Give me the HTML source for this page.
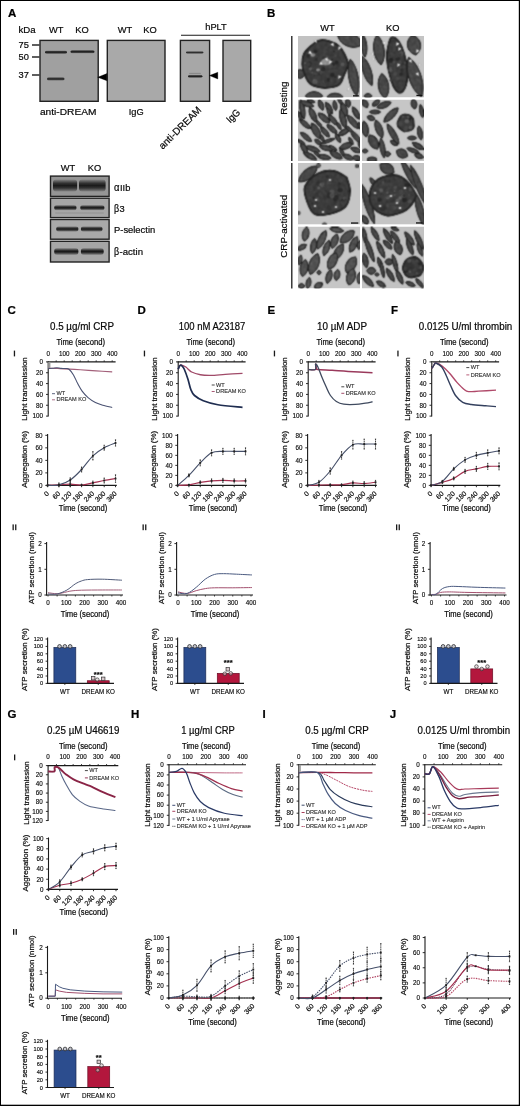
<!DOCTYPE html>
<html><head><meta charset="utf-8"><title>Figure</title>
<style>
html,body{margin:0;padding:0;background:#fff;}
svg{display:block;will-change:transform;}
text{font-family:"Liberation Sans", sans-serif;}
</style></head>
<body>
<svg width="520" height="1106" viewBox="0 0 520 1106" font-family="Liberation Sans, sans-serif">
<defs><filter id="emtex" x="0" y="0" width="100%" height="100%" color-interpolation-filters="sRGB"><feTurbulence type="fractalNoise" baseFrequency="0.3" numOctaves="2" seed="5" result="n"/><feColorMatrix in="n" type="matrix" values="0.33 0.33 0.33 0 0  0.33 0.33 0.33 0 0  0.33 0.33 0.33 0 0  0 0 0 0 1" result="g"/><feComposite in="SourceGraphic" in2="g" operator="arithmetic" k1="0.8" k2="0.6" k3="0" k4="0" result="c"/><feConvolveMatrix in="c" order="3" kernelMatrix="1 2 1 2 6 2 1 2 1" edgeMode="duplicate"/></filter><filter id="gb" x="0" y="0" width="100%" height="100%" color-interpolation-filters="sRGB"><feGaussianBlur stdDeviation="0.35"/></filter><linearGradient id="bandg" x1="0" y1="0" x2="0" y2="1"><stop offset="0" stop-color="#222" stop-opacity="0.15"/><stop offset="0.3" stop-color="#222" stop-opacity="0.85"/><stop offset="0.5" stop-color="#1a1a1a" stop-opacity="1"/><stop offset="0.7" stop-color="#222" stop-opacity="0.85"/><stop offset="1" stop-color="#222" stop-opacity="0.15"/></linearGradient><filter id="bl" x="-20%" y="-100%" width="140%" height="300%"><feGaussianBlur stdDeviation="0.5"/></filter></defs>
<rect x="0" y="0" width="520" height="1106" fill="#fff"/>
<text x="8.00" y="17.00" font-size="11.5" stroke="#000" stroke-width="0.22" font-weight="bold" fill="#000">A</text>
<text x="18.50" y="33.20" font-size="9.95" stroke="#1a1a1a" stroke-width="0.22" textLength="17.20" lengthAdjust="spacingAndGlyphs">kDa</text>
<text x="56.20" y="33.20" font-size="9.95" stroke="#1a1a1a" stroke-width="0.22" text-anchor="middle" textLength="14.46" lengthAdjust="spacingAndGlyphs">WT</text>
<text x="82.00" y="33.20" font-size="9.95" stroke="#1a1a1a" stroke-width="0.22" text-anchor="middle" textLength="13.44" lengthAdjust="spacingAndGlyphs">KO</text>
<text x="125.00" y="33.20" font-size="9.95" stroke="#1a1a1a" stroke-width="0.22" text-anchor="middle" textLength="14.46" lengthAdjust="spacingAndGlyphs">WT</text>
<text x="150.00" y="33.20" font-size="9.95" stroke="#1a1a1a" stroke-width="0.22" text-anchor="middle" textLength="13.44" lengthAdjust="spacingAndGlyphs">KO</text>
<text x="216.00" y="30.30" font-size="9.95" stroke="#1a1a1a" stroke-width="0.22" text-anchor="middle" textLength="21.54" lengthAdjust="spacingAndGlyphs">hPLT</text>
<line x1="181.00" y1="35.20" x2="250.00" y2="35.20" stroke="#1a1a1a" stroke-width="1.1"/>
<text x="28.90" y="48.30" font-size="9.95" stroke="#1a1a1a" stroke-width="0.22" text-anchor="end" textLength="10.34" lengthAdjust="spacingAndGlyphs">75</text>
<line x1="32.00" y1="45.00" x2="39.50" y2="45.00" stroke="#1a1a1a" stroke-width="1.4"/>
<text x="28.90" y="60.30" font-size="9.95" stroke="#1a1a1a" stroke-width="0.22" text-anchor="end" textLength="10.34" lengthAdjust="spacingAndGlyphs">50</text>
<line x1="32.00" y1="57.00" x2="39.50" y2="57.00" stroke="#1a1a1a" stroke-width="1.4"/>
<text x="28.90" y="78.30" font-size="9.95" stroke="#1a1a1a" stroke-width="0.22" text-anchor="end" textLength="10.34" lengthAdjust="spacingAndGlyphs">37</text>
<line x1="32.00" y1="75.00" x2="39.50" y2="75.00" stroke="#1a1a1a" stroke-width="1.4"/>
<rect x="40.00" y="40.40" width="58.20" height="60.90" fill="#a0a0a0" stroke="#222" stroke-width="1.4"/>
<rect x="107.30" y="40.40" width="57.70" height="60.90" fill="#a9a9a9" stroke="#222" stroke-width="1.4"/>
<rect x="180.40" y="40.40" width="29.20" height="60.90" fill="#a7a7a7" stroke="#222" stroke-width="1.4"/>
<rect x="223.00" y="40.40" width="27.70" height="60.90" fill="#a9a9a9" stroke="#222" stroke-width="1.4"/>
<rect x="45.00" y="50.40" width="22.00" height="3.60" rx="1.80" fill="url(#bandg)" opacity="1.0"/>
<rect x="70.50" y="49.90" width="24.00" height="3.60" rx="1.80" fill="url(#bandg)" opacity="1.0"/>
<rect x="47.00" y="77.10" width="17.50" height="3.60" rx="1.80" fill="url(#bandg)" opacity="0.95"/>
<rect x="186.00" y="51.10" width="17.40" height="2.80" rx="1.40" fill="url(#bandg)" opacity="0.85"/>
<rect x="188.00" y="74.70" width="14.40" height="3.20" rx="1.60" fill="url(#bandg)" opacity="1.0"/>
<rect x="189.00" y="72.40" width="12.00" height="1.60" rx="0.80" fill="url(#bandg)" opacity="0.25"/>
<path d="M97.6,77.2 L106.9,73.6 L106.9,80.8 Z" stroke="#000" stroke-width="0.3" fill="#000"/>
<path d="M209.4,75.6 L217.8,72.2 L217.8,79.0 Z" stroke="#000" stroke-width="0.3" fill="#000"/>
<text x="68.20" y="114.80" font-size="9.95" stroke="#1a1a1a" stroke-width="0.22" text-anchor="middle" textLength="56.50" lengthAdjust="spacingAndGlyphs">anti-DREAM</text>
<text x="136.20" y="114.80" font-size="9.95" stroke="#1a1a1a" stroke-width="0.22" text-anchor="middle" textLength="14.99" lengthAdjust="spacingAndGlyphs">IgG</text>
<text x="202.00" y="110.60" font-size="9.95" stroke="#1a1a1a" stroke-width="0.22" text-anchor="end" textLength="55.50" lengthAdjust="spacingAndGlyphs" transform="rotate(-45 202.00 110.60)">anti-DREAM</text>
<text x="240.80" y="113.00" font-size="9.95" stroke="#1a1a1a" stroke-width="0.22" text-anchor="end" textLength="14.99" lengthAdjust="spacingAndGlyphs" transform="rotate(-45 240.80 113.00)">IgG</text>
<text x="68.00" y="171.00" font-size="9.95" stroke="#1a1a1a" stroke-width="0.22" text-anchor="middle" textLength="14.46" lengthAdjust="spacingAndGlyphs">WT</text>
<text x="94.50" y="171.00" font-size="9.95" stroke="#1a1a1a" stroke-width="0.22" text-anchor="middle" textLength="13.44" lengthAdjust="spacingAndGlyphs">KO</text>
<rect x="50.50" y="176.10" width="58.60" height="20.30" fill="#959595" stroke="#222" stroke-width="1.4"/>
<rect x="53.00" y="179.60" width="24.10" height="12.00" rx="3.00" fill="url(#bandg)" opacity="1.0"/>
<rect x="79.00" y="179.60" width="26.60" height="12.00" rx="3.00" fill="url(#bandg)" opacity="1.0"/>
<rect x="50.50" y="198.20" width="58.60" height="19.40" fill="#a6a6a6" stroke="#222" stroke-width="1.4"/>
<rect x="54.20" y="205.10" width="22.30" height="5.20" rx="2.60" fill="url(#bandg)" opacity="1.0"/>
<rect x="80.30" y="205.10" width="24.10" height="5.20" rx="2.60" fill="url(#bandg)" opacity="1.0"/>
<rect x="50.50" y="219.50" width="58.60" height="19.70" fill="#a9a9a9" stroke="#222" stroke-width="1.4"/>
<rect x="56.20" y="226.30" width="22.20" height="5.40" rx="2.70" fill="url(#bandg)" opacity="1.0"/>
<rect x="80.90" y="226.30" width="21.60" height="5.40" rx="2.70" fill="url(#bandg)" opacity="1.0"/>
<rect x="50.50" y="241.30" width="58.60" height="20.70" fill="#a6a6a6" stroke="#222" stroke-width="1.4"/>
<rect x="54.20" y="248.10" width="24.20" height="6.80" rx="3.00" fill="url(#bandg)" opacity="1.0"/>
<rect x="80.90" y="248.10" width="22.80" height="6.80" rx="3.00" fill="url(#bandg)" opacity="1.0"/>
<rect x="55.00" y="212.25" width="49.00" height="1.50" rx="0.75" fill="url(#bandg)" opacity="0.2"/>
<text x="114.00" y="190.60" font-size="11.24" stroke="#1a1a1a" stroke-width="0.22" font-family="Liberation Serif" textLength="5.50" lengthAdjust="spacingAndGlyphs">α</text>
<text x="120.00" y="190.60" font-size="9.95" stroke="#1a1a1a" stroke-width="0.22" textLength="10.34" lengthAdjust="spacingAndGlyphs">IIb</text>
<text x="114.00" y="212.30" font-size="10.7" stroke="#1a1a1a" stroke-width="0.22" font-family="Liberation Serif" textLength="5.09" lengthAdjust="spacingAndGlyphs">β</text>
<text x="119.50" y="212.30" font-size="9.95" stroke="#1a1a1a" stroke-width="0.22" textLength="5.17" lengthAdjust="spacingAndGlyphs">3</text>
<text x="114.00" y="233.20" font-size="9.95" stroke="#1a1a1a" stroke-width="0.22" textLength="41.20" lengthAdjust="spacingAndGlyphs">P-selectin</text>
<text x="114.00" y="254.80" font-size="10.7" stroke="#1a1a1a" stroke-width="0.22" font-family="Liberation Serif" textLength="5.09" lengthAdjust="spacingAndGlyphs">β</text>
<text x="119.50" y="254.80" font-size="9.95" stroke="#1a1a1a" stroke-width="0.22" textLength="23.50" lengthAdjust="spacingAndGlyphs">-actin</text>
<text x="267.00" y="17.30" font-size="11.5" stroke="#000" stroke-width="0.22" font-weight="bold" fill="#000">B</text>
<text x="327.50" y="31.30" font-size="9.95" stroke="#1a1a1a" stroke-width="0.22" text-anchor="middle" textLength="14.46" lengthAdjust="spacingAndGlyphs">WT</text>
<text x="392.80" y="31.30" font-size="9.95" stroke="#1a1a1a" stroke-width="0.22" text-anchor="middle" textLength="13.44" lengthAdjust="spacingAndGlyphs">KO</text>
<line x1="291.80" y1="36.00" x2="291.80" y2="161.00" stroke="#1a1a1a" stroke-width="1.3"/>
<line x1="291.80" y1="163.00" x2="291.80" y2="288.60" stroke="#1a1a1a" stroke-width="1.3"/>
<text x="286.80" y="98.10" font-size="9.8" stroke="#1a1a1a" stroke-width="0.22" text-anchor="middle" textLength="33.20" lengthAdjust="spacingAndGlyphs" transform="rotate(-90 286.80 98.10)">Resting</text>
<text x="287.00" y="226.20" font-size="9.8" stroke="#1a1a1a" stroke-width="0.22" text-anchor="middle" textLength="63.00" lengthAdjust="spacingAndGlyphs" transform="rotate(-90 287.00 226.20)">CRP-activated</text>
<clipPath id="e1"><rect x="298.0" y="36.0" width="62" height="61.5"/></clipPath>
<g clip-path="url(#e1)">
<rect x="298.0" y="36.0" width="62" height="61.5" fill="#c2c2c2"/>
<g filter="url(#emtex)">
<path d="M-13.0,0 C-7.2,-8.7 7.2,-8.7 13.0,0 C7.2,8.7 -7.2,8.7 -13.0,0Z" fill="#484848" stroke="#242424" stroke-width="0.9" transform="translate(350.0 40.0) rotate(20)"/>
<path d="M-18.5,0 C-10.2,-6.2 10.2,-6.2 18.5,0 C10.2,6.2 -10.2,6.2 -18.5,0Z" fill="#484848" stroke="#242424" stroke-width="0.9" transform="translate(353.5 77.5) rotate(80)"/>
<path d="M-5.0,0 C-2.8,-5.6 2.8,-5.6 5.0,0 C2.8,5.6 -2.8,5.6 -5.0,0Z" fill="#484848" stroke="#242424" stroke-width="0.9" transform="translate(300.0 74.0) rotate(0)"/>
<path d="M-8.5,0 C-4.7,-5.6 4.7,-5.6 8.5,0 C4.7,5.6 -4.7,5.6 -8.5,0Z" fill="#484848" stroke="#242424" stroke-width="0.9" transform="translate(314.0 96.0) rotate(0)"/>
<path d="M-8.0,0 C-4.4,-5.0 4.4,-5.0 8.0,0 C4.4,5.0 -4.4,5.0 -8.0,0Z" fill="#484848" stroke="#242424" stroke-width="0.9" transform="translate(335.0 97.0) rotate(0)"/>
<path d="M348.45,64.30 C347.76,65.95 345.76,70.92 344.29,74.21 C342.82,77.50 342.09,81.85 339.63,84.06 C337.17,86.27 332.89,86.97 329.51,87.48 C326.13,88.00 322.64,87.88 319.36,87.17 C316.07,86.46 312.28,85.38 309.82,83.21 C307.37,81.04 305.88,77.30 304.64,74.15 C303.40,71.00 302.51,67.64 302.39,64.30 C302.26,60.96 302.54,57.07 303.91,54.09 C305.27,51.10 308.06,48.65 310.60,46.40 C313.14,44.14 316.02,41.38 319.16,40.54 C322.30,39.71 326.23,40.46 329.46,41.37 C332.68,42.28 336.00,43.84 338.51,46.00 C341.01,48.15 342.82,51.24 344.48,54.29 C346.14,57.35 347.79,62.63 348.45,64.30Z" fill="#3c3c3c" stroke="#262626" stroke-width="1.8"/>
<circle cx="310.4" cy="68.8" r="1.7" fill="rgb(96,96,96)" opacity="0.85"/>
<circle cx="309.4" cy="63.5" r="2.3" fill="rgb(42,42,42)" opacity="0.85"/>
<circle cx="309.3" cy="66.7" r="1.1" fill="rgb(42,42,42)" opacity="0.85"/>
<circle cx="322.5" cy="70.1" r="2.4" fill="rgb(96,96,96)" opacity="0.85"/>
<circle cx="314.4" cy="52.6" r="2.5" fill="rgb(62,62,62)" opacity="0.85"/>
<circle cx="315.7" cy="51.2" r="2.0" fill="rgb(42,42,42)" opacity="0.85"/>
<circle cx="326.8" cy="59.9" r="1.2" fill="rgb(36,36,36)" opacity="0.85"/>
<circle cx="324.6" cy="67.8" r="1.5" fill="rgb(62,62,62)" opacity="0.85"/>
<circle cx="317.1" cy="59.5" r="2.0" fill="rgb(42,42,42)" opacity="0.85"/>
<circle cx="308.5" cy="64.3" r="2.0" fill="rgb(62,62,62)" opacity="0.85"/>
<circle cx="312.3" cy="72.6" r="1.0" fill="rgb(96,96,96)" opacity="0.85"/>
<circle cx="324.0" cy="81.9" r="1.4" fill="rgb(72,72,72)" opacity="0.85"/>
<circle cx="339.9" cy="71.9" r="1.1" fill="rgb(62,62,62)" opacity="0.85"/>
<circle cx="323.1" cy="69.4" r="2.3" fill="rgb(36,36,36)" opacity="0.85"/>
<circle cx="333.4" cy="64.3" r="1.7" fill="rgb(36,36,36)" opacity="0.85"/>
<circle cx="336.6" cy="62.7" r="1.9" fill="rgb(36,36,36)" opacity="0.85"/>
<circle cx="329.5" cy="80.1" r="1.0" fill="rgb(50,50,50)" opacity="0.85"/>
<circle cx="314.9" cy="81.5" r="2.5" fill="rgb(96,96,96)" opacity="0.85"/>
<circle cx="335.3" cy="77.0" r="1.0" fill="rgb(36,36,36)" opacity="0.85"/>
<circle cx="326.8" cy="56.1" r="1.2" fill="rgb(72,72,72)" opacity="0.85"/>
<circle cx="305.0" cy="63.2" r="1.1" fill="rgb(96,96,96)" opacity="0.85"/>
<circle cx="320.3" cy="58.9" r="2.6" fill="rgb(62,62,62)" opacity="0.85"/>
<circle cx="342.6" cy="64.4" r="1.9" fill="rgb(96,96,96)" opacity="0.85"/>
<circle cx="327.1" cy="64.3" r="1.6" fill="rgb(42,42,42)" opacity="0.85"/>
<circle cx="334.0" cy="51.5" r="1.0" fill="rgb(36,36,36)" opacity="0.85"/>
<circle cx="332.3" cy="75.0" r="2.2" fill="rgb(36,36,36)" opacity="0.85"/>
<circle cx="319.3" cy="74.0" r="1.0" fill="rgb(36,36,36)" opacity="0.85"/>
<circle cx="328.4" cy="79.9" r="1.9" fill="rgb(36,36,36)" opacity="0.85"/>
<circle cx="315.3" cy="74.1" r="1.7" fill="rgb(72,72,72)" opacity="0.85"/>
<circle cx="308.2" cy="55.8" r="2.0" fill="rgb(42,42,42)" opacity="0.85"/>
<circle cx="320.9" cy="73.3" r="1.3" fill="rgb(72,72,72)" opacity="0.85"/>
<circle cx="330.6" cy="80.5" r="1.2" fill="rgb(72,72,72)" opacity="0.85"/>
<circle cx="341.9" cy="58.4" r="1.0" fill="rgb(72,72,72)" opacity="0.85"/>
<circle cx="330.6" cy="66.3" r="2.5" fill="rgb(72,72,72)" opacity="0.85"/>
<circle cx="325.6" cy="81.2" r="1.6" fill="rgb(50,50,50)" opacity="0.85"/>
<circle cx="335.7" cy="56.3" r="1.2" fill="rgb(72,72,72)" opacity="0.85"/>
<circle cx="323.5" cy="59.1" r="1.7" fill="rgb(42,42,42)" opacity="0.85"/>
<circle cx="315.7" cy="51.3" r="1.4" fill="rgb(36,36,36)" opacity="0.85"/>
<circle cx="332.1" cy="59.8" r="1.0" fill="rgb(36,36,36)" opacity="0.85"/>
<circle cx="316.1" cy="69.6" r="1.2" fill="rgb(36,36,36)" opacity="0.85"/>
<circle cx="314.4" cy="75.5" r="1.1" fill="rgb(42,42,42)" opacity="0.85"/>
<ellipse cx="326.0" cy="62.0" rx="5.0" ry="3.5" fill="#9a9a9a" opacity="0.9"/>
<ellipse cx="313.0" cy="55.0" rx="2.5" ry="1.8" fill="#9a9a9a" opacity="0.9"/>
<ellipse cx="318.0" cy="70.0" rx="2.0" ry="1.4" fill="#9a9a9a" opacity="0.9"/>
<path d="M0,-1.7 L3.4,0 L0,1.7 Z" fill="#f4f4f4" transform="translate(315.0 40.0) rotate(60)"/>
<path d="M0,-1.7 L3.4,0 L0,1.7 Z" fill="#f4f4f4" transform="translate(332.0 43.5) rotate(60)"/>
<path d="M0,-1.7 L3.4,0 L0,1.7 Z" fill="#f4f4f4" transform="translate(340.0 47.0) rotate(120)"/>
<path d="M0,-1.7 L3.4,0 L0,1.7 Z" fill="#f4f4f4" transform="translate(326.0 58.0) rotate(60)"/>
<path d="M0,-1.7 L3.4,0 L0,1.7 Z" fill="#f4f4f4" transform="translate(331.0 61.0) rotate(120)"/>
<path d="M0,-1.7 L3.4,0 L0,1.7 Z" fill="#f4f4f4" transform="translate(320.0 63.0) rotate(30)"/>
<path d="M0,-1.7 L3.4,0 L0,1.7 Z" fill="#f4f4f4" transform="translate(340.0 76.0) rotate(120)"/>
<path d="M0,-1.7 L3.4,0 L0,1.7 Z" fill="#f4f4f4" transform="translate(349.0 88.0) rotate(120)"/>
<path d="M0,-1.7 L3.4,0 L0,1.7 Z" fill="#f4f4f4" transform="translate(309.0 52.0) rotate(30)"/>
</g>
<rect x="353" y="95.2" width="5.8" height="1.3" fill="#111"/>
</g>
<clipPath id="e2"><rect x="362.0" y="36.0" width="62" height="61.5"/></clipPath>
<g clip-path="url(#e2)">
<rect x="362.0" y="36.0" width="62" height="61.5" fill="#c4c4c4"/>
<g filter="url(#emtex)">
<path d="M-11.0,0 C-6.1,-3.7 6.1,-3.7 11.0,0 C6.1,3.7 -6.1,3.7 -11.0,0Z" fill="#484848" stroke="#242424" stroke-width="0.9" transform="translate(364.0 46.0) rotate(85)"/>
<path d="M-15.5,0 C-8.5,-5.3 8.5,-5.3 15.5,0 C8.5,5.3 -8.5,5.3 -15.5,0Z" fill="#484848" stroke="#242424" stroke-width="0.9" transform="translate(367.0 71.0) rotate(72)"/>
<path d="M-15.0,0 C-8.2,-6.8 8.2,-6.8 15.0,0 C8.2,6.8 -8.2,6.8 -15.0,0Z" fill="#484848" stroke="#242424" stroke-width="0.9" transform="translate(379.0 50.0) rotate(82)"/>
<path d="M-12.5,0 C-6.9,-6.8 6.9,-6.8 12.5,0 C6.9,6.8 -6.9,6.8 -12.5,0Z" fill="#484848" stroke="#242424" stroke-width="0.9" transform="translate(383.5 86.0) rotate(82)"/>
<path d="M-20.5,0 C-11.3,-8.1 11.3,-8.1 20.5,0 C11.3,8.1 -11.3,8.1 -20.5,0Z" fill="#484848" stroke="#242424" stroke-width="0.9" transform="translate(415.0 77.0) rotate(72)"/>
<path d="M-10.0,0 C-5.5,-8.7 5.5,-8.7 10.0,0 C5.5,8.7 -5.5,8.7 -10.0,0Z" fill="#484848" stroke="#242424" stroke-width="0.9" transform="translate(414.0 45.0) rotate(80)"/>
<path d="M-4.0,0 C-2.2,-3.1 2.2,-3.1 4.0,0 C2.2,3.1 -2.2,3.1 -4.0,0Z" fill="#484848" stroke="#242424" stroke-width="0.9" transform="translate(368.0 96.0) rotate(0)"/>
<path d="M406.38,63.68 C406.54,65.64 407.39,71.87 407.31,75.43 C407.23,78.99 406.64,82.43 405.90,85.02 C405.15,87.62 404.07,89.78 402.85,91.00 C401.63,92.21 400.08,92.99 398.59,92.34 C397.10,91.69 395.27,89.65 393.91,87.09 C392.56,84.53 391.44,80.45 390.45,76.98 C389.46,73.51 388.54,69.96 387.96,66.27 C387.38,62.58 386.92,58.31 386.99,54.87 C387.06,51.43 387.73,48.41 388.39,45.61 C389.04,42.81 389.76,39.29 390.94,38.07 C392.12,36.85 393.95,37.35 395.45,38.29 C396.95,39.24 398.59,41.35 399.97,43.75 C401.35,46.15 402.66,49.36 403.73,52.68 C404.80,56.01 405.94,61.85 406.38,63.68Z" fill="#3c3c3c" stroke="#262626" stroke-width="1.8"/>
<circle cx="390.5" cy="67.9" r="1.5" fill="rgb(84,84,84)" opacity="0.85"/>
<circle cx="391.1" cy="80.2" r="1.4" fill="rgb(62,62,62)" opacity="0.85"/>
<circle cx="399.5" cy="47.6" r="1.3" fill="rgb(72,72,72)" opacity="0.85"/>
<circle cx="403.4" cy="65.2" r="1.5" fill="rgb(62,62,62)" opacity="0.85"/>
<circle cx="395.0" cy="73.7" r="2.3" fill="rgb(72,72,72)" opacity="0.85"/>
<circle cx="403.0" cy="73.4" r="2.1" fill="rgb(50,50,50)" opacity="0.85"/>
<circle cx="397.7" cy="58.6" r="2.3" fill="rgb(36,36,36)" opacity="0.85"/>
<circle cx="395.0" cy="55.9" r="2.5" fill="rgb(62,62,62)" opacity="0.85"/>
<circle cx="401.0" cy="74.5" r="1.8" fill="rgb(42,42,42)" opacity="0.85"/>
<circle cx="401.5" cy="53.6" r="2.4" fill="rgb(84,84,84)" opacity="0.85"/>
<circle cx="391.6" cy="59.6" r="1.6" fill="rgb(36,36,36)" opacity="0.85"/>
<circle cx="391.6" cy="73.5" r="1.9" fill="rgb(62,62,62)" opacity="0.85"/>
<circle cx="390.8" cy="60.4" r="2.5" fill="rgb(36,36,36)" opacity="0.85"/>
<circle cx="403.5" cy="62.3" r="2.5" fill="rgb(50,50,50)" opacity="0.85"/>
<circle cx="400.3" cy="54.6" r="1.1" fill="rgb(50,50,50)" opacity="0.85"/>
<circle cx="397.5" cy="78.5" r="1.9" fill="rgb(72,72,72)" opacity="0.85"/>
<circle cx="397.3" cy="55.5" r="2.3" fill="rgb(62,62,62)" opacity="0.85"/>
<circle cx="391.7" cy="71.9" r="2.0" fill="rgb(42,42,42)" opacity="0.85"/>
<circle cx="400.5" cy="67.7" r="1.1" fill="rgb(72,72,72)" opacity="0.85"/>
<circle cx="393.8" cy="62.1" r="1.4" fill="rgb(84,84,84)" opacity="0.85"/>
<circle cx="391.8" cy="71.5" r="2.0" fill="rgb(72,72,72)" opacity="0.85"/>
<circle cx="402.2" cy="69.9" r="1.5" fill="rgb(42,42,42)" opacity="0.85"/>
<circle cx="390.5" cy="70.2" r="1.7" fill="rgb(96,96,96)" opacity="0.85"/>
<circle cx="400.2" cy="62.5" r="1.5" fill="rgb(72,72,72)" opacity="0.85"/>
<circle cx="399.6" cy="83.1" r="0.9" fill="rgb(72,72,72)" opacity="0.85"/>
<circle cx="396.2" cy="84.6" r="1.2" fill="rgb(50,50,50)" opacity="0.85"/>
<circle cx="398.6" cy="49.7" r="2.0" fill="rgb(42,42,42)" opacity="0.85"/>
<circle cx="405.0" cy="62.7" r="1.2" fill="rgb(72,72,72)" opacity="0.85"/>
<path d="M0,-1.7 L3.4,0 L0,1.7 Z" fill="#f4f4f4" transform="translate(383.5 42.0) rotate(60)"/>
<path d="M0,-1.7 L3.4,0 L0,1.7 Z" fill="#f4f4f4" transform="translate(398.0 43.0) rotate(120)"/>
<path d="M0,-1.7 L3.4,0 L0,1.7 Z" fill="#f4f4f4" transform="translate(400.0 48.0) rotate(120)"/>
<path d="M0,-1.7 L3.4,0 L0,1.7 Z" fill="#f4f4f4" transform="translate(372.0 53.0) rotate(60)"/>
<path d="M0,-1.7 L3.4,0 L0,1.7 Z" fill="#f4f4f4" transform="translate(373.0 58.0) rotate(60)"/>
<path d="M0,-1.7 L3.4,0 L0,1.7 Z" fill="#f4f4f4" transform="translate(399.0 64.0) rotate(120)"/>
<path d="M0,-1.7 L3.4,0 L0,1.7 Z" fill="#f4f4f4" transform="translate(410.0 60.0) rotate(60)"/>
<path d="M0,-1.7 L3.4,0 L0,1.7 Z" fill="#f4f4f4" transform="translate(418.0 50.0) rotate(120)"/>
<path d="M0,-1.7 L3.4,0 L0,1.7 Z" fill="#f4f4f4" transform="translate(420.0 64.0) rotate(120)"/>
<path d="M0,-1.7 L3.4,0 L0,1.7 Z" fill="#f4f4f4" transform="translate(417.0 73.0) rotate(60)"/>
</g>
<rect x="416.4" y="94.8" width="6.0" height="1.3" fill="#111"/>
</g>
<clipPath id="e3"><rect x="298.0" y="99.5" width="62" height="61.5"/></clipPath>
<g clip-path="url(#e3)">
<rect x="298.0" y="99.5" width="62" height="61.5" fill="#c4c4c4"/>
<g filter="url(#emtex)">
<path d="M-10.0,0 C-5.5,-3.1 5.5,-3.1 10.0,0 C5.5,3.1 -5.5,3.1 -10.0,0Z" fill="#484848" stroke="#242424" stroke-width="0.9" transform="translate(302.3 109.0) rotate(80)"/>
<path d="M-7.0,0 C-3.9,-3.1 3.9,-3.1 7.0,0 C3.9,3.1 -3.9,3.1 -7.0,0Z" fill="#484848" stroke="#242424" stroke-width="0.9" transform="translate(307.0 104.0) rotate(20)"/>
<path d="M-8.0,0 C-4.4,-3.7 4.4,-3.7 8.0,0 C4.4,3.7 -4.4,3.7 -8.0,0Z" fill="#484848" stroke="#242424" stroke-width="0.9" transform="translate(313.0 115.0) rotate(65)"/>
<path d="M-5.5,0 C-3.0,-3.1 3.0,-3.1 5.5,0 C3.0,3.1 -3.0,3.1 -5.5,0Z" fill="#484848" stroke="#242424" stroke-width="0.9" transform="translate(321.0 105.0) rotate(70)"/>
<path d="M-6.5,0 C-3.6,-3.1 3.6,-3.1 6.5,0 C3.6,3.1 -3.6,3.1 -6.5,0Z" fill="#484848" stroke="#242424" stroke-width="0.9" transform="translate(329.0 108.0) rotate(60)"/>
<path d="M-5.0,0 C-2.8,-2.5 2.8,-2.5 5.0,0 C2.8,2.5 -2.8,2.5 -5.0,0Z" fill="#484848" stroke="#242424" stroke-width="0.9" transform="translate(335.0 105.5) rotate(80)"/>
<path d="M-7.5,0 C-4.1,-3.7 4.1,-3.7 7.5,0 C4.1,3.7 -4.1,3.7 -7.5,0Z" fill="#484848" stroke="#242424" stroke-width="0.9" transform="translate(344.0 109.0) rotate(70)"/>
<path d="M-4.5,0 C-2.5,-3.1 2.5,-3.1 4.5,0 C2.5,3.1 -2.5,3.1 -4.5,0Z" fill="#484848" stroke="#242424" stroke-width="0.9" transform="translate(348.0 103.0) rotate(80)"/>
<path d="M-7.0,0 C-3.9,-3.1 3.9,-3.1 7.0,0 C3.9,3.1 -3.9,3.1 -7.0,0Z" fill="#484848" stroke="#242424" stroke-width="0.9" transform="translate(356.0 113.0) rotate(60)"/>
<path d="M-7.5,0 C-4.1,-3.7 4.1,-3.7 7.5,0 C4.1,3.7 -4.1,3.7 -7.5,0Z" fill="#484848" stroke="#242424" stroke-width="0.9" transform="translate(324.0 118.0) rotate(40)"/>
<path d="M-6.5,0 C-3.6,-3.1 3.6,-3.1 6.5,0 C3.6,3.1 -3.6,3.1 -6.5,0Z" fill="#484848" stroke="#242424" stroke-width="0.9" transform="translate(333.0 120.0) rotate(50)"/>
<path d="M-10.0,0 C-5.5,-3.7 5.5,-3.7 10.0,0 C5.5,3.7 -5.5,3.7 -10.0,0Z" fill="#484848" stroke="#242424" stroke-width="0.9" transform="translate(343.0 119.0) rotate(75)"/>
<path d="M-8.5,0 C-4.7,-3.7 4.7,-3.7 8.5,0 C4.7,3.7 -4.7,3.7 -8.5,0Z" fill="#484848" stroke="#242424" stroke-width="0.9" transform="translate(353.0 122.0) rotate(50)"/>
<path d="M-7.0,0 C-3.9,-3.1 3.9,-3.1 7.0,0 C3.9,3.1 -3.9,3.1 -7.0,0Z" fill="#484848" stroke="#242424" stroke-width="0.9" transform="translate(305.0 124.0) rotate(40)"/>
<path d="M-9.0,0 C-5.0,-4.3 5.0,-4.3 9.0,0 C5.0,4.3 -5.0,4.3 -9.0,0Z" fill="#484848" stroke="#242424" stroke-width="0.9" transform="translate(316.0 131.0) rotate(60)"/>
<path d="M-6.5,0 C-3.6,-3.1 3.6,-3.1 6.5,0 C3.6,3.1 -3.6,3.1 -6.5,0Z" fill="#484848" stroke="#242424" stroke-width="0.9" transform="translate(325.0 132.0) rotate(50)"/>
<path d="M-6.5,0 C-3.6,-3.1 3.6,-3.1 6.5,0 C3.6,3.1 -3.6,3.1 -6.5,0Z" fill="#484848" stroke="#242424" stroke-width="0.9" transform="translate(332.0 129.0) rotate(40)"/>
<path d="M-6.5,0 C-3.6,-3.1 3.6,-3.1 6.5,0 C3.6,3.1 -3.6,3.1 -6.5,0Z" fill="#484848" stroke="#242424" stroke-width="0.9" transform="translate(344.0 132.0) rotate(-30)"/>
<path d="M-8.0,0 C-4.4,-3.1 4.4,-3.1 8.0,0 C4.4,3.1 -4.4,3.1 -8.0,0Z" fill="#484848" stroke="#242424" stroke-width="0.9" transform="translate(356.0 137.0) rotate(50)"/>
<path d="M-7.0,0 C-3.9,-3.1 3.9,-3.1 7.0,0 C3.9,3.1 -3.9,3.1 -7.0,0Z" fill="#484848" stroke="#242424" stroke-width="0.9" transform="translate(306.0 137.0) rotate(40)"/>
<path d="M-7.5,0 C-4.1,-1.9 4.1,-1.9 7.5,0 C4.1,1.9 -4.1,1.9 -7.5,0Z" fill="#484848" stroke="#242424" stroke-width="0.9" transform="translate(328.0 141.0) rotate(-20)"/>
<path d="M-6.5,0 C-3.6,-3.1 3.6,-3.1 6.5,0 C3.6,3.1 -3.6,3.1 -6.5,0Z" fill="#484848" stroke="#242424" stroke-width="0.9" transform="translate(304.0 148.0) rotate(60)"/>
<path d="M-7.5,0 C-4.1,-3.1 4.1,-3.1 7.5,0 C4.1,3.1 -4.1,3.1 -7.5,0Z" fill="#484848" stroke="#242424" stroke-width="0.9" transform="translate(313.0 149.0) rotate(20)"/>
<path d="M-7.0,0 C-3.9,-3.1 3.9,-3.1 7.0,0 C3.9,3.1 -3.9,3.1 -7.0,0Z" fill="#484848" stroke="#242424" stroke-width="0.9" transform="translate(326.0 148.0) rotate(15)"/>
<path d="M-7.0,0 C-3.9,-3.7 3.9,-3.7 7.0,0 C3.9,3.7 -3.9,3.7 -7.0,0Z" fill="#484848" stroke="#242424" stroke-width="0.9" transform="translate(346.0 146.0) rotate(-20)"/>
<path d="M-5.5,0 C-3.0,-3.1 3.0,-3.1 5.5,0 C3.0,3.1 -3.0,3.1 -5.5,0Z" fill="#484848" stroke="#242424" stroke-width="0.9" transform="translate(356.0 150.0) rotate(20)"/>
<path d="M-7.5,0 C-4.1,-3.1 4.1,-3.1 7.5,0 C4.1,3.1 -4.1,3.1 -7.5,0Z" fill="#484848" stroke="#242424" stroke-width="0.9" transform="translate(310.0 156.0) rotate(30)"/>
<path d="M-7.0,0 C-3.9,-3.1 3.9,-3.1 7.0,0 C3.9,3.1 -3.9,3.1 -7.0,0Z" fill="#484848" stroke="#242424" stroke-width="0.9" transform="translate(324.0 157.0) rotate(10)"/>
<path d="M-7.0,0 C-3.9,-3.7 3.9,-3.7 7.0,0 C3.9,3.7 -3.9,3.7 -7.0,0Z" fill="#484848" stroke="#242424" stroke-width="0.9" transform="translate(336.0 155.0) rotate(30)"/>
<path d="M-6.0,0 C-3.3,-3.1 3.3,-3.1 6.0,0 C3.3,3.1 -3.3,3.1 -6.0,0Z" fill="#484848" stroke="#242424" stroke-width="0.9" transform="translate(348.0 157.0) rotate(20)"/>
<path d="M-4.5,0 C-2.5,-3.1 2.5,-3.1 4.5,0 C2.5,3.1 -2.5,3.1 -4.5,0Z" fill="#484848" stroke="#242424" stroke-width="0.9" transform="translate(357.0 158.0) rotate(10)"/>
<path d="M-5.0,0 C-2.8,-2.5 2.8,-2.5 5.0,0 C2.8,2.5 -2.8,2.5 -5.0,0Z" fill="#484848" stroke="#242424" stroke-width="0.9" transform="translate(338.0 138.0) rotate(60)"/>
<path d="M-4.0,0 C-2.2,-2.5 2.2,-2.5 4.0,0 C2.2,2.5 -2.2,2.5 -4.0,0Z" fill="#484848" stroke="#242424" stroke-width="0.9" transform="translate(318.0 142.0) rotate(40)"/>
<path d="M-5.0,0 C-2.8,-1.9 2.8,-1.9 5.0,0 C2.8,1.9 -2.8,1.9 -5.0,0Z" fill="#484848" stroke="#242424" stroke-width="0.9" transform="translate(300.0 116.0) rotate(70)"/>
<path d="M-4.5,0 C-2.5,-1.9 2.5,-1.9 4.5,0 C2.5,1.9 -2.5,1.9 -4.5,0Z" fill="#484848" stroke="#242424" stroke-width="0.9" transform="translate(319.0 124.0) rotate(50)"/>
<path d="M-4.0,0 C-2.2,-1.9 2.2,-1.9 4.0,0 C2.2,1.9 -2.2,1.9 -4.0,0Z" fill="#484848" stroke="#242424" stroke-width="0.9" transform="translate(339.0 126.0) rotate(60)"/>
<path d="M-4.5,0 C-2.5,-1.9 2.5,-1.9 4.5,0 C2.5,1.9 -2.5,1.9 -4.5,0Z" fill="#484848" stroke="#242424" stroke-width="0.9" transform="translate(349.0 129.0) rotate(40)"/>
<path d="M-4.0,0 C-2.2,-1.9 2.2,-1.9 4.0,0 C2.2,1.9 -2.2,1.9 -4.0,0Z" fill="#484848" stroke="#242424" stroke-width="0.9" transform="translate(360.0 126.0) rotate(70)"/>
<path d="M-4.5,0 C-2.5,-1.9 2.5,-1.9 4.5,0 C2.5,1.9 -2.5,1.9 -4.5,0Z" fill="#484848" stroke="#242424" stroke-width="0.9" transform="translate(301.0 142.0) rotate(30)"/>
<path d="M-4.0,0 C-2.2,-1.9 2.2,-1.9 4.0,0 C2.2,1.9 -2.2,1.9 -4.0,0Z" fill="#484848" stroke="#242424" stroke-width="0.9" transform="translate(322.0 138.0) rotate(60)"/>
<path d="M-4.0,0 C-2.2,-1.9 2.2,-1.9 4.0,0 C2.2,1.9 -2.2,1.9 -4.0,0Z" fill="#484848" stroke="#242424" stroke-width="0.9" transform="translate(351.0 141.0) rotate(60)"/>
<path d="M-4.5,0 C-2.5,-1.9 2.5,-1.9 4.5,0 C2.5,1.9 -2.5,1.9 -4.5,0Z" fill="#484848" stroke="#242424" stroke-width="0.9" transform="translate(333.0 148.0) rotate(30)"/>
<path d="M-4.0,0 C-2.2,-1.9 2.2,-1.9 4.0,0 C2.2,1.9 -2.2,1.9 -4.0,0Z" fill="#484848" stroke="#242424" stroke-width="0.9" transform="translate(342.0 152.0) rotate(60)"/>
<path d="M-4.0,0 C-2.2,-1.9 2.2,-1.9 4.0,0 C2.2,1.9 -2.2,1.9 -4.0,0Z" fill="#484848" stroke="#242424" stroke-width="0.9" transform="translate(317.0 154.0) rotate(40)"/>
<path d="M-4.0,0 C-2.2,-1.9 2.2,-1.9 4.0,0 C2.2,1.9 -2.2,1.9 -4.0,0Z" fill="#484848" stroke="#242424" stroke-width="0.9" transform="translate(329.0 112.0) rotate(70)"/>
<path d="M-4.0,0 C-2.2,-1.9 2.2,-1.9 4.0,0 C2.2,1.9 -2.2,1.9 -4.0,0Z" fill="#484848" stroke="#242424" stroke-width="0.9" transform="translate(340.0 101.0) rotate(60)"/>
<path d="M-4.0,0 C-2.2,-1.9 2.2,-1.9 4.0,0 C2.2,1.9 -2.2,1.9 -4.0,0Z" fill="#484848" stroke="#242424" stroke-width="0.9" transform="translate(311.0 101.0) rotate(20)"/>
<path d="M-4.0,0 C-2.2,-1.9 2.2,-1.9 4.0,0 C2.2,1.9 -2.2,1.9 -4.0,0Z" fill="#484848" stroke="#242424" stroke-width="0.9" transform="translate(360.0 145.0) rotate(70)"/>
</g>
</g>
<clipPath id="e4"><rect x="362.0" y="99.5" width="62" height="61.5"/></clipPath>
<g clip-path="url(#e4)">
<rect x="362.0" y="99.5" width="62" height="61.5" fill="#c6c6c6"/>
<g filter="url(#emtex)">
<path d="M-4.5,0 C-2.5,-3.7 2.5,-3.7 4.5,0 C2.5,3.7 -2.5,3.7 -4.5,0Z" fill="#484848" stroke="#242424" stroke-width="0.9" transform="translate(365.0 103.5) rotate(60)"/>
<path d="M-4.5,0 C-2.5,-3.1 2.5,-3.1 4.5,0 C2.5,3.1 -2.5,3.1 -4.5,0Z" fill="#484848" stroke="#242424" stroke-width="0.9" transform="translate(376.0 103.0) rotate(-40)"/>
<path d="M-7.5,0 C-4.1,-3.7 4.1,-3.7 7.5,0 C4.1,3.7 -4.1,3.7 -7.5,0Z" fill="#484848" stroke="#242424" stroke-width="0.9" transform="translate(384.0 105.0) rotate(-20)"/>
<path d="M-5.0,0 C-2.8,-3.7 2.8,-3.7 5.0,0 C2.8,3.7 -2.8,3.7 -5.0,0Z" fill="#484848" stroke="#242424" stroke-width="0.9" transform="translate(414.0 104.0) rotate(80)"/>
<path d="M-6.5,0 C-3.6,-2.5 3.6,-2.5 6.5,0 C3.6,2.5 -3.6,2.5 -6.5,0Z" fill="#484848" stroke="#242424" stroke-width="0.9" transform="translate(421.5 111.0) rotate(80)"/>
<path d="M-5.5,0 C-3.0,-2.5 3.0,-2.5 5.5,0 C3.0,2.5 -3.0,2.5 -5.5,0Z" fill="#484848" stroke="#242424" stroke-width="0.9" transform="translate(375.0 112.0) rotate(0)"/>
<path d="M-10.0,0 C-5.5,-4.3 5.5,-4.3 10.0,0 C5.5,4.3 -5.5,4.3 -10.0,0Z" fill="#484848" stroke="#242424" stroke-width="0.9" transform="translate(391.0 115.0) rotate(-45)"/>
<path d="M-4.0,0 C-2.2,-3.1 2.2,-3.1 4.0,0 C2.2,3.1 -2.2,3.1 -4.0,0Z" fill="#484848" stroke="#242424" stroke-width="0.9" transform="translate(371.0 118.0) rotate(20)"/>
<path d="M-8.0,0 C-4.4,-4.3 4.4,-4.3 8.0,0 C4.4,4.3 -4.4,4.3 -8.0,0Z" fill="#484848" stroke="#242424" stroke-width="0.9" transform="translate(365.0 129.0) rotate(80)"/>
<path d="M-9.5,0 C-5.2,-4.3 5.2,-4.3 9.5,0 C5.2,4.3 -5.2,4.3 -9.5,0Z" fill="#484848" stroke="#242424" stroke-width="0.9" transform="translate(379.0 129.0) rotate(70)"/>
<path d="M-11.5,0 C-6.3,-3.7 6.3,-3.7 11.5,0 C6.3,3.7 -6.3,3.7 -11.5,0Z" fill="#484848" stroke="#242424" stroke-width="0.9" transform="translate(393.0 134.0) rotate(60)"/>
<path d="M-7.0,0 C-3.9,-3.1 3.9,-3.1 7.0,0 C3.9,3.1 -3.9,3.1 -7.0,0Z" fill="#484848" stroke="#242424" stroke-width="0.9" transform="translate(420.0 133.0) rotate(80)"/>
<path d="M-8.0,0 C-4.4,-5.6 4.4,-5.6 8.0,0 C4.4,5.6 -4.4,5.6 -8.0,0Z" fill="#484848" stroke="#242424" stroke-width="0.9" transform="translate(373.5 142.0) rotate(60)"/>
<path d="M-10.0,0 C-5.5,-3.1 5.5,-3.1 10.0,0 C5.5,3.1 -5.5,3.1 -10.0,0Z" fill="#484848" stroke="#242424" stroke-width="0.9" transform="translate(382.5 148.0) rotate(80)"/>
<path d="M-4.0,0 C-2.2,-2.5 2.2,-2.5 4.0,0 C2.2,2.5 -2.2,2.5 -4.0,0Z" fill="#484848" stroke="#242424" stroke-width="0.9" transform="translate(394.0 143.0) rotate(30)"/>
<path d="M-4.5,0 C-2.5,-2.5 2.5,-2.5 4.5,0 C2.5,2.5 -2.5,2.5 -4.5,0Z" fill="#484848" stroke="#242424" stroke-width="0.9" transform="translate(412.0 138.0) rotate(0)"/>
<path d="M-6.5,0 C-3.6,-3.1 3.6,-3.1 6.5,0 C3.6,3.1 -3.6,3.1 -6.5,0Z" fill="#484848" stroke="#242424" stroke-width="0.9" transform="translate(418.0 146.0) rotate(30)"/>
<path d="M-6.5,0 C-3.6,-2.5 3.6,-2.5 6.5,0 C3.6,2.5 -3.6,2.5 -6.5,0Z" fill="#484848" stroke="#242424" stroke-width="0.9" transform="translate(413.0 150.5) rotate(20)"/>
<path d="M-6.0,0 C-3.3,-5.6 3.3,-5.6 6.0,0 C3.3,5.6 -3.3,5.6 -6.0,0Z" fill="#484848" stroke="#242424" stroke-width="0.9" transform="translate(402.0 153.5) rotate(30)"/>
<path d="M-3.0,0 C-1.7,-2.5 1.7,-2.5 3.0,0 C1.7,2.5 -1.7,2.5 -3.0,0Z" fill="#484848" stroke="#242424" stroke-width="0.9" transform="translate(365.0 151.0) rotate(0)"/>
<path d="M-3.0,0 C-1.7,-3.1 1.7,-3.1 3.0,0 C1.7,3.1 -1.7,3.1 -3.0,0Z" fill="#484848" stroke="#242424" stroke-width="0.9" transform="translate(387.5 154.0) rotate(0)"/>
<path d="M-5.0,0 C-2.8,-2.5 2.8,-2.5 5.0,0 C2.8,2.5 -2.8,2.5 -5.0,0Z" fill="#484848" stroke="#242424" stroke-width="0.9" transform="translate(372.0 159.0) rotate(0)"/>
<path d="M-4.5,0 C-2.5,-3.1 2.5,-3.1 4.5,0 C2.5,3.1 -2.5,3.1 -4.5,0Z" fill="#484848" stroke="#242424" stroke-width="0.9" transform="translate(419.0 156.0) rotate(20)"/>
<path d="M413.47,123.00 C413.49,123.65 413.97,125.74 413.58,126.88 C413.19,128.02 412.13,129.21 411.14,129.85 C410.16,130.49 408.82,130.48 407.66,130.73 C406.50,130.98 405.28,131.57 404.21,131.34 C403.13,131.12 402.16,130.15 401.19,129.40 C400.23,128.66 399.01,127.95 398.41,126.89 C397.81,125.82 397.51,124.25 397.60,123.00 C397.70,121.75 398.44,120.54 398.99,119.41 C399.55,118.29 400.07,117.05 400.94,116.26 C401.81,115.48 403.09,114.94 404.22,114.72 C405.35,114.50 406.61,114.68 407.73,114.97 C408.85,115.25 410.05,115.68 410.94,116.42 C411.84,117.15 412.68,118.27 413.10,119.37 C413.52,120.46 413.41,122.39 413.47,123.00Z" fill="#3c3c3c" stroke="#262626" stroke-width="1.8"/>
<circle cx="405.7" cy="129.0" r="2.3" fill="rgb(84,84,84)" opacity="0.85"/>
<circle cx="410.2" cy="119.3" r="1.2" fill="rgb(84,84,84)" opacity="0.85"/>
<circle cx="406.9" cy="129.1" r="1.0" fill="rgb(42,42,42)" opacity="0.85"/>
<circle cx="409.3" cy="117.9" r="1.6" fill="rgb(36,36,36)" opacity="0.85"/>
<circle cx="408.8" cy="118.2" r="2.6" fill="rgb(36,36,36)" opacity="0.85"/>
<circle cx="407.0" cy="121.2" r="2.3" fill="rgb(96,96,96)" opacity="0.85"/>
<circle cx="408.1" cy="116.8" r="1.6" fill="rgb(84,84,84)" opacity="0.85"/>
<circle cx="410.1" cy="128.2" r="2.3" fill="rgb(50,50,50)" opacity="0.85"/>
<circle cx="400.1" cy="123.5" r="2.6" fill="rgb(72,72,72)" opacity="0.85"/>
<circle cx="402.9" cy="117.0" r="1.4" fill="rgb(84,84,84)" opacity="0.85"/>
<circle cx="410.6" cy="127.4" r="2.0" fill="rgb(96,96,96)" opacity="0.85"/>
<circle cx="405.6" cy="127.8" r="2.2" fill="rgb(72,72,72)" opacity="0.85"/>
</g>
</g>
<clipPath id="e5"><rect x="298.0" y="163.0" width="62" height="61.6"/></clipPath>
<g clip-path="url(#e5)">
<rect x="298.0" y="163.0" width="62" height="61.6" fill="#c6c6c6"/>
<g filter="url(#emtex)">
<path d="M-12.0,0 C-6.6,-6.2 6.6,-6.2 12.0,0 C6.6,6.2 -6.6,6.2 -12.0,0Z" fill="#484848" stroke="#242424" stroke-width="0.9" transform="translate(308.0 174.0) rotate(-40)"/>
<circle cx="318.5" cy="165.5" r="2.2" fill="#555"/>
<circle cx="357" cy="166" r="2.0" fill="#555"/>
<circle cx="324.5" cy="225" r="2.5" fill="#555"/>
<circle cx="298.5" cy="213" r="2.0" fill="#555"/>
<path d="M346.56,177.56 C347.11,179.80 350.03,186.20 349.87,190.99 C349.70,195.78 348.81,202.51 345.57,206.29 C342.33,210.06 335.55,212.37 330.41,213.64 C325.26,214.91 318.53,215.90 314.69,213.91 C310.85,211.93 308.95,206.33 307.35,201.73 C305.75,197.14 303.30,191.04 305.09,186.34 C306.88,181.63 313.24,176.06 318.08,173.52 C322.93,170.97 329.40,170.41 334.15,171.08 C338.89,171.76 344.49,176.48 346.56,177.56Z" fill="#3c3c3c" stroke="#262626" stroke-width="1.8"/>
<circle cx="342.3" cy="202.1" r="1.8" fill="rgb(84,84,84)" opacity="0.85"/>
<circle cx="328.8" cy="208.1" r="2.1" fill="rgb(50,50,50)" opacity="0.85"/>
<circle cx="322.0" cy="184.6" r="2.4" fill="rgb(84,84,84)" opacity="0.85"/>
<circle cx="312.5" cy="203.3" r="1.3" fill="rgb(50,50,50)" opacity="0.85"/>
<circle cx="338.8" cy="186.6" r="1.5" fill="rgb(50,50,50)" opacity="0.85"/>
<circle cx="318.1" cy="183.3" r="1.8" fill="rgb(42,42,42)" opacity="0.85"/>
<circle cx="324.0" cy="186.6" r="1.0" fill="rgb(84,84,84)" opacity="0.85"/>
<circle cx="325.5" cy="191.1" r="1.2" fill="rgb(50,50,50)" opacity="0.85"/>
<circle cx="341.8" cy="191.2" r="2.4" fill="rgb(62,62,62)" opacity="0.85"/>
<circle cx="342.5" cy="200.8" r="1.9" fill="rgb(36,36,36)" opacity="0.85"/>
<circle cx="320.1" cy="184.6" r="1.1" fill="rgb(96,96,96)" opacity="0.85"/>
<circle cx="339.2" cy="183.7" r="1.4" fill="rgb(42,42,42)" opacity="0.85"/>
<circle cx="317.9" cy="184.1" r="1.8" fill="rgb(50,50,50)" opacity="0.85"/>
<circle cx="343.8" cy="202.5" r="1.4" fill="rgb(36,36,36)" opacity="0.85"/>
<circle cx="334.7" cy="197.7" r="1.1" fill="rgb(62,62,62)" opacity="0.85"/>
<circle cx="322.0" cy="191.9" r="2.6" fill="rgb(62,62,62)" opacity="0.85"/>
<circle cx="334.9" cy="202.5" r="1.7" fill="rgb(50,50,50)" opacity="0.85"/>
<circle cx="313.3" cy="198.1" r="1.3" fill="rgb(36,36,36)" opacity="0.85"/>
<circle cx="317.2" cy="200.2" r="2.5" fill="rgb(72,72,72)" opacity="0.85"/>
<circle cx="335.8" cy="195.5" r="1.4" fill="rgb(84,84,84)" opacity="0.85"/>
<circle cx="310.4" cy="198.6" r="2.5" fill="rgb(62,62,62)" opacity="0.85"/>
<circle cx="317.3" cy="197.7" r="1.5" fill="rgb(72,72,72)" opacity="0.85"/>
<circle cx="315.9" cy="194.7" r="1.2" fill="rgb(72,72,72)" opacity="0.85"/>
<circle cx="318.3" cy="184.0" r="1.1" fill="rgb(50,50,50)" opacity="0.85"/>
<circle cx="336.0" cy="197.3" r="2.6" fill="rgb(36,36,36)" opacity="0.85"/>
<circle cx="318.7" cy="187.9" r="1.5" fill="rgb(96,96,96)" opacity="0.85"/>
<circle cx="328.4" cy="196.1" r="2.2" fill="rgb(42,42,42)" opacity="0.85"/>
<circle cx="339.0" cy="192.9" r="1.3" fill="rgb(72,72,72)" opacity="0.85"/>
<circle cx="328.5" cy="206.7" r="1.4" fill="rgb(50,50,50)" opacity="0.85"/>
<circle cx="329.3" cy="182.0" r="2.5" fill="rgb(72,72,72)" opacity="0.85"/>
<circle cx="327.4" cy="177.0" r="1.8" fill="rgb(42,42,42)" opacity="0.85"/>
<circle cx="335.4" cy="183.7" r="1.3" fill="rgb(62,62,62)" opacity="0.85"/>
<circle cx="316.3" cy="201.4" r="1.7" fill="rgb(50,50,50)" opacity="0.85"/>
<circle cx="332.0" cy="191.9" r="2.5" fill="rgb(84,84,84)" opacity="0.85"/>
<circle cx="316.3" cy="194.8" r="2.3" fill="rgb(50,50,50)" opacity="0.85"/>
<circle cx="331.8" cy="195.8" r="1.3" fill="rgb(42,42,42)" opacity="0.85"/>
<circle cx="320.9" cy="193.3" r="1.0" fill="rgb(62,62,62)" opacity="0.85"/>
<circle cx="342.4" cy="202.1" r="1.6" fill="rgb(72,72,72)" opacity="0.85"/>
<circle cx="335.3" cy="198.9" r="2.3" fill="rgb(42,42,42)" opacity="0.85"/>
<circle cx="329.7" cy="194.9" r="2.6" fill="rgb(42,42,42)" opacity="0.85"/>
<circle cx="340.7" cy="180.4" r="2.0" fill="rgb(72,72,72)" opacity="0.85"/>
<circle cx="324.1" cy="191.4" r="1.7" fill="rgb(62,62,62)" opacity="0.85"/>
<circle cx="340.1" cy="190.2" r="2.4" fill="rgb(36,36,36)" opacity="0.85"/>
<circle cx="344.6" cy="198.4" r="1.8" fill="rgb(84,84,84)" opacity="0.85"/>
<circle cx="344.6" cy="202.3" r="2.3" fill="rgb(62,62,62)" opacity="0.85"/>
<circle cx="332.0" cy="195.5" r="2.5" fill="rgb(84,84,84)" opacity="0.85"/>
<circle cx="345.6" cy="199.4" r="1.0" fill="rgb(50,50,50)" opacity="0.85"/>
<circle cx="348.3" cy="191.1" r="0.9" fill="rgb(42,42,42)" opacity="0.85"/>
<ellipse cx="330.0" cy="180.0" rx="1.3" ry="1.0" fill="#d8d8d8"/>
<ellipse cx="316.0" cy="200.0" rx="1.3" ry="1.0" fill="#d8d8d8"/>
<ellipse cx="323.0" cy="212.0" rx="1.3" ry="1.0" fill="#d8d8d8"/>
<ellipse cx="315.0" cy="206.0" rx="1.3" ry="1.0" fill="#d8d8d8"/>
<ellipse cx="336.0" cy="207.0" rx="1.3" ry="1.0" fill="#d8d8d8"/>
</g>
<rect x="351" y="222.4" width="7.3" height="1.3" fill="#111"/>
</g>
<clipPath id="e6"><rect x="362.0" y="163.0" width="62" height="61.6"/></clipPath>
<g clip-path="url(#e6)">
<rect x="362.0" y="163.0" width="62" height="61.6" fill="#c4c4c4"/>
<g filter="url(#emtex)">
<path d="M-8.0,0 C-4.4,-6.8 4.4,-6.8 8.0,0 C4.4,6.8 -4.4,6.8 -8.0,0Z" fill="#484848" stroke="#242424" stroke-width="0.9" transform="translate(387.0 168.5) rotate(30)"/>
<path d="M-17.0,0 C-9.4,-3.7 9.4,-3.7 17.0,0 C9.4,3.7 -9.4,3.7 -17.0,0Z" fill="#484848" stroke="#242424" stroke-width="0.9" transform="translate(409.0 174.0) rotate(62)"/>
<path d="M-22.0,0 C-12.1,-4.0 12.1,-4.0 22.0,0 C12.1,4.0 -12.1,4.0 -22.0,0Z" fill="#484848" stroke="#242424" stroke-width="0.9" transform="translate(419.0 186.0) rotate(68)"/>
<path d="M-21.0,0 C-11.6,-4.3 11.6,-4.3 21.0,0 C11.6,4.3 -11.6,4.3 -21.0,0Z" fill="#484848" stroke="#242424" stroke-width="0.9" transform="translate(368.0 204.0) rotate(72)"/>
<path d="M-17.0,0 C-9.4,-4.3 9.4,-4.3 17.0,0 C9.4,4.3 -9.4,4.3 -17.0,0Z" fill="#484848" stroke="#242424" stroke-width="0.9" transform="translate(420.0 210.0) rotate(75)"/>
<path d="M-5.0,0 C-2.8,-3.7 2.8,-3.7 5.0,0 C2.8,3.7 -2.8,3.7 -5.0,0Z" fill="#484848" stroke="#242424" stroke-width="0.9" transform="translate(365.0 220.0) rotate(60)"/>
<path d="M-5.0,0 C-2.8,-2.5 2.8,-2.5 5.0,0 C2.8,2.5 -2.8,2.5 -5.0,0Z" fill="#484848" stroke="#242424" stroke-width="0.9" transform="translate(373.0 182.0) rotate(55)"/>
<path d="M416.45,195.30 C415.72,196.68 413.86,201.14 412.11,203.61 C410.37,206.07 408.42,208.40 405.97,210.09 C403.52,211.78 400.51,212.84 397.43,213.74 C394.36,214.64 390.76,215.83 387.52,215.49 C384.27,215.16 380.72,213.54 377.97,211.72 C375.22,209.90 372.42,207.31 371.03,204.57 C369.65,201.84 369.47,198.32 369.64,195.30 C369.80,192.28 370.59,189.13 372.03,186.45 C373.48,183.78 375.69,181.02 378.30,179.25 C380.92,177.49 384.47,176.45 387.71,175.85 C390.94,175.25 394.69,174.91 397.74,175.67 C400.79,176.44 403.71,178.53 406.03,180.44 C408.35,182.36 409.93,184.70 411.67,187.18 C413.41,189.66 415.65,193.95 416.45,195.30Z" fill="#3c3c3c" stroke="#262626" stroke-width="1.8"/>
<circle cx="394.7" cy="194.9" r="1.0" fill="rgb(84,84,84)" opacity="0.85"/>
<circle cx="400.7" cy="191.0" r="2.4" fill="rgb(36,36,36)" opacity="0.85"/>
<circle cx="385.3" cy="181.0" r="1.3" fill="rgb(50,50,50)" opacity="0.85"/>
<circle cx="384.2" cy="207.5" r="1.6" fill="rgb(50,50,50)" opacity="0.85"/>
<circle cx="382.4" cy="208.9" r="2.4" fill="rgb(42,42,42)" opacity="0.85"/>
<circle cx="395.4" cy="187.6" r="1.8" fill="rgb(84,84,84)" opacity="0.85"/>
<circle cx="394.2" cy="206.7" r="1.7" fill="rgb(62,62,62)" opacity="0.85"/>
<circle cx="376.1" cy="199.0" r="1.9" fill="rgb(62,62,62)" opacity="0.85"/>
<circle cx="406.6" cy="189.5" r="2.2" fill="rgb(62,62,62)" opacity="0.85"/>
<circle cx="394.5" cy="191.2" r="0.9" fill="rgb(96,96,96)" opacity="0.85"/>
<circle cx="397.7" cy="200.7" r="2.1" fill="rgb(96,96,96)" opacity="0.85"/>
<circle cx="390.7" cy="186.4" r="1.2" fill="rgb(62,62,62)" opacity="0.85"/>
<circle cx="403.8" cy="182.6" r="1.0" fill="rgb(62,62,62)" opacity="0.85"/>
<circle cx="375.5" cy="198.3" r="1.4" fill="rgb(72,72,72)" opacity="0.85"/>
<circle cx="400.9" cy="191.5" r="2.5" fill="rgb(72,72,72)" opacity="0.85"/>
<circle cx="387.1" cy="201.9" r="1.2" fill="rgb(50,50,50)" opacity="0.85"/>
<circle cx="384.3" cy="187.8" r="1.5" fill="rgb(62,62,62)" opacity="0.85"/>
<circle cx="387.8" cy="197.0" r="2.3" fill="rgb(96,96,96)" opacity="0.85"/>
<circle cx="386.3" cy="196.2" r="1.6" fill="rgb(62,62,62)" opacity="0.85"/>
<circle cx="402.4" cy="196.1" r="1.1" fill="rgb(84,84,84)" opacity="0.85"/>
<circle cx="404.5" cy="199.8" r="2.5" fill="rgb(36,36,36)" opacity="0.85"/>
<circle cx="400.1" cy="205.4" r="2.4" fill="rgb(62,62,62)" opacity="0.85"/>
<circle cx="379.2" cy="195.4" r="2.3" fill="rgb(62,62,62)" opacity="0.85"/>
<circle cx="380.9" cy="190.4" r="2.2" fill="rgb(96,96,96)" opacity="0.85"/>
<circle cx="377.3" cy="199.8" r="1.0" fill="rgb(84,84,84)" opacity="0.85"/>
<circle cx="403.7" cy="195.8" r="2.3" fill="rgb(84,84,84)" opacity="0.85"/>
<circle cx="388.6" cy="196.9" r="1.4" fill="rgb(84,84,84)" opacity="0.85"/>
<circle cx="379.4" cy="199.5" r="2.3" fill="rgb(36,36,36)" opacity="0.85"/>
<circle cx="406.9" cy="185.3" r="2.4" fill="rgb(36,36,36)" opacity="0.85"/>
<circle cx="405.6" cy="188.5" r="0.9" fill="rgb(72,72,72)" opacity="0.85"/>
<circle cx="392.6" cy="207.3" r="1.5" fill="rgb(72,72,72)" opacity="0.85"/>
<circle cx="406.2" cy="188.0" r="1.7" fill="rgb(50,50,50)" opacity="0.85"/>
<circle cx="404.1" cy="195.5" r="1.5" fill="rgb(42,42,42)" opacity="0.85"/>
<circle cx="400.1" cy="197.9" r="1.8" fill="rgb(96,96,96)" opacity="0.85"/>
<circle cx="410.6" cy="189.7" r="1.9" fill="rgb(84,84,84)" opacity="0.85"/>
<circle cx="383.5" cy="209.1" r="1.5" fill="rgb(42,42,42)" opacity="0.85"/>
<circle cx="387.5" cy="205.9" r="1.8" fill="rgb(72,72,72)" opacity="0.85"/>
<circle cx="374.6" cy="196.9" r="2.5" fill="rgb(62,62,62)" opacity="0.85"/>
<circle cx="387.4" cy="192.7" r="1.2" fill="rgb(96,96,96)" opacity="0.85"/>
<circle cx="382.9" cy="182.4" r="1.2" fill="rgb(84,84,84)" opacity="0.85"/>
<circle cx="378.3" cy="191.6" r="1.5" fill="rgb(50,50,50)" opacity="0.85"/>
<circle cx="394.2" cy="207.9" r="2.0" fill="rgb(72,72,72)" opacity="0.85"/>
<circle cx="409.0" cy="194.9" r="1.2" fill="rgb(72,72,72)" opacity="0.85"/>
<circle cx="388.3" cy="180.8" r="1.7" fill="rgb(50,50,50)" opacity="0.85"/>
<circle cx="381.3" cy="187.5" r="0.9" fill="rgb(62,62,62)" opacity="0.85"/>
<circle cx="384.0" cy="208.0" r="2.6" fill="rgb(50,50,50)" opacity="0.85"/>
<circle cx="409.7" cy="201.3" r="1.9" fill="rgb(84,84,84)" opacity="0.85"/>
<circle cx="393.9" cy="199.6" r="1.2" fill="rgb(50,50,50)" opacity="0.85"/>
<ellipse cx="405.0" cy="188.0" rx="1.4" ry="1.1" fill="#dcdcdc"/>
<ellipse cx="375.0" cy="193.0" rx="1.4" ry="1.1" fill="#dcdcdc"/>
<ellipse cx="391.0" cy="196.0" rx="1.4" ry="1.1" fill="#dcdcdc"/>
<ellipse cx="397.0" cy="203.0" rx="1.4" ry="1.1" fill="#dcdcdc"/>
<ellipse cx="400.0" cy="208.0" rx="1.4" ry="1.1" fill="#dcdcdc"/>
<ellipse cx="380.0" cy="206.0" rx="1.4" ry="1.1" fill="#dcdcdc"/>
</g>
<rect x="416" y="222.3" width="6.5" height="1.3" fill="#111"/>
</g>
<clipPath id="e7"><rect x="298.0" y="226.5" width="62" height="62.0"/></clipPath>
<g clip-path="url(#e7)">
<rect x="298.0" y="226.5" width="62" height="62.0" fill="#c6c6c6"/>
<g filter="url(#emtex)">
<path d="M-7.0,0 C-3.9,-4.3 3.9,-4.3 7.0,0 C3.9,4.3 -3.9,4.3 -7.0,0Z" fill="#525252" stroke="#242424" stroke-width="0.9" transform="translate(305.6 234.2) rotate(-80)"/>
<path d="M-10.0,0 C-5.5,-4.3 5.5,-4.3 10.0,0 C5.5,4.3 -5.5,4.3 -10.0,0Z" fill="#525252" stroke="#242424" stroke-width="0.9" transform="translate(321.6 239.8) rotate(-65)"/>
<path d="M-7.0,0 C-3.9,-3.1 3.9,-3.1 7.0,0 C3.9,3.1 -3.9,3.1 -7.0,0Z" fill="#525252" stroke="#242424" stroke-width="0.9" transform="translate(336.7 229.9) rotate(10)"/>
<path d="M-9.0,0 C-5.0,-5.6 5.0,-5.6 9.0,0 C5.0,5.6 -5.0,5.6 -9.0,0Z" fill="#525252" stroke="#242424" stroke-width="0.9" transform="translate(347.2 236.8) rotate(-40)"/>
<path d="M-7.5,0 C-4.1,-4.3 4.1,-4.3 7.5,0 C4.1,4.3 -4.1,4.3 -7.5,0Z" fill="#525252" stroke="#242424" stroke-width="0.9" transform="translate(334.5 241.2) rotate(-70)"/>
<path d="M-8.5,0 C-4.7,-4.3 4.7,-4.3 8.5,0 C4.7,4.3 -4.7,4.3 -8.5,0Z" fill="#525252" stroke="#242424" stroke-width="0.9" transform="translate(353.6 244.4) rotate(-65)"/>
<path d="M-4.5,0 C-2.5,-2.5 2.5,-2.5 4.5,0 C2.5,2.5 -2.5,2.5 -4.5,0Z" fill="#525252" stroke="#242424" stroke-width="0.9" transform="translate(359.5 245.0) rotate(-80)"/>
<path d="M-5.0,0 C-2.8,-3.1 2.8,-3.1 5.0,0 C2.8,3.1 -2.8,3.1 -5.0,0Z" fill="#525252" stroke="#242424" stroke-width="0.9" transform="translate(302.0 247.2) rotate(-30)"/>
<path d="M-7.5,0 C-4.1,-3.7 4.1,-3.7 7.5,0 C4.1,3.7 -4.1,3.7 -7.5,0Z" fill="#525252" stroke="#242424" stroke-width="0.9" transform="translate(313.5 246.0) rotate(-80)"/>
<path d="M-8.0,0 C-4.4,-3.7 4.4,-3.7 8.0,0 C4.4,3.7 -4.4,3.7 -8.0,0Z" fill="#525252" stroke="#242424" stroke-width="0.9" transform="translate(326.5 248.0) rotate(-70)"/>
<path d="M-9.0,0 C-5.0,-5.0 5.0,-5.0 9.0,0 C5.0,5.0 -5.0,5.0 -9.0,0Z" fill="#525252" stroke="#242424" stroke-width="0.9" transform="translate(338.5 252.0) rotate(-60)"/>
<path d="M-5.0,0 C-2.8,-2.5 2.8,-2.5 5.0,0 C2.8,2.5 -2.8,2.5 -5.0,0Z" fill="#525252" stroke="#242424" stroke-width="0.9" transform="translate(300.0 260.0) rotate(-80)"/>
<path d="M-11.0,0 C-6.1,-6.2 6.1,-6.2 11.0,0 C6.1,6.2 -6.1,6.2 -11.0,0Z" fill="#525252" stroke="#242424" stroke-width="0.9" transform="translate(314.0 264.0) rotate(-70)"/>
<path d="M-9.0,0 C-5.0,-5.6 5.0,-5.6 9.0,0 C5.0,5.6 -5.0,5.6 -9.0,0Z" fill="#525252" stroke="#242424" stroke-width="0.9" transform="translate(332.5 261.0) rotate(-65)"/>
<path d="M-9.0,0 C-5.0,-6.2 5.0,-6.2 9.0,0 C5.0,6.2 -5.0,6.2 -9.0,0Z" fill="#525252" stroke="#242424" stroke-width="0.9" transform="translate(351.0 264.7) rotate(-60)"/>
<path d="M-8.5,0 C-4.7,-5.0 4.7,-5.0 8.5,0 C4.7,5.0 -4.7,5.0 -8.5,0Z" fill="#525252" stroke="#242424" stroke-width="0.9" transform="translate(304.0 268.0) rotate(-80)"/>
<path d="M-7.0,0 C-3.9,-3.7 3.9,-3.7 7.0,0 C3.9,3.7 -3.9,3.7 -7.0,0Z" fill="#525252" stroke="#242424" stroke-width="0.9" transform="translate(329.0 276.6) rotate(-75)"/>
<path d="M-5.5,0 C-3.0,-3.7 3.0,-3.7 5.5,0 C3.0,3.7 -3.0,3.7 -5.5,0Z" fill="#525252" stroke="#242424" stroke-width="0.9" transform="translate(337.0 275.0) rotate(-80)"/>
<path d="M-8.5,0 C-4.7,-5.6 4.7,-5.6 8.5,0 C4.7,5.6 -4.7,5.6 -8.5,0Z" fill="#525252" stroke="#242424" stroke-width="0.9" transform="translate(351.0 276.7) rotate(-75)"/>
<path d="M-6.0,0 C-3.3,-3.1 3.3,-3.1 6.0,0 C3.3,3.1 -3.3,3.1 -6.0,0Z" fill="#525252" stroke="#242424" stroke-width="0.9" transform="translate(359.5 278.0) rotate(-85)"/>
<path d="M-5.5,0 C-3.0,-3.1 3.0,-3.1 5.5,0 C3.0,3.1 -3.0,3.1 -5.5,0Z" fill="#525252" stroke="#242424" stroke-width="0.9" transform="translate(308.5 283.0) rotate(-80)"/>
<path d="M-4.5,0 C-2.5,-3.7 2.5,-3.7 4.5,0 C2.5,3.7 -2.5,3.7 -4.5,0Z" fill="#525252" stroke="#242424" stroke-width="0.9" transform="translate(318.5 285.5) rotate(-30)"/>
<path d="M-3.0,0 C-1.7,-3.1 1.7,-3.1 3.0,0 C1.7,3.1 -1.7,3.1 -3.0,0Z" fill="#525252" stroke="#242424" stroke-width="0.9" transform="translate(301.5 286.0) rotate(0)"/>
<path d="M-2.0,0 C-1.1,-2.5 1.1,-2.5 2.0,0 C1.1,2.5 -1.1,2.5 -2.0,0Z" fill="#525252" stroke="#242424" stroke-width="0.9" transform="translate(319.0 272.5) rotate(0)"/>
</g>
</g>
<clipPath id="e8"><rect x="362.0" y="226.5" width="62" height="62.0"/></clipPath>
<g clip-path="url(#e8)">
<rect x="362.0" y="226.5" width="62" height="62.0" fill="#c2c2c2"/>
<g filter="url(#emtex)">
<path d="M-8.5,0 C-4.7,-2.5 4.7,-2.5 8.5,0 C4.7,2.5 -4.7,2.5 -8.5,0Z" fill="#484848" stroke="#242424" stroke-width="0.9" transform="translate(364.7 236.1) rotate(80)"/>
<path d="M-7.5,0 C-4.1,-3.0 4.1,-3.0 7.5,0 C4.1,3.0 -4.1,3.0 -7.5,0Z" fill="#484848" stroke="#242424" stroke-width="0.9" transform="translate(375.1 234.0) rotate(60)"/>
<path d="M-8.5,0 C-4.7,-3.0 4.7,-3.0 8.5,0 C4.7,3.0 -4.7,3.0 -8.5,0Z" fill="#484848" stroke="#242424" stroke-width="0.9" transform="translate(387.9 236.0) rotate(60)"/>
<path d="M-7.5,0 C-4.1,-3.0 4.1,-3.0 7.5,0 C4.1,3.0 -4.1,3.0 -7.5,0Z" fill="#484848" stroke="#242424" stroke-width="0.9" transform="translate(395.2 237.2) rotate(55)"/>
<path d="M-8.0,0 C-4.4,-3.0 4.4,-3.0 8.0,0 C4.4,3.0 -4.4,3.0 -8.0,0Z" fill="#484848" stroke="#242424" stroke-width="0.9" transform="translate(409.5 238.5) rotate(55)"/>
<path d="M-10.0,0 C-5.5,-3.0 5.5,-3.0 10.0,0 C5.5,3.0 -5.5,3.0 -10.0,0Z" fill="#484848" stroke="#242424" stroke-width="0.9" transform="translate(418.9 240.0) rotate(65)"/>
<path d="M-13.0,0 C-7.2,-3.0 7.2,-3.0 13.0,0 C7.2,3.0 -7.2,3.0 -13.0,0Z" fill="#484848" stroke="#242424" stroke-width="0.9" transform="translate(369.6 249.6) rotate(70)"/>
<path d="M-9.0,0 C-5.0,-3.0 5.0,-3.0 9.0,0 C5.0,3.0 -5.0,3.0 -9.0,0Z" fill="#484848" stroke="#242424" stroke-width="0.9" transform="translate(380.8 249.6) rotate(65)"/>
<path d="M-6.0,0 C-3.3,-3.0 3.3,-3.0 6.0,0 C3.3,3.0 -3.3,3.0 -6.0,0Z" fill="#484848" stroke="#242424" stroke-width="0.9" transform="translate(387.6 244.8) rotate(45)"/>
<path d="M-7.0,0 C-3.9,-5.0 3.9,-5.0 7.0,0 C3.9,5.0 -3.9,5.0 -7.0,0Z" fill="#484848" stroke="#242424" stroke-width="0.9" transform="translate(398.2 248.0) rotate(70)"/>
<path d="M-8.5,0 C-4.7,-3.0 4.7,-3.0 8.5,0 C4.7,3.0 -4.7,3.0 -8.5,0Z" fill="#484848" stroke="#242424" stroke-width="0.9" transform="translate(409.9 247.0) rotate(70)"/>
<path d="M-7.0,0 C-3.9,-2.5 3.9,-2.5 7.0,0 C3.9,2.5 -3.9,2.5 -7.0,0Z" fill="#484848" stroke="#242424" stroke-width="0.9" transform="translate(419.9 249.6) rotate(70)"/>
<path d="M-7.5,0 C-4.1,-3.5 4.1,-3.5 7.5,0 C4.1,3.5 -4.1,3.5 -7.5,0Z" fill="#484848" stroke="#242424" stroke-width="0.9" transform="translate(365.3 260.5) rotate(80)"/>
<path d="M-6.5,0 C-3.6,-2.5 3.6,-2.5 6.5,0 C3.6,2.5 -3.6,2.5 -6.5,0Z" fill="#484848" stroke="#242424" stroke-width="0.9" transform="translate(380.1 263.5) rotate(70)"/>
<path d="M-4.0,0 C-2.2,-4.0 2.2,-4.0 4.0,0 C2.2,4.0 -2.2,4.0 -4.0,0Z" fill="#484848" stroke="#242424" stroke-width="0.9" transform="translate(389.0 261.9) rotate(0)"/>
<path d="M-9.5,0 C-5.2,-2.5 5.2,-2.5 9.5,0 C5.2,2.5 -5.2,2.5 -9.5,0Z" fill="#484848" stroke="#242424" stroke-width="0.9" transform="translate(395.0 263.5) rotate(75)"/>
<path d="M-4.5,0 C-2.5,-4.5 2.5,-4.5 4.5,0 C2.5,4.5 -2.5,4.5 -4.5,0Z" fill="#484848" stroke="#242424" stroke-width="0.9" transform="translate(371.3 270.8) rotate(0)"/>
<path d="M-8.0,0 C-4.4,-2.0 4.4,-2.0 8.0,0 C4.4,2.0 -4.4,2.0 -8.0,0Z" fill="#484848" stroke="#242424" stroke-width="0.9" transform="translate(382.4 270.0) rotate(80)"/>
<path d="M-7.5,0 C-4.1,-3.0 4.1,-3.0 7.5,0 C4.1,3.0 -4.1,3.0 -7.5,0Z" fill="#484848" stroke="#242424" stroke-width="0.9" transform="translate(390.3 274.8) rotate(60)"/>
<path d="M-7.5,0 C-4.1,-3.0 4.1,-3.0 7.5,0 C4.1,3.0 -4.1,3.0 -7.5,0Z" fill="#484848" stroke="#242424" stroke-width="0.9" transform="translate(399.6 277.2) rotate(65)"/>
<path d="M-7.5,0 C-4.1,-3.5 4.1,-3.5 7.5,0 C4.1,3.5 -4.1,3.5 -7.5,0Z" fill="#484848" stroke="#242424" stroke-width="0.9" transform="translate(368.0 281.0) rotate(45)"/>
<path d="M-5.0,0 C-2.8,-3.0 2.8,-3.0 5.0,0 C2.8,3.0 -2.8,3.0 -5.0,0Z" fill="#484848" stroke="#242424" stroke-width="0.9" transform="translate(381.0 284.0) rotate(30)"/>
<path d="M-5.0,0 C-2.8,-2.5 2.8,-2.5 5.0,0 C2.8,2.5 -2.8,2.5 -5.0,0Z" fill="#484848" stroke="#242424" stroke-width="0.9" transform="translate(410.5 284.0) rotate(20)"/>
<path d="M-5.5,0 C-3.0,-2.5 3.0,-2.5 5.5,0 C3.0,2.5 -3.0,2.5 -5.5,0Z" fill="#484848" stroke="#242424" stroke-width="0.9" transform="translate(419.5 283.0) rotate(50)"/>
<path d="M-2.0,0 C-1.1,-2.0 1.1,-2.0 2.0,0 C1.1,2.0 -1.1,2.0 -2.0,0Z" fill="#484848" stroke="#242424" stroke-width="0.9" transform="translate(377.0 274.5) rotate(0)"/>
<path d="M-4.0,0 C-2.2,-2.0 2.2,-2.0 4.0,0 C2.2,2.0 -2.2,2.0 -4.0,0Z" fill="#484848" stroke="#242424" stroke-width="0.9" transform="translate(395.0 229.0) rotate(20)"/>
<path d="M423.45,267.50 C423.23,268.23 422.81,270.56 422.14,271.90 C421.47,273.24 420.61,274.78 419.43,275.56 C418.25,276.34 416.52,276.26 415.07,276.58 C413.62,276.89 412.15,277.62 410.73,277.45 C409.31,277.28 407.68,276.52 406.56,275.58 C405.44,274.64 404.60,273.17 404.01,271.83 C403.43,270.48 402.97,268.92 403.02,267.50 C403.07,266.08 403.67,264.60 404.31,263.32 C404.95,262.03 405.77,260.73 406.85,259.78 C407.92,258.84 409.33,258.06 410.75,257.64 C412.16,257.21 413.91,256.92 415.34,257.25 C416.76,257.58 418.20,258.61 419.30,259.60 C420.40,260.59 421.26,261.87 421.95,263.19 C422.64,264.51 423.20,266.78 423.45,267.50Z" fill="#3c3c3c" stroke="#262626" stroke-width="1.8"/>
<circle cx="409.2" cy="272.0" r="1.3" fill="rgb(62,62,62)" opacity="0.85"/>
<circle cx="420.9" cy="267.8" r="1.3" fill="rgb(84,84,84)" opacity="0.85"/>
<circle cx="412.4" cy="266.9" r="2.3" fill="rgb(50,50,50)" opacity="0.85"/>
<circle cx="408.9" cy="260.3" r="1.4" fill="rgb(72,72,72)" opacity="0.85"/>
<circle cx="415.0" cy="259.4" r="0.9" fill="rgb(50,50,50)" opacity="0.85"/>
<circle cx="416.8" cy="272.9" r="0.9" fill="rgb(84,84,84)" opacity="0.85"/>
<circle cx="406.5" cy="269.3" r="2.6" fill="rgb(50,50,50)" opacity="0.85"/>
<circle cx="414.0" cy="262.5" r="2.2" fill="rgb(62,62,62)" opacity="0.85"/>
<circle cx="409.8" cy="272.0" r="1.2" fill="rgb(84,84,84)" opacity="0.85"/>
<circle cx="407.0" cy="265.0" r="2.6" fill="rgb(50,50,50)" opacity="0.85"/>
<circle cx="416.7" cy="260.9" r="1.5" fill="rgb(72,72,72)" opacity="0.85"/>
<circle cx="408.3" cy="267.8" r="1.7" fill="rgb(50,50,50)" opacity="0.85"/>
<circle cx="419.5" cy="270.4" r="2.3" fill="rgb(84,84,84)" opacity="0.85"/>
<circle cx="405.6" cy="270.2" r="2.5" fill="rgb(36,36,36)" opacity="0.85"/>
<circle cx="405.5" cy="268.7" r="2.3" fill="rgb(62,62,62)" opacity="0.85"/>
<circle cx="419.1" cy="270.7" r="2.1" fill="rgb(42,42,42)" opacity="0.85"/>
<circle cx="420.0" cy="263.6" r="1.8" fill="rgb(36,36,36)" opacity="0.85"/>
<circle cx="410.1" cy="263.0" r="1.7" fill="rgb(50,50,50)" opacity="0.85"/>
<circle cx="409.2" cy="260.8" r="2.0" fill="rgb(84,84,84)" opacity="0.85"/>
</g>
</g>
<text x="7.50" y="314.20" font-size="11.5" stroke="#000" stroke-width="0.22" font-weight="bold" fill="#000">C</text>
<text x="82.00" y="330.00" font-size="10.49" stroke="#1a1a1a" stroke-width="0.22" text-anchor="middle" textLength="64.00" lengthAdjust="spacingAndGlyphs">0.5 µg/ml CRP</text>
<rect x="13.80" y="350.60" width="1.30" height="5.80" fill="#1a1a1a"/>
<text x="80.70" y="344.60" font-size="8.24" stroke="#1a1a1a" stroke-width="0.22" text-anchor="middle" textLength="48.50" lengthAdjust="spacingAndGlyphs">Time (second)</text>
<text x="48.20" y="355.60" font-size="6.3" stroke="#1a1a1a" stroke-width="0.14" text-anchor="middle">0</text>
<text x="64.20" y="355.60" font-size="6.3" stroke="#1a1a1a" stroke-width="0.14" text-anchor="middle">100</text>
<text x="80.20" y="355.60" font-size="6.3" stroke="#1a1a1a" stroke-width="0.14" text-anchor="middle">200</text>
<text x="96.20" y="355.60" font-size="6.3" stroke="#1a1a1a" stroke-width="0.14" text-anchor="middle">300</text>
<text x="112.20" y="355.60" font-size="6.3" stroke="#1a1a1a" stroke-width="0.14" text-anchor="middle">400</text>
<line x1="47.70" y1="361.90" x2="115.60" y2="361.90" stroke="#1a1a1a" stroke-width="1.1"/>
<line x1="56.20" y1="360.30" x2="56.20" y2="361.90" stroke="#1a1a1a" stroke-width="0.8"/>
<line x1="64.20" y1="360.30" x2="64.20" y2="361.90" stroke="#1a1a1a" stroke-width="0.8"/>
<line x1="72.20" y1="360.30" x2="72.20" y2="361.90" stroke="#1a1a1a" stroke-width="0.8"/>
<line x1="80.20" y1="360.30" x2="80.20" y2="361.90" stroke="#1a1a1a" stroke-width="0.8"/>
<line x1="88.20" y1="360.30" x2="88.20" y2="361.90" stroke="#1a1a1a" stroke-width="0.8"/>
<line x1="96.20" y1="360.30" x2="96.20" y2="361.90" stroke="#1a1a1a" stroke-width="0.8"/>
<line x1="104.20" y1="360.30" x2="104.20" y2="361.90" stroke="#1a1a1a" stroke-width="0.8"/>
<line x1="112.20" y1="360.30" x2="112.20" y2="361.90" stroke="#1a1a1a" stroke-width="0.8"/>
<line x1="48.20" y1="361.40" x2="48.20" y2="416.60" stroke="#1a1a1a" stroke-width="1.1"/>
<line x1="46.00" y1="361.90" x2="48.20" y2="361.90" stroke="#1a1a1a" stroke-width="0.9"/>
<text x="42.90" y="364.15" font-size="6.3" stroke="#1a1a1a" stroke-width="0.14" text-anchor="end">0</text>
<line x1="46.00" y1="372.74" x2="48.20" y2="372.74" stroke="#1a1a1a" stroke-width="0.9"/>
<text x="42.90" y="374.99" font-size="6.3" stroke="#1a1a1a" stroke-width="0.14" text-anchor="end">20</text>
<line x1="46.00" y1="383.58" x2="48.20" y2="383.58" stroke="#1a1a1a" stroke-width="0.9"/>
<text x="42.90" y="385.83" font-size="6.3" stroke="#1a1a1a" stroke-width="0.14" text-anchor="end">40</text>
<line x1="46.00" y1="394.42" x2="48.20" y2="394.42" stroke="#1a1a1a" stroke-width="0.9"/>
<text x="42.90" y="396.67" font-size="6.3" stroke="#1a1a1a" stroke-width="0.14" text-anchor="end">60</text>
<line x1="46.00" y1="405.26" x2="48.20" y2="405.26" stroke="#1a1a1a" stroke-width="0.9"/>
<text x="42.90" y="407.51" font-size="6.3" stroke="#1a1a1a" stroke-width="0.14" text-anchor="end">80</text>
<line x1="46.00" y1="416.10" x2="48.20" y2="416.10" stroke="#1a1a1a" stroke-width="0.9"/>
<text x="42.90" y="418.35" font-size="6.3" stroke="#1a1a1a" stroke-width="0.14" text-anchor="end">100</text>
<text x="27.30" y="389.00" font-size="7.8" stroke="#1a1a1a" stroke-width="0.22" text-anchor="middle" textLength="63.50" lengthAdjust="spacingAndGlyphs" transform="rotate(-90 27.30 389.00)">Light transmission</text>
<rect x="48.20" y="361.90" width="2.20" height="6.00" fill="#9a9a9a"/>
<path d="M48.20,368.51 C48.47,368.49 49.00,368.46 49.80,368.40 C50.60,368.35 51.67,368.16 53.00,368.19 C54.33,368.21 55.93,368.46 57.80,368.57 C59.67,368.68 60.47,368.64 64.20,368.84 C67.93,369.04 74.87,369.42 80.20,369.76 C85.53,370.10 90.87,370.54 96.20,370.90 C101.53,371.25 109.53,371.71 112.20,371.87" stroke="#a3607a" stroke-width="1.1" fill="none"/>
<path d="M48.20,368.51 C49.00,368.48 51.53,368.42 53.00,368.30 C54.47,368.17 55.67,367.74 57.00,367.75 C58.33,367.77 59.53,368.28 61.00,368.40 C62.47,368.53 64.47,368.38 65.80,368.51 C67.13,368.65 67.72,368.15 69.00,369.22 C70.28,370.28 72.01,372.47 73.48,374.91 C74.95,377.35 76.36,381.14 77.80,383.85 C79.24,386.56 80.41,388.86 82.12,391.17 C83.83,393.47 85.83,395.77 88.04,397.67 C90.25,399.57 92.95,401.29 95.40,402.55 C97.85,403.81 99.96,404.45 102.76,405.26 C105.56,406.07 110.63,407.07 112.20,407.43" stroke="#4a5272" stroke-width="1.1" fill="none"/>
<line x1="52.00" y1="393.70" x2="55.00" y2="393.70" stroke="#4a5272" stroke-width="0.9"/>
<text x="56.40" y="395.30" font-size="5.6" stroke="#333" stroke-width="0.14" fill="#333">WT</text>
<line x1="52.00" y1="399.80" x2="55.00" y2="399.80" stroke="#a3607a" stroke-width="0.9"/>
<text x="56.40" y="401.40" font-size="5.6" stroke="#333" stroke-width="0.14" fill="#333">DREAM KO</text>
<line x1="47.60" y1="434.12" x2="47.60" y2="485.90" stroke="#1a1a1a" stroke-width="1.1"/>
<line x1="45.30" y1="485.40" x2="47.60" y2="485.40" stroke="#1a1a1a" stroke-width="0.9"/>
<text x="42.60" y="487.65" font-size="6.3" stroke="#1a1a1a" stroke-width="0.14" text-anchor="end">0</text>
<line x1="45.30" y1="472.88" x2="47.60" y2="472.88" stroke="#1a1a1a" stroke-width="0.9"/>
<text x="42.60" y="475.13" font-size="6.3" stroke="#1a1a1a" stroke-width="0.14" text-anchor="end">20</text>
<line x1="45.30" y1="460.36" x2="47.60" y2="460.36" stroke="#1a1a1a" stroke-width="0.9"/>
<text x="42.60" y="462.61" font-size="6.3" stroke="#1a1a1a" stroke-width="0.14" text-anchor="end">40</text>
<line x1="45.30" y1="447.84" x2="47.60" y2="447.84" stroke="#1a1a1a" stroke-width="0.9"/>
<text x="42.60" y="450.09" font-size="6.3" stroke="#1a1a1a" stroke-width="0.14" text-anchor="end">60</text>
<line x1="45.30" y1="435.32" x2="47.60" y2="435.32" stroke="#1a1a1a" stroke-width="0.9"/>
<text x="42.60" y="437.57" font-size="6.3" stroke="#1a1a1a" stroke-width="0.14" text-anchor="end">80</text>
<line x1="47.10" y1="485.40" x2="116.80" y2="485.40" stroke="#1a1a1a" stroke-width="1.1"/>
<line x1="47.60" y1="485.40" x2="47.60" y2="487.20" stroke="#1a1a1a" stroke-width="0.9"/>
<text x="49.40" y="494.00" font-size="6.9" stroke="#1a1a1a" stroke-width="0.2" text-anchor="end" transform="rotate(-45 49.40 494.00)">0</text>
<line x1="58.92" y1="485.40" x2="58.92" y2="487.20" stroke="#1a1a1a" stroke-width="0.9"/>
<text x="60.72" y="494.00" font-size="6.9" stroke="#1a1a1a" stroke-width="0.2" text-anchor="end" transform="rotate(-45 60.72 494.00)">60</text>
<line x1="70.24" y1="485.40" x2="70.24" y2="487.20" stroke="#1a1a1a" stroke-width="0.9"/>
<text x="72.04" y="494.00" font-size="6.9" stroke="#1a1a1a" stroke-width="0.2" text-anchor="end" transform="rotate(-45 72.04 494.00)">120</text>
<line x1="81.57" y1="485.40" x2="81.57" y2="487.20" stroke="#1a1a1a" stroke-width="0.9"/>
<text x="83.37" y="494.00" font-size="6.9" stroke="#1a1a1a" stroke-width="0.2" text-anchor="end" transform="rotate(-45 83.37 494.00)">180</text>
<line x1="92.89" y1="485.40" x2="92.89" y2="487.20" stroke="#1a1a1a" stroke-width="0.9"/>
<text x="94.69" y="494.00" font-size="6.9" stroke="#1a1a1a" stroke-width="0.2" text-anchor="end" transform="rotate(-45 94.69 494.00)">240</text>
<line x1="104.21" y1="485.40" x2="104.21" y2="487.20" stroke="#1a1a1a" stroke-width="0.9"/>
<text x="106.01" y="494.00" font-size="6.9" stroke="#1a1a1a" stroke-width="0.2" text-anchor="end" transform="rotate(-45 106.01 494.00)">300</text>
<line x1="115.53" y1="485.40" x2="115.53" y2="487.20" stroke="#1a1a1a" stroke-width="0.9"/>
<text x="117.33" y="494.00" font-size="6.9" stroke="#1a1a1a" stroke-width="0.2" text-anchor="end" transform="rotate(-45 117.33 494.00)">360</text>
<text x="83.07" y="511.40" font-size="8.24" stroke="#1a1a1a" stroke-width="0.22" text-anchor="middle" textLength="48.50" lengthAdjust="spacingAndGlyphs">Time (second)</text>
<text x="27.30" y="459.36" font-size="7.7" stroke="#1a1a1a" stroke-width="0.22" text-anchor="middle" textLength="57.00" lengthAdjust="spacingAndGlyphs" transform="rotate(-90 27.30 459.36)">Aggregation (%)</text>
<path d="M47.60,485.40 C49.49,485.30 55.15,484.98 58.92,484.77 C62.70,484.57 66.47,484.11 70.24,484.15 C74.02,484.19 77.79,485.23 81.57,485.02 C85.34,484.82 89.11,483.65 92.89,482.90 C96.66,482.14 100.44,481.24 104.21,480.52 C107.98,479.80 113.65,478.90 115.53,478.58" stroke="#a3304f" stroke-width="1.1" fill="none"/>
<rect x="46.70" y="484.50" width="1.80" height="1.80" fill="#222"/>
<line x1="58.92" y1="482.90" x2="58.92" y2="486.65" stroke="#2a2a2a" stroke-width="0.9" stroke-dasharray="1.3,0.5"/>
<line x1="58.32" y1="482.90" x2="59.52" y2="482.90" stroke="#2a2a2a" stroke-width="0.8"/>
<line x1="58.32" y1="486.65" x2="59.52" y2="486.65" stroke="#2a2a2a" stroke-width="0.8"/>
<rect x="58.02" y="483.87" width="1.80" height="1.80" fill="#222"/>
<line x1="70.24" y1="481.64" x2="70.24" y2="486.65" stroke="#2a2a2a" stroke-width="0.9" stroke-dasharray="1.3,0.5"/>
<line x1="69.64" y1="481.64" x2="70.84" y2="481.64" stroke="#2a2a2a" stroke-width="0.8"/>
<line x1="69.64" y1="486.65" x2="70.84" y2="486.65" stroke="#2a2a2a" stroke-width="0.8"/>
<rect x="69.34" y="483.25" width="1.80" height="1.80" fill="#222"/>
<line x1="81.57" y1="484.09" x2="81.57" y2="485.96" stroke="#2a2a2a" stroke-width="0.9" stroke-dasharray="1.3,0.5"/>
<line x1="80.97" y1="484.09" x2="82.17" y2="484.09" stroke="#2a2a2a" stroke-width="0.8"/>
<line x1="80.97" y1="485.96" x2="82.17" y2="485.96" stroke="#2a2a2a" stroke-width="0.8"/>
<rect x="80.67" y="484.12" width="1.80" height="1.80" fill="#222"/>
<line x1="92.89" y1="481.02" x2="92.89" y2="484.77" stroke="#2a2a2a" stroke-width="0.9" stroke-dasharray="1.3,0.5"/>
<line x1="92.29" y1="481.02" x2="93.49" y2="481.02" stroke="#2a2a2a" stroke-width="0.8"/>
<line x1="92.29" y1="484.77" x2="93.49" y2="484.77" stroke="#2a2a2a" stroke-width="0.8"/>
<rect x="91.99" y="482.00" width="1.80" height="1.80" fill="#222"/>
<line x1="104.21" y1="478.01" x2="104.21" y2="483.02" stroke="#2a2a2a" stroke-width="0.9" stroke-dasharray="1.3,0.5"/>
<line x1="103.61" y1="478.01" x2="104.81" y2="478.01" stroke="#2a2a2a" stroke-width="0.8"/>
<line x1="103.61" y1="483.02" x2="104.81" y2="483.02" stroke="#2a2a2a" stroke-width="0.8"/>
<rect x="103.31" y="479.62" width="1.80" height="1.80" fill="#222"/>
<line x1="115.53" y1="474.82" x2="115.53" y2="482.33" stroke="#2a2a2a" stroke-width="0.9" stroke-dasharray="1.3,0.5"/>
<line x1="114.93" y1="474.82" x2="116.13" y2="474.82" stroke="#2a2a2a" stroke-width="0.8"/>
<line x1="114.93" y1="482.33" x2="116.13" y2="482.33" stroke="#2a2a2a" stroke-width="0.8"/>
<rect x="114.63" y="477.68" width="1.80" height="1.80" fill="#222"/>
<path d="M47.60,485.40 C49.49,485.32 55.15,485.80 58.92,484.90 C62.70,484.00 66.47,482.58 70.24,480.02 C74.02,477.45 77.79,473.54 81.57,469.50 C85.34,465.46 89.11,459.42 92.89,455.79 C96.66,452.16 100.44,449.85 104.21,447.71 C107.98,445.58 113.65,443.75 115.53,442.96" stroke="#46506a" stroke-width="1.1" fill="none"/>
<rect x="46.70" y="484.50" width="1.80" height="1.80" fill="#222"/>
<line x1="58.92" y1="484.27" x2="58.92" y2="485.53" stroke="#2a2a2a" stroke-width="0.9" stroke-dasharray="1.3,0.5"/>
<line x1="58.32" y1="484.27" x2="59.52" y2="484.27" stroke="#2a2a2a" stroke-width="0.8"/>
<line x1="58.32" y1="485.53" x2="59.52" y2="485.53" stroke="#2a2a2a" stroke-width="0.8"/>
<rect x="58.02" y="484.00" width="1.80" height="1.80" fill="#222"/>
<line x1="70.24" y1="477.83" x2="70.24" y2="482.21" stroke="#2a2a2a" stroke-width="0.9" stroke-dasharray="1.3,0.5"/>
<line x1="69.64" y1="477.83" x2="70.84" y2="477.83" stroke="#2a2a2a" stroke-width="0.8"/>
<line x1="69.64" y1="482.21" x2="70.84" y2="482.21" stroke="#2a2a2a" stroke-width="0.8"/>
<rect x="69.34" y="479.12" width="1.80" height="1.80" fill="#222"/>
<line x1="81.57" y1="467.00" x2="81.57" y2="472.00" stroke="#2a2a2a" stroke-width="0.9" stroke-dasharray="1.3,0.5"/>
<line x1="80.97" y1="467.00" x2="82.17" y2="467.00" stroke="#2a2a2a" stroke-width="0.8"/>
<line x1="80.97" y1="472.00" x2="82.17" y2="472.00" stroke="#2a2a2a" stroke-width="0.8"/>
<rect x="80.67" y="468.60" width="1.80" height="1.80" fill="#222"/>
<line x1="92.89" y1="451.60" x2="92.89" y2="459.98" stroke="#2a2a2a" stroke-width="0.9" stroke-dasharray="1.3,0.5"/>
<line x1="92.29" y1="451.60" x2="93.49" y2="451.60" stroke="#2a2a2a" stroke-width="0.8"/>
<line x1="92.29" y1="459.98" x2="93.49" y2="459.98" stroke="#2a2a2a" stroke-width="0.8"/>
<rect x="91.99" y="454.89" width="1.80" height="1.80" fill="#222"/>
<line x1="104.21" y1="445.21" x2="104.21" y2="450.22" stroke="#2a2a2a" stroke-width="0.9" stroke-dasharray="1.3,0.5"/>
<line x1="103.61" y1="445.21" x2="104.81" y2="445.21" stroke="#2a2a2a" stroke-width="0.8"/>
<line x1="103.61" y1="450.22" x2="104.81" y2="450.22" stroke="#2a2a2a" stroke-width="0.8"/>
<rect x="103.31" y="446.81" width="1.80" height="1.80" fill="#222"/>
<line x1="115.53" y1="439.83" x2="115.53" y2="446.09" stroke="#2a2a2a" stroke-width="0.9" stroke-dasharray="1.3,0.5"/>
<line x1="114.93" y1="439.83" x2="116.13" y2="439.83" stroke="#2a2a2a" stroke-width="0.8"/>
<line x1="114.93" y1="446.09" x2="116.13" y2="446.09" stroke="#2a2a2a" stroke-width="0.8"/>
<rect x="114.63" y="442.06" width="1.80" height="1.80" fill="#222"/>
<rect x="12.50" y="524.40" width="1.30" height="5.80" fill="#1a1a1a"/>
<rect x="15.10" y="524.40" width="1.30" height="5.80" fill="#1a1a1a"/>
<line x1="46.60" y1="542.10" x2="46.60" y2="595.50" stroke="#1a1a1a" stroke-width="1.1"/>
<line x1="44.40" y1="595.00" x2="46.60" y2="595.00" stroke="#1a1a1a" stroke-width="0.9"/>
<text x="41.80" y="597.25" font-size="6.3" stroke="#1a1a1a" stroke-width="0.14" text-anchor="end">0</text>
<line x1="44.40" y1="569.30" x2="46.60" y2="569.30" stroke="#1a1a1a" stroke-width="0.9"/>
<text x="41.80" y="571.55" font-size="6.3" stroke="#1a1a1a" stroke-width="0.14" text-anchor="end">1</text>
<line x1="44.40" y1="543.60" x2="46.60" y2="543.60" stroke="#1a1a1a" stroke-width="0.9"/>
<text x="41.80" y="545.85" font-size="6.3" stroke="#1a1a1a" stroke-width="0.14" text-anchor="end">2</text>
<line x1="46.10" y1="595.00" x2="123.00" y2="595.00" stroke="#1a1a1a" stroke-width="1.1"/>
<line x1="48.00" y1="595.00" x2="48.00" y2="596.50" stroke="#1a1a1a" stroke-width="0.8"/>
<line x1="57.12" y1="595.00" x2="57.12" y2="596.50" stroke="#1a1a1a" stroke-width="0.8"/>
<line x1="66.25" y1="595.00" x2="66.25" y2="596.50" stroke="#1a1a1a" stroke-width="0.8"/>
<line x1="75.38" y1="595.00" x2="75.38" y2="596.50" stroke="#1a1a1a" stroke-width="0.8"/>
<line x1="84.50" y1="595.00" x2="84.50" y2="596.50" stroke="#1a1a1a" stroke-width="0.8"/>
<line x1="93.62" y1="595.00" x2="93.62" y2="596.50" stroke="#1a1a1a" stroke-width="0.8"/>
<line x1="102.75" y1="595.00" x2="102.75" y2="596.50" stroke="#1a1a1a" stroke-width="0.8"/>
<line x1="111.88" y1="595.00" x2="111.88" y2="596.50" stroke="#1a1a1a" stroke-width="0.8"/>
<line x1="121.00" y1="595.00" x2="121.00" y2="596.50" stroke="#1a1a1a" stroke-width="0.8"/>
<text x="48.00" y="605.20" font-size="6.3" stroke="#1a1a1a" stroke-width="0.14" text-anchor="middle">0</text>
<text x="66.25" y="605.20" font-size="6.3" stroke="#1a1a1a" stroke-width="0.14" text-anchor="middle">100</text>
<text x="84.50" y="605.20" font-size="6.3" stroke="#1a1a1a" stroke-width="0.14" text-anchor="middle">200</text>
<text x="102.75" y="605.20" font-size="6.3" stroke="#1a1a1a" stroke-width="0.14" text-anchor="middle">300</text>
<text x="121.00" y="605.20" font-size="6.3" stroke="#1a1a1a" stroke-width="0.14" text-anchor="middle">400</text>
<text x="85.00" y="616.60" font-size="8.24" stroke="#1a1a1a" stroke-width="0.22" text-anchor="middle" textLength="48.50" lengthAdjust="spacingAndGlyphs">Time (second)</text>
<text x="34.40" y="568.01" font-size="7.7" stroke="#1a1a1a" stroke-width="0.22" text-anchor="middle" textLength="72.00" lengthAdjust="spacingAndGlyphs" transform="rotate(-90 34.40 568.01)">ATP secretion (nmol)</text>
<path d="M48.00,592.69 C49.52,592.86 54.39,593.76 57.12,593.72 C59.86,593.67 62.11,592.88 64.42,592.43 C66.74,591.98 68.17,591.36 71.00,590.99 C73.82,590.62 76.11,590.36 81.40,590.19 C86.69,590.03 96.00,590.02 102.75,589.99 C109.50,589.95 118.72,589.99 121.91,589.99" stroke="#a3607a" stroke-width="1.0" fill="none"/>
<path d="M48.00,593.97 C49.52,593.97 53.99,594.61 57.12,593.97 C60.26,593.33 63.79,591.79 66.80,590.12 C69.81,588.45 72.76,585.47 75.19,583.95 C77.63,582.43 79.33,581.72 81.40,580.99 C83.47,580.27 84.13,579.88 87.60,579.58 C91.07,579.28 96.48,579.09 102.20,579.19 C107.92,579.30 118.63,580.03 121.91,580.20" stroke="#4f5a78" stroke-width="1.0" fill="none"/>
<line x1="47.60" y1="637.50" x2="47.60" y2="683.90" stroke="#1a1a1a" stroke-width="1.1"/>
<line x1="45.60" y1="683.40" x2="47.60" y2="683.40" stroke="#1a1a1a" stroke-width="0.9"/>
<text x="43.00" y="685.40" font-size="5.6" stroke="#1a1a1a" stroke-width="0.14" text-anchor="end">0</text>
<line x1="45.60" y1="676.00" x2="47.60" y2="676.00" stroke="#1a1a1a" stroke-width="0.9"/>
<text x="43.00" y="678.00" font-size="5.6" stroke="#1a1a1a" stroke-width="0.14" text-anchor="end">20</text>
<line x1="45.60" y1="668.60" x2="47.60" y2="668.60" stroke="#1a1a1a" stroke-width="0.9"/>
<text x="43.00" y="670.60" font-size="5.6" stroke="#1a1a1a" stroke-width="0.14" text-anchor="end">40</text>
<line x1="45.60" y1="661.20" x2="47.60" y2="661.20" stroke="#1a1a1a" stroke-width="0.9"/>
<text x="43.00" y="663.20" font-size="5.6" stroke="#1a1a1a" stroke-width="0.14" text-anchor="end">60</text>
<line x1="45.60" y1="653.80" x2="47.60" y2="653.80" stroke="#1a1a1a" stroke-width="0.9"/>
<text x="43.00" y="655.80" font-size="5.6" stroke="#1a1a1a" stroke-width="0.14" text-anchor="end">80</text>
<line x1="45.60" y1="646.40" x2="47.60" y2="646.40" stroke="#1a1a1a" stroke-width="0.9"/>
<text x="43.00" y="648.40" font-size="5.6" stroke="#1a1a1a" stroke-width="0.14" text-anchor="end">100</text>
<line x1="45.60" y1="639.00" x2="47.60" y2="639.00" stroke="#1a1a1a" stroke-width="0.9"/>
<text x="43.00" y="641.00" font-size="5.6" stroke="#1a1a1a" stroke-width="0.14" text-anchor="end">120</text>
<rect x="53.90" y="647.44" width="21.90" height="35.96" fill="#2c4d8e" stroke="#1c2a52" stroke-width="0.7"/>
<rect x="87.30" y="680.74" width="21.90" height="2.66" fill="#b3173d" stroke="#6a0c24" stroke-width="0.7"/>
<line x1="47.10" y1="683.40" x2="114.00" y2="683.40" stroke="#1a1a1a" stroke-width="1.2"/>
<line x1="64.85" y1="683.40" x2="64.85" y2="685.00" stroke="#1a1a1a" stroke-width="0.8"/>
<line x1="98.25" y1="683.40" x2="98.25" y2="685.00" stroke="#1a1a1a" stroke-width="0.8"/>
<circle cx="59.55" cy="646.40" r="1.85" fill="#c4c6d0" stroke="#222" stroke-width="0.75"/>
<circle cx="64.85" cy="646.40" r="1.85" fill="#c4c6d0" stroke="#222" stroke-width="0.75"/>
<circle cx="70.15" cy="646.40" r="1.85" fill="#c4c6d0" stroke="#222" stroke-width="0.75"/>
<rect x="91.55" y="676.52" width="3.4" height="3.4" fill="#d8c8cc" stroke="#333" stroke-width="0.7"/>
<circle cx="97.25" cy="679.70" r="1.8" fill="#d8c8cc" stroke="#333" stroke-width="0.7" fill-opacity="0.6"/>
<rect x="101.55" y="677.07" width="3.4" height="3.4" fill="#d8c8cc" stroke="#333" stroke-width="0.7"/>
<text x="98.25" y="677.00" font-size="7.5" stroke="#1a1a1a" stroke-width="0.22" text-anchor="middle" font-weight="bold">***</text>
<text x="64.85" y="693.60" font-size="6.3" stroke="#1a1a1a" stroke-width="0.14" text-anchor="middle">WT</text>
<text x="98.25" y="693.60" font-size="6.3" stroke="#1a1a1a" stroke-width="0.14" text-anchor="middle" textLength="33.40" lengthAdjust="spacingAndGlyphs">DREAM KO</text>
<text x="26.80" y="659.60" font-size="7.7" stroke="#1a1a1a" stroke-width="0.22" text-anchor="middle" textLength="63.00" lengthAdjust="spacingAndGlyphs" transform="rotate(-90 26.80 659.60)">ATP secretion (%)</text>
<text x="137.50" y="314.20" font-size="11.5" stroke="#000" stroke-width="0.22" font-weight="bold" fill="#000">D</text>
<text x="212.00" y="330.00" font-size="10.49" stroke="#1a1a1a" stroke-width="0.22" text-anchor="middle" textLength="66.50" lengthAdjust="spacingAndGlyphs">100 nM A23187</text>
<rect x="143.80" y="350.60" width="1.30" height="5.80" fill="#1a1a1a"/>
<text x="210.70" y="344.60" font-size="8.24" stroke="#1a1a1a" stroke-width="0.22" text-anchor="middle" textLength="48.50" lengthAdjust="spacingAndGlyphs">Time (second)</text>
<text x="178.20" y="355.60" font-size="6.3" stroke="#1a1a1a" stroke-width="0.14" text-anchor="middle">0</text>
<text x="194.20" y="355.60" font-size="6.3" stroke="#1a1a1a" stroke-width="0.14" text-anchor="middle">100</text>
<text x="210.20" y="355.60" font-size="6.3" stroke="#1a1a1a" stroke-width="0.14" text-anchor="middle">200</text>
<text x="226.20" y="355.60" font-size="6.3" stroke="#1a1a1a" stroke-width="0.14" text-anchor="middle">300</text>
<text x="242.20" y="355.60" font-size="6.3" stroke="#1a1a1a" stroke-width="0.14" text-anchor="middle">400</text>
<line x1="177.70" y1="361.90" x2="245.60" y2="361.90" stroke="#1a1a1a" stroke-width="1.1"/>
<line x1="186.20" y1="360.30" x2="186.20" y2="361.90" stroke="#1a1a1a" stroke-width="0.8"/>
<line x1="194.20" y1="360.30" x2="194.20" y2="361.90" stroke="#1a1a1a" stroke-width="0.8"/>
<line x1="202.20" y1="360.30" x2="202.20" y2="361.90" stroke="#1a1a1a" stroke-width="0.8"/>
<line x1="210.20" y1="360.30" x2="210.20" y2="361.90" stroke="#1a1a1a" stroke-width="0.8"/>
<line x1="218.20" y1="360.30" x2="218.20" y2="361.90" stroke="#1a1a1a" stroke-width="0.8"/>
<line x1="226.20" y1="360.30" x2="226.20" y2="361.90" stroke="#1a1a1a" stroke-width="0.8"/>
<line x1="234.20" y1="360.30" x2="234.20" y2="361.90" stroke="#1a1a1a" stroke-width="0.8"/>
<line x1="242.20" y1="360.30" x2="242.20" y2="361.90" stroke="#1a1a1a" stroke-width="0.8"/>
<line x1="178.20" y1="361.40" x2="178.20" y2="416.60" stroke="#1a1a1a" stroke-width="1.1"/>
<line x1="176.00" y1="361.90" x2="178.20" y2="361.90" stroke="#1a1a1a" stroke-width="0.9"/>
<text x="172.90" y="364.15" font-size="6.3" stroke="#1a1a1a" stroke-width="0.14" text-anchor="end">0</text>
<line x1="176.00" y1="372.74" x2="178.20" y2="372.74" stroke="#1a1a1a" stroke-width="0.9"/>
<text x="172.90" y="374.99" font-size="6.3" stroke="#1a1a1a" stroke-width="0.14" text-anchor="end">20</text>
<line x1="176.00" y1="383.58" x2="178.20" y2="383.58" stroke="#1a1a1a" stroke-width="0.9"/>
<text x="172.90" y="385.83" font-size="6.3" stroke="#1a1a1a" stroke-width="0.14" text-anchor="end">40</text>
<line x1="176.00" y1="394.42" x2="178.20" y2="394.42" stroke="#1a1a1a" stroke-width="0.9"/>
<text x="172.90" y="396.67" font-size="6.3" stroke="#1a1a1a" stroke-width="0.14" text-anchor="end">60</text>
<line x1="176.00" y1="405.26" x2="178.20" y2="405.26" stroke="#1a1a1a" stroke-width="0.9"/>
<text x="172.90" y="407.51" font-size="6.3" stroke="#1a1a1a" stroke-width="0.14" text-anchor="end">80</text>
<line x1="176.00" y1="416.10" x2="178.20" y2="416.10" stroke="#1a1a1a" stroke-width="0.9"/>
<text x="172.90" y="418.35" font-size="6.3" stroke="#1a1a1a" stroke-width="0.14" text-anchor="end">100</text>
<text x="157.30" y="389.00" font-size="7.8" stroke="#1a1a1a" stroke-width="0.22" text-anchor="middle" textLength="63.50" lengthAdjust="spacingAndGlyphs" transform="rotate(-90 157.30 389.00)">Light transmission</text>
<path d="M178.20,369.22 C178.41,368.72 179.05,366.94 179.48,366.24 C179.91,365.53 180.17,365.08 180.76,364.99 C181.35,364.90 182.09,365.31 183.00,365.69 C183.91,366.08 184.76,366.26 186.20,367.32 C187.64,368.38 189.27,370.80 191.64,372.04 C194.01,373.27 197.27,374.19 200.44,374.75 C203.61,375.30 206.55,375.40 210.68,375.34 C214.81,375.28 219.93,374.71 225.24,374.37 C230.55,374.02 239.64,373.46 242.52,373.28" stroke="#a04a68" stroke-width="1.3" fill="none"/>
<path d="M178.20,369.22 C178.41,368.72 179.05,366.94 179.48,366.24 C179.91,365.53 180.31,364.99 180.76,364.99 C181.21,364.99 181.61,365.53 182.20,366.24 C182.79,366.94 183.32,367.05 184.28,369.22 C185.24,371.38 186.87,375.86 187.96,379.24 C189.05,382.63 189.75,386.83 190.84,389.54 C191.93,392.25 192.44,393.64 194.52,395.50 C196.60,397.36 199.43,399.17 203.32,400.71 C207.21,402.24 211.35,403.60 217.88,404.72 C224.41,405.84 238.41,406.98 242.52,407.43" stroke="#1f2d50" stroke-width="1.7" fill="none"/>
<line x1="211.70" y1="385.00" x2="214.70" y2="385.00" stroke="#333" stroke-width="0.9"/>
<text x="216.10" y="386.60" font-size="5.6" stroke="#333" stroke-width="0.14" fill="#333">WT</text>
<line x1="211.70" y1="391.50" x2="214.70" y2="391.50" stroke="#a04a68" stroke-width="0.9"/>
<text x="216.10" y="393.10" font-size="5.6" stroke="#333" stroke-width="0.14" fill="#333">DREAM KO</text>
<line x1="177.60" y1="434.12" x2="177.60" y2="485.90" stroke="#1a1a1a" stroke-width="1.1"/>
<line x1="175.30" y1="485.40" x2="177.60" y2="485.40" stroke="#1a1a1a" stroke-width="0.9"/>
<text x="172.60" y="487.65" font-size="6.3" stroke="#1a1a1a" stroke-width="0.14" text-anchor="end">0</text>
<line x1="175.30" y1="475.38" x2="177.60" y2="475.38" stroke="#1a1a1a" stroke-width="0.9"/>
<text x="172.60" y="477.63" font-size="6.3" stroke="#1a1a1a" stroke-width="0.14" text-anchor="end">20</text>
<line x1="175.30" y1="465.37" x2="177.60" y2="465.37" stroke="#1a1a1a" stroke-width="0.9"/>
<text x="172.60" y="467.62" font-size="6.3" stroke="#1a1a1a" stroke-width="0.14" text-anchor="end">40</text>
<line x1="175.30" y1="455.35" x2="177.60" y2="455.35" stroke="#1a1a1a" stroke-width="0.9"/>
<text x="172.60" y="457.60" font-size="6.3" stroke="#1a1a1a" stroke-width="0.14" text-anchor="end">60</text>
<line x1="175.30" y1="445.34" x2="177.60" y2="445.34" stroke="#1a1a1a" stroke-width="0.9"/>
<text x="172.60" y="447.59" font-size="6.3" stroke="#1a1a1a" stroke-width="0.14" text-anchor="end">80</text>
<line x1="175.30" y1="435.32" x2="177.60" y2="435.32" stroke="#1a1a1a" stroke-width="0.9"/>
<text x="172.60" y="437.57" font-size="6.3" stroke="#1a1a1a" stroke-width="0.14" text-anchor="end">100</text>
<line x1="177.10" y1="485.40" x2="246.80" y2="485.40" stroke="#1a1a1a" stroke-width="1.1"/>
<line x1="177.60" y1="485.40" x2="177.60" y2="487.20" stroke="#1a1a1a" stroke-width="0.9"/>
<text x="179.40" y="494.00" font-size="6.9" stroke="#1a1a1a" stroke-width="0.2" text-anchor="end" transform="rotate(-45 179.40 494.00)">0</text>
<line x1="188.92" y1="485.40" x2="188.92" y2="487.20" stroke="#1a1a1a" stroke-width="0.9"/>
<text x="190.72" y="494.00" font-size="6.9" stroke="#1a1a1a" stroke-width="0.2" text-anchor="end" transform="rotate(-45 190.72 494.00)">60</text>
<line x1="200.24" y1="485.40" x2="200.24" y2="487.20" stroke="#1a1a1a" stroke-width="0.9"/>
<text x="202.04" y="494.00" font-size="6.9" stroke="#1a1a1a" stroke-width="0.2" text-anchor="end" transform="rotate(-45 202.04 494.00)">120</text>
<line x1="211.57" y1="485.40" x2="211.57" y2="487.20" stroke="#1a1a1a" stroke-width="0.9"/>
<text x="213.37" y="494.00" font-size="6.9" stroke="#1a1a1a" stroke-width="0.2" text-anchor="end" transform="rotate(-45 213.37 494.00)">180</text>
<line x1="222.89" y1="485.40" x2="222.89" y2="487.20" stroke="#1a1a1a" stroke-width="0.9"/>
<text x="224.69" y="494.00" font-size="6.9" stroke="#1a1a1a" stroke-width="0.2" text-anchor="end" transform="rotate(-45 224.69 494.00)">240</text>
<line x1="234.21" y1="485.40" x2="234.21" y2="487.20" stroke="#1a1a1a" stroke-width="0.9"/>
<text x="236.01" y="494.00" font-size="6.9" stroke="#1a1a1a" stroke-width="0.2" text-anchor="end" transform="rotate(-45 236.01 494.00)">300</text>
<line x1="245.53" y1="485.40" x2="245.53" y2="487.20" stroke="#1a1a1a" stroke-width="0.9"/>
<text x="247.33" y="494.00" font-size="6.9" stroke="#1a1a1a" stroke-width="0.2" text-anchor="end" transform="rotate(-45 247.33 494.00)">360</text>
<text x="213.07" y="511.40" font-size="8.24" stroke="#1a1a1a" stroke-width="0.22" text-anchor="middle" textLength="48.50" lengthAdjust="spacingAndGlyphs">Time (second)</text>
<text x="155.90" y="459.36" font-size="7.7" stroke="#1a1a1a" stroke-width="0.22" text-anchor="middle" textLength="57.00" lengthAdjust="spacingAndGlyphs" transform="rotate(-90 155.90 459.36)">Aggregation (%)</text>
<path d="M177.60,485.40 C179.49,485.32 185.15,485.40 188.92,484.90 C192.70,484.40 196.47,483.06 200.24,482.40 C204.02,481.73 207.79,481.23 211.57,480.89 C215.34,480.56 219.11,480.39 222.89,480.39 C226.66,480.39 230.44,480.81 234.21,480.89 C237.98,480.98 243.64,480.89 245.53,480.89" stroke="#a3304f" stroke-width="1.1" fill="none"/>
<rect x="176.70" y="484.50" width="1.80" height="1.80" fill="#222"/>
<line x1="188.92" y1="484.15" x2="188.92" y2="485.65" stroke="#2a2a2a" stroke-width="0.9" stroke-dasharray="1.3,0.5"/>
<line x1="188.32" y1="484.15" x2="189.52" y2="484.15" stroke="#2a2a2a" stroke-width="0.8"/>
<line x1="188.32" y1="485.65" x2="189.52" y2="485.65" stroke="#2a2a2a" stroke-width="0.8"/>
<rect x="188.02" y="484.00" width="1.80" height="1.80" fill="#222"/>
<line x1="200.24" y1="480.89" x2="200.24" y2="483.90" stroke="#2a2a2a" stroke-width="0.9" stroke-dasharray="1.3,0.5"/>
<line x1="199.64" y1="480.89" x2="200.84" y2="480.89" stroke="#2a2a2a" stroke-width="0.8"/>
<line x1="199.64" y1="483.90" x2="200.84" y2="483.90" stroke="#2a2a2a" stroke-width="0.8"/>
<rect x="199.34" y="481.50" width="1.80" height="1.80" fill="#222"/>
<line x1="211.57" y1="478.89" x2="211.57" y2="482.90" stroke="#2a2a2a" stroke-width="0.9" stroke-dasharray="1.3,0.5"/>
<line x1="210.97" y1="478.89" x2="212.17" y2="478.89" stroke="#2a2a2a" stroke-width="0.8"/>
<line x1="210.97" y1="482.90" x2="212.17" y2="482.90" stroke="#2a2a2a" stroke-width="0.8"/>
<rect x="210.67" y="479.99" width="1.80" height="1.80" fill="#222"/>
<line x1="222.89" y1="478.39" x2="222.89" y2="482.40" stroke="#2a2a2a" stroke-width="0.9" stroke-dasharray="1.3,0.5"/>
<line x1="222.29" y1="478.39" x2="223.49" y2="478.39" stroke="#2a2a2a" stroke-width="0.8"/>
<line x1="222.29" y1="482.40" x2="223.49" y2="482.40" stroke="#2a2a2a" stroke-width="0.8"/>
<rect x="221.99" y="479.49" width="1.80" height="1.80" fill="#222"/>
<line x1="234.21" y1="478.89" x2="234.21" y2="482.90" stroke="#2a2a2a" stroke-width="0.9" stroke-dasharray="1.3,0.5"/>
<line x1="233.61" y1="478.89" x2="234.81" y2="478.89" stroke="#2a2a2a" stroke-width="0.8"/>
<line x1="233.61" y1="482.90" x2="234.81" y2="482.90" stroke="#2a2a2a" stroke-width="0.8"/>
<rect x="233.31" y="479.99" width="1.80" height="1.80" fill="#222"/>
<line x1="245.53" y1="478.89" x2="245.53" y2="482.90" stroke="#2a2a2a" stroke-width="0.9" stroke-dasharray="1.3,0.5"/>
<line x1="244.93" y1="478.89" x2="246.13" y2="478.89" stroke="#2a2a2a" stroke-width="0.8"/>
<line x1="244.93" y1="482.90" x2="246.13" y2="482.90" stroke="#2a2a2a" stroke-width="0.8"/>
<rect x="244.63" y="479.99" width="1.80" height="1.80" fill="#222"/>
<path d="M177.60,485.40 C179.49,483.73 185.15,479.14 188.92,475.38 C192.70,471.63 196.47,466.62 200.24,462.86 C204.02,459.11 207.79,454.77 211.57,452.85 C215.34,450.93 219.11,451.60 222.89,451.35 C226.66,451.10 230.44,451.35 234.21,451.35 C237.98,451.35 243.64,451.35 245.53,451.35" stroke="#46506a" stroke-width="1.1" fill="none"/>
<rect x="176.70" y="484.50" width="1.80" height="1.80" fill="#222"/>
<line x1="188.92" y1="473.88" x2="188.92" y2="476.89" stroke="#2a2a2a" stroke-width="0.9" stroke-dasharray="1.3,0.5"/>
<line x1="188.32" y1="473.88" x2="189.52" y2="473.88" stroke="#2a2a2a" stroke-width="0.8"/>
<line x1="188.32" y1="476.89" x2="189.52" y2="476.89" stroke="#2a2a2a" stroke-width="0.8"/>
<rect x="188.02" y="474.48" width="1.80" height="1.80" fill="#222"/>
<line x1="200.24" y1="459.86" x2="200.24" y2="465.87" stroke="#2a2a2a" stroke-width="0.9" stroke-dasharray="1.3,0.5"/>
<line x1="199.64" y1="459.86" x2="200.84" y2="459.86" stroke="#2a2a2a" stroke-width="0.8"/>
<line x1="199.64" y1="465.87" x2="200.84" y2="465.87" stroke="#2a2a2a" stroke-width="0.8"/>
<rect x="199.34" y="461.96" width="1.80" height="1.80" fill="#222"/>
<line x1="211.57" y1="449.84" x2="211.57" y2="455.85" stroke="#2a2a2a" stroke-width="0.9" stroke-dasharray="1.3,0.5"/>
<line x1="210.97" y1="449.84" x2="212.17" y2="449.84" stroke="#2a2a2a" stroke-width="0.8"/>
<line x1="210.97" y1="455.85" x2="212.17" y2="455.85" stroke="#2a2a2a" stroke-width="0.8"/>
<rect x="210.67" y="451.95" width="1.80" height="1.80" fill="#222"/>
<line x1="222.89" y1="448.34" x2="222.89" y2="454.35" stroke="#2a2a2a" stroke-width="0.9" stroke-dasharray="1.3,0.5"/>
<line x1="222.29" y1="448.34" x2="223.49" y2="448.34" stroke="#2a2a2a" stroke-width="0.8"/>
<line x1="222.29" y1="454.35" x2="223.49" y2="454.35" stroke="#2a2a2a" stroke-width="0.8"/>
<rect x="221.99" y="450.45" width="1.80" height="1.80" fill="#222"/>
<line x1="234.21" y1="448.34" x2="234.21" y2="454.35" stroke="#2a2a2a" stroke-width="0.9" stroke-dasharray="1.3,0.5"/>
<line x1="233.61" y1="448.34" x2="234.81" y2="448.34" stroke="#2a2a2a" stroke-width="0.8"/>
<line x1="233.61" y1="454.35" x2="234.81" y2="454.35" stroke="#2a2a2a" stroke-width="0.8"/>
<rect x="233.31" y="450.45" width="1.80" height="1.80" fill="#222"/>
<line x1="245.53" y1="447.84" x2="245.53" y2="454.85" stroke="#2a2a2a" stroke-width="0.9" stroke-dasharray="1.3,0.5"/>
<line x1="244.93" y1="447.84" x2="246.13" y2="447.84" stroke="#2a2a2a" stroke-width="0.8"/>
<line x1="244.93" y1="454.85" x2="246.13" y2="454.85" stroke="#2a2a2a" stroke-width="0.8"/>
<rect x="244.63" y="450.45" width="1.80" height="1.80" fill="#222"/>
<rect x="142.50" y="524.40" width="1.30" height="5.80" fill="#1a1a1a"/>
<rect x="145.10" y="524.40" width="1.30" height="5.80" fill="#1a1a1a"/>
<line x1="176.60" y1="542.10" x2="176.60" y2="595.50" stroke="#1a1a1a" stroke-width="1.1"/>
<line x1="174.40" y1="595.00" x2="176.60" y2="595.00" stroke="#1a1a1a" stroke-width="0.9"/>
<text x="171.80" y="597.25" font-size="6.3" stroke="#1a1a1a" stroke-width="0.14" text-anchor="end">0</text>
<line x1="174.40" y1="569.30" x2="176.60" y2="569.30" stroke="#1a1a1a" stroke-width="0.9"/>
<text x="171.80" y="571.55" font-size="6.3" stroke="#1a1a1a" stroke-width="0.14" text-anchor="end">1</text>
<line x1="174.40" y1="543.60" x2="176.60" y2="543.60" stroke="#1a1a1a" stroke-width="0.9"/>
<text x="171.80" y="545.85" font-size="6.3" stroke="#1a1a1a" stroke-width="0.14" text-anchor="end">2</text>
<line x1="176.10" y1="595.00" x2="253.00" y2="595.00" stroke="#1a1a1a" stroke-width="1.1"/>
<line x1="178.00" y1="595.00" x2="178.00" y2="596.50" stroke="#1a1a1a" stroke-width="0.8"/>
<line x1="187.12" y1="595.00" x2="187.12" y2="596.50" stroke="#1a1a1a" stroke-width="0.8"/>
<line x1="196.25" y1="595.00" x2="196.25" y2="596.50" stroke="#1a1a1a" stroke-width="0.8"/>
<line x1="205.38" y1="595.00" x2="205.38" y2="596.50" stroke="#1a1a1a" stroke-width="0.8"/>
<line x1="214.50" y1="595.00" x2="214.50" y2="596.50" stroke="#1a1a1a" stroke-width="0.8"/>
<line x1="223.62" y1="595.00" x2="223.62" y2="596.50" stroke="#1a1a1a" stroke-width="0.8"/>
<line x1="232.75" y1="595.00" x2="232.75" y2="596.50" stroke="#1a1a1a" stroke-width="0.8"/>
<line x1="241.88" y1="595.00" x2="241.88" y2="596.50" stroke="#1a1a1a" stroke-width="0.8"/>
<line x1="251.00" y1="595.00" x2="251.00" y2="596.50" stroke="#1a1a1a" stroke-width="0.8"/>
<text x="178.00" y="605.20" font-size="6.3" stroke="#1a1a1a" stroke-width="0.14" text-anchor="middle">0</text>
<text x="196.25" y="605.20" font-size="6.3" stroke="#1a1a1a" stroke-width="0.14" text-anchor="middle">100</text>
<text x="214.50" y="605.20" font-size="6.3" stroke="#1a1a1a" stroke-width="0.14" text-anchor="middle">200</text>
<text x="232.75" y="605.20" font-size="6.3" stroke="#1a1a1a" stroke-width="0.14" text-anchor="middle">300</text>
<text x="251.00" y="605.20" font-size="6.3" stroke="#1a1a1a" stroke-width="0.14" text-anchor="middle">400</text>
<text x="215.00" y="616.60" font-size="8.24" stroke="#1a1a1a" stroke-width="0.22" text-anchor="middle" textLength="48.50" lengthAdjust="spacingAndGlyphs">Time (second)</text>
<text x="164.40" y="568.01" font-size="7.7" stroke="#1a1a1a" stroke-width="0.22" text-anchor="middle" textLength="72.00" lengthAdjust="spacingAndGlyphs" transform="rotate(-90 164.40 568.01)">ATP secretion (nmol)</text>
<path d="M178.00,591.92 C179.52,592.17 184.08,593.67 187.12,593.46 C190.17,593.24 193.21,591.44 196.25,590.63 C199.29,589.82 202.33,589.05 205.38,588.58 C208.42,588.10 209.94,587.93 214.50,587.80 C219.06,587.68 226.51,587.85 232.75,587.80 C238.99,587.76 248.72,587.59 251.91,587.55" stroke="#a3506e" stroke-width="1.0" fill="none"/>
<path d="M178.00,592.94 C179.52,593.03 184.08,594.40 187.12,593.46 C190.17,592.52 193.21,589.69 196.25,587.29 C199.29,584.89 202.33,581.21 205.38,579.07 C208.42,576.92 211.46,575.34 214.50,574.44 C217.54,573.54 219.97,573.71 223.62,573.67 C227.28,573.63 231.69,573.97 236.40,574.18 C241.11,574.40 249.33,574.83 251.91,574.95" stroke="#4a5a80" stroke-width="1.0" fill="none"/>
<line x1="177.60" y1="637.50" x2="177.60" y2="683.90" stroke="#1a1a1a" stroke-width="1.1"/>
<line x1="175.60" y1="683.40" x2="177.60" y2="683.40" stroke="#1a1a1a" stroke-width="0.9"/>
<text x="173.00" y="685.40" font-size="5.6" stroke="#1a1a1a" stroke-width="0.14" text-anchor="end">0</text>
<line x1="175.60" y1="676.00" x2="177.60" y2="676.00" stroke="#1a1a1a" stroke-width="0.9"/>
<text x="173.00" y="678.00" font-size="5.6" stroke="#1a1a1a" stroke-width="0.14" text-anchor="end">20</text>
<line x1="175.60" y1="668.60" x2="177.60" y2="668.60" stroke="#1a1a1a" stroke-width="0.9"/>
<text x="173.00" y="670.60" font-size="5.6" stroke="#1a1a1a" stroke-width="0.14" text-anchor="end">40</text>
<line x1="175.60" y1="661.20" x2="177.60" y2="661.20" stroke="#1a1a1a" stroke-width="0.9"/>
<text x="173.00" y="663.20" font-size="5.6" stroke="#1a1a1a" stroke-width="0.14" text-anchor="end">60</text>
<line x1="175.60" y1="653.80" x2="177.60" y2="653.80" stroke="#1a1a1a" stroke-width="0.9"/>
<text x="173.00" y="655.80" font-size="5.6" stroke="#1a1a1a" stroke-width="0.14" text-anchor="end">80</text>
<line x1="175.60" y1="646.40" x2="177.60" y2="646.40" stroke="#1a1a1a" stroke-width="0.9"/>
<text x="173.00" y="648.40" font-size="5.6" stroke="#1a1a1a" stroke-width="0.14" text-anchor="end">100</text>
<line x1="175.60" y1="639.00" x2="177.60" y2="639.00" stroke="#1a1a1a" stroke-width="0.9"/>
<text x="173.00" y="641.00" font-size="5.6" stroke="#1a1a1a" stroke-width="0.14" text-anchor="end">120</text>
<rect x="183.90" y="647.44" width="21.90" height="35.96" fill="#2c4d8e" stroke="#1c2a52" stroke-width="0.7"/>
<rect x="217.30" y="673.34" width="21.90" height="10.06" fill="#b3173d" stroke="#6a0c24" stroke-width="0.7"/>
<line x1="177.10" y1="683.40" x2="244.00" y2="683.40" stroke="#1a1a1a" stroke-width="1.2"/>
<line x1="194.85" y1="683.40" x2="194.85" y2="685.00" stroke="#1a1a1a" stroke-width="0.8"/>
<line x1="228.25" y1="683.40" x2="228.25" y2="685.00" stroke="#1a1a1a" stroke-width="0.8"/>
<circle cx="189.55" cy="646.40" r="1.85" fill="#c4c6d0" stroke="#222" stroke-width="0.75"/>
<circle cx="194.85" cy="646.40" r="1.85" fill="#c4c6d0" stroke="#222" stroke-width="0.75"/>
<circle cx="200.15" cy="646.40" r="1.85" fill="#c4c6d0" stroke="#222" stroke-width="0.75"/>
<circle cx="224.75" cy="673.78" r="1.8" fill="#d8c8cc" stroke="#333" stroke-width="0.7" fill-opacity="0.6"/>
<rect x="226.05" y="667.64" width="3.4" height="3.4" fill="#d8c8cc" stroke="#333" stroke-width="0.7"/>
<circle cx="230.75" cy="673.41" r="1.8" fill="#d8c8cc" stroke="#333" stroke-width="0.7" fill-opacity="0.6"/>
<text x="228.25" y="665.40" font-size="7.5" stroke="#1a1a1a" stroke-width="0.22" text-anchor="middle" font-weight="bold">***</text>
<text x="194.85" y="693.60" font-size="6.3" stroke="#1a1a1a" stroke-width="0.14" text-anchor="middle">WT</text>
<text x="228.25" y="693.60" font-size="6.3" stroke="#1a1a1a" stroke-width="0.14" text-anchor="middle" textLength="33.40" lengthAdjust="spacingAndGlyphs">DREAM KO</text>
<text x="156.80" y="659.60" font-size="7.7" stroke="#1a1a1a" stroke-width="0.22" text-anchor="middle" textLength="63.00" lengthAdjust="spacingAndGlyphs" transform="rotate(-90 156.80 659.60)">ATP secretion (%)</text>
<text x="267.50" y="314.20" font-size="11.5" stroke="#000" stroke-width="0.22" font-weight="bold" fill="#000">E</text>
<text x="342.00" y="330.00" font-size="10.49" stroke="#1a1a1a" stroke-width="0.22" text-anchor="middle" textLength="50.00" lengthAdjust="spacingAndGlyphs">10 µM ADP</text>
<rect x="273.80" y="350.60" width="1.30" height="5.80" fill="#1a1a1a"/>
<text x="340.70" y="344.60" font-size="8.24" stroke="#1a1a1a" stroke-width="0.22" text-anchor="middle" textLength="48.50" lengthAdjust="spacingAndGlyphs">Time (second)</text>
<text x="308.20" y="355.60" font-size="6.3" stroke="#1a1a1a" stroke-width="0.14" text-anchor="middle">0</text>
<text x="324.20" y="355.60" font-size="6.3" stroke="#1a1a1a" stroke-width="0.14" text-anchor="middle">100</text>
<text x="340.20" y="355.60" font-size="6.3" stroke="#1a1a1a" stroke-width="0.14" text-anchor="middle">200</text>
<text x="356.20" y="355.60" font-size="6.3" stroke="#1a1a1a" stroke-width="0.14" text-anchor="middle">300</text>
<text x="372.20" y="355.60" font-size="6.3" stroke="#1a1a1a" stroke-width="0.14" text-anchor="middle">400</text>
<line x1="307.70" y1="361.90" x2="375.60" y2="361.90" stroke="#1a1a1a" stroke-width="1.1"/>
<line x1="316.20" y1="360.30" x2="316.20" y2="361.90" stroke="#1a1a1a" stroke-width="0.8"/>
<line x1="324.20" y1="360.30" x2="324.20" y2="361.90" stroke="#1a1a1a" stroke-width="0.8"/>
<line x1="332.20" y1="360.30" x2="332.20" y2="361.90" stroke="#1a1a1a" stroke-width="0.8"/>
<line x1="340.20" y1="360.30" x2="340.20" y2="361.90" stroke="#1a1a1a" stroke-width="0.8"/>
<line x1="348.20" y1="360.30" x2="348.20" y2="361.90" stroke="#1a1a1a" stroke-width="0.8"/>
<line x1="356.20" y1="360.30" x2="356.20" y2="361.90" stroke="#1a1a1a" stroke-width="0.8"/>
<line x1="364.20" y1="360.30" x2="364.20" y2="361.90" stroke="#1a1a1a" stroke-width="0.8"/>
<line x1="372.20" y1="360.30" x2="372.20" y2="361.90" stroke="#1a1a1a" stroke-width="0.8"/>
<line x1="308.20" y1="361.40" x2="308.20" y2="416.60" stroke="#1a1a1a" stroke-width="1.1"/>
<line x1="306.00" y1="361.90" x2="308.20" y2="361.90" stroke="#1a1a1a" stroke-width="0.9"/>
<text x="302.90" y="364.15" font-size="6.3" stroke="#1a1a1a" stroke-width="0.14" text-anchor="end">0</text>
<line x1="306.00" y1="372.74" x2="308.20" y2="372.74" stroke="#1a1a1a" stroke-width="0.9"/>
<text x="302.90" y="374.99" font-size="6.3" stroke="#1a1a1a" stroke-width="0.14" text-anchor="end">20</text>
<line x1="306.00" y1="383.58" x2="308.20" y2="383.58" stroke="#1a1a1a" stroke-width="0.9"/>
<text x="302.90" y="385.83" font-size="6.3" stroke="#1a1a1a" stroke-width="0.14" text-anchor="end">40</text>
<line x1="306.00" y1="394.42" x2="308.20" y2="394.42" stroke="#1a1a1a" stroke-width="0.9"/>
<text x="302.90" y="396.67" font-size="6.3" stroke="#1a1a1a" stroke-width="0.14" text-anchor="end">60</text>
<line x1="306.00" y1="405.26" x2="308.20" y2="405.26" stroke="#1a1a1a" stroke-width="0.9"/>
<text x="302.90" y="407.51" font-size="6.3" stroke="#1a1a1a" stroke-width="0.14" text-anchor="end">80</text>
<line x1="306.00" y1="416.10" x2="308.20" y2="416.10" stroke="#1a1a1a" stroke-width="0.9"/>
<text x="302.90" y="418.35" font-size="6.3" stroke="#1a1a1a" stroke-width="0.14" text-anchor="end">100</text>
<text x="287.30" y="389.00" font-size="7.8" stroke="#1a1a1a" stroke-width="0.22" text-anchor="middle" textLength="63.50" lengthAdjust="spacingAndGlyphs" transform="rotate(-90 287.30 389.00)">Light transmission</text>
<path d="M308.20,369.49 C309.40,369.49 314.17,370.39 315.40,369.49 C316.63,368.58 315.37,364.25 315.56,364.07 C315.75,363.89 316.15,367.50 316.52,368.40 C316.89,369.31 315.19,369.17 317.80,369.49 C320.41,369.80 327.13,369.98 332.20,370.30 C337.27,370.62 341.48,370.98 348.20,371.38 C354.92,371.79 368.47,372.51 372.52,372.74" stroke="#9a3a5c" stroke-width="1.5" fill="none"/>
<path d="M308.20,369.49 C309.40,369.49 314.17,370.39 315.40,369.49 C316.63,368.58 315.16,364.52 315.56,364.07 C315.96,363.62 316.79,364.70 317.80,366.78 C318.81,368.86 320.25,373.19 321.64,376.53 C323.03,379.88 324.65,383.67 326.12,386.83 C327.59,389.99 328.73,393.06 330.44,395.50 C332.15,397.94 334.15,400.02 336.36,401.47 C338.57,402.91 340.55,403.69 343.72,404.18 C346.89,404.66 351.77,404.57 355.40,404.39 C359.03,404.21 362.63,403.53 365.48,403.09 C368.33,402.65 371.35,401.96 372.52,401.74" stroke="#3f4a5e" stroke-width="1.3" fill="none"/>
<line x1="341.30" y1="386.80" x2="344.30" y2="386.80" stroke="#333" stroke-width="0.9"/>
<text x="345.70" y="388.40" font-size="5.6" stroke="#333" stroke-width="0.14" fill="#333">WT</text>
<line x1="341.30" y1="393.30" x2="344.30" y2="393.30" stroke="#9a3a5c" stroke-width="0.9"/>
<text x="345.70" y="394.90" font-size="5.6" stroke="#333" stroke-width="0.14" fill="#333">DREAM KO</text>
<line x1="307.60" y1="434.12" x2="307.60" y2="485.90" stroke="#1a1a1a" stroke-width="1.1"/>
<line x1="305.30" y1="485.40" x2="307.60" y2="485.40" stroke="#1a1a1a" stroke-width="0.9"/>
<text x="302.60" y="487.65" font-size="6.3" stroke="#1a1a1a" stroke-width="0.14" text-anchor="end">0</text>
<line x1="305.30" y1="472.88" x2="307.60" y2="472.88" stroke="#1a1a1a" stroke-width="0.9"/>
<text x="302.60" y="475.13" font-size="6.3" stroke="#1a1a1a" stroke-width="0.14" text-anchor="end">20</text>
<line x1="305.30" y1="460.36" x2="307.60" y2="460.36" stroke="#1a1a1a" stroke-width="0.9"/>
<text x="302.60" y="462.61" font-size="6.3" stroke="#1a1a1a" stroke-width="0.14" text-anchor="end">40</text>
<line x1="305.30" y1="447.84" x2="307.60" y2="447.84" stroke="#1a1a1a" stroke-width="0.9"/>
<text x="302.60" y="450.09" font-size="6.3" stroke="#1a1a1a" stroke-width="0.14" text-anchor="end">60</text>
<line x1="305.30" y1="435.32" x2="307.60" y2="435.32" stroke="#1a1a1a" stroke-width="0.9"/>
<text x="302.60" y="437.57" font-size="6.3" stroke="#1a1a1a" stroke-width="0.14" text-anchor="end">80</text>
<line x1="307.10" y1="485.40" x2="376.80" y2="485.40" stroke="#1a1a1a" stroke-width="1.1"/>
<line x1="307.60" y1="485.40" x2="307.60" y2="487.20" stroke="#1a1a1a" stroke-width="0.9"/>
<text x="309.40" y="494.00" font-size="6.9" stroke="#1a1a1a" stroke-width="0.2" text-anchor="end" transform="rotate(-45 309.40 494.00)">0</text>
<line x1="318.92" y1="485.40" x2="318.92" y2="487.20" stroke="#1a1a1a" stroke-width="0.9"/>
<text x="320.72" y="494.00" font-size="6.9" stroke="#1a1a1a" stroke-width="0.2" text-anchor="end" transform="rotate(-45 320.72 494.00)">60</text>
<line x1="330.24" y1="485.40" x2="330.24" y2="487.20" stroke="#1a1a1a" stroke-width="0.9"/>
<text x="332.04" y="494.00" font-size="6.9" stroke="#1a1a1a" stroke-width="0.2" text-anchor="end" transform="rotate(-45 332.04 494.00)">120</text>
<line x1="341.57" y1="485.40" x2="341.57" y2="487.20" stroke="#1a1a1a" stroke-width="0.9"/>
<text x="343.37" y="494.00" font-size="6.9" stroke="#1a1a1a" stroke-width="0.2" text-anchor="end" transform="rotate(-45 343.37 494.00)">180</text>
<line x1="352.89" y1="485.40" x2="352.89" y2="487.20" stroke="#1a1a1a" stroke-width="0.9"/>
<text x="354.69" y="494.00" font-size="6.9" stroke="#1a1a1a" stroke-width="0.2" text-anchor="end" transform="rotate(-45 354.69 494.00)">240</text>
<line x1="364.21" y1="485.40" x2="364.21" y2="487.20" stroke="#1a1a1a" stroke-width="0.9"/>
<text x="366.01" y="494.00" font-size="6.9" stroke="#1a1a1a" stroke-width="0.2" text-anchor="end" transform="rotate(-45 366.01 494.00)">300</text>
<line x1="375.53" y1="485.40" x2="375.53" y2="487.20" stroke="#1a1a1a" stroke-width="0.9"/>
<text x="377.33" y="494.00" font-size="6.9" stroke="#1a1a1a" stroke-width="0.2" text-anchor="end" transform="rotate(-45 377.33 494.00)">360</text>
<text x="343.07" y="511.40" font-size="8.24" stroke="#1a1a1a" stroke-width="0.22" text-anchor="middle" textLength="48.50" lengthAdjust="spacingAndGlyphs">Time (second)</text>
<text x="287.30" y="459.36" font-size="7.7" stroke="#1a1a1a" stroke-width="0.22" text-anchor="middle" textLength="57.00" lengthAdjust="spacingAndGlyphs" transform="rotate(-90 287.30 459.36)">Aggregation (%)</text>
<path d="M307.60,485.40 C309.49,485.35 315.15,485.19 318.92,485.09 C322.70,484.98 326.47,484.83 330.24,484.77 C334.02,484.72 337.79,485.09 341.57,484.77 C345.34,484.46 349.11,483.10 352.89,482.90 C356.66,482.69 360.44,483.63 364.21,483.52 C367.98,483.42 373.65,482.48 375.53,482.27" stroke="#a3304f" stroke-width="1.1" fill="none"/>
<rect x="306.70" y="484.50" width="1.80" height="1.80" fill="#222"/>
<line x1="318.92" y1="484.46" x2="318.92" y2="485.71" stroke="#2a2a2a" stroke-width="0.9" stroke-dasharray="1.3,0.5"/>
<line x1="318.32" y1="484.46" x2="319.52" y2="484.46" stroke="#2a2a2a" stroke-width="0.8"/>
<line x1="318.32" y1="485.71" x2="319.52" y2="485.71" stroke="#2a2a2a" stroke-width="0.8"/>
<rect x="318.02" y="484.19" width="1.80" height="1.80" fill="#222"/>
<line x1="330.24" y1="483.83" x2="330.24" y2="485.71" stroke="#2a2a2a" stroke-width="0.9" stroke-dasharray="1.3,0.5"/>
<line x1="329.64" y1="483.83" x2="330.84" y2="483.83" stroke="#2a2a2a" stroke-width="0.8"/>
<line x1="329.64" y1="485.71" x2="330.84" y2="485.71" stroke="#2a2a2a" stroke-width="0.8"/>
<rect x="329.34" y="483.87" width="1.80" height="1.80" fill="#222"/>
<line x1="341.57" y1="483.83" x2="341.57" y2="485.71" stroke="#2a2a2a" stroke-width="0.9" stroke-dasharray="1.3,0.5"/>
<line x1="340.97" y1="483.83" x2="342.17" y2="483.83" stroke="#2a2a2a" stroke-width="0.8"/>
<line x1="340.97" y1="485.71" x2="342.17" y2="485.71" stroke="#2a2a2a" stroke-width="0.8"/>
<rect x="340.67" y="483.87" width="1.80" height="1.80" fill="#222"/>
<line x1="352.89" y1="481.02" x2="352.89" y2="484.77" stroke="#2a2a2a" stroke-width="0.9" stroke-dasharray="1.3,0.5"/>
<line x1="352.29" y1="481.02" x2="353.49" y2="481.02" stroke="#2a2a2a" stroke-width="0.8"/>
<line x1="352.29" y1="484.77" x2="353.49" y2="484.77" stroke="#2a2a2a" stroke-width="0.8"/>
<rect x="351.99" y="482.00" width="1.80" height="1.80" fill="#222"/>
<line x1="364.21" y1="481.64" x2="364.21" y2="485.40" stroke="#2a2a2a" stroke-width="0.9" stroke-dasharray="1.3,0.5"/>
<line x1="363.61" y1="481.64" x2="364.81" y2="481.64" stroke="#2a2a2a" stroke-width="0.8"/>
<line x1="363.61" y1="485.40" x2="364.81" y2="485.40" stroke="#2a2a2a" stroke-width="0.8"/>
<rect x="363.31" y="482.62" width="1.80" height="1.80" fill="#222"/>
<line x1="375.53" y1="480.39" x2="375.53" y2="484.15" stroke="#2a2a2a" stroke-width="0.9" stroke-dasharray="1.3,0.5"/>
<line x1="374.93" y1="480.39" x2="376.13" y2="480.39" stroke="#2a2a2a" stroke-width="0.8"/>
<line x1="374.93" y1="484.15" x2="376.13" y2="484.15" stroke="#2a2a2a" stroke-width="0.8"/>
<rect x="374.63" y="481.37" width="1.80" height="1.80" fill="#222"/>
<path d="M307.60,485.40 C309.49,484.88 315.15,484.67 318.92,482.27 C322.70,479.87 326.47,475.49 330.24,471.00 C334.02,466.52 337.79,459.73 341.57,455.35 C345.34,450.97 349.11,446.59 352.89,444.71 C356.66,442.83 360.44,444.19 364.21,444.08 C367.98,443.98 373.65,444.08 375.53,444.08" stroke="#46506a" stroke-width="1.1" fill="none"/>
<rect x="306.70" y="484.50" width="1.80" height="1.80" fill="#222"/>
<line x1="318.92" y1="480.39" x2="318.92" y2="484.15" stroke="#2a2a2a" stroke-width="0.9" stroke-dasharray="1.3,0.5"/>
<line x1="318.32" y1="480.39" x2="319.52" y2="480.39" stroke="#2a2a2a" stroke-width="0.8"/>
<line x1="318.32" y1="484.15" x2="319.52" y2="484.15" stroke="#2a2a2a" stroke-width="0.8"/>
<rect x="318.02" y="481.37" width="1.80" height="1.80" fill="#222"/>
<line x1="330.24" y1="467.87" x2="330.24" y2="474.13" stroke="#2a2a2a" stroke-width="0.9" stroke-dasharray="1.3,0.5"/>
<line x1="329.64" y1="467.87" x2="330.84" y2="467.87" stroke="#2a2a2a" stroke-width="0.8"/>
<line x1="329.64" y1="474.13" x2="330.84" y2="474.13" stroke="#2a2a2a" stroke-width="0.8"/>
<rect x="329.34" y="470.10" width="1.80" height="1.80" fill="#222"/>
<line x1="341.57" y1="451.60" x2="341.57" y2="459.11" stroke="#2a2a2a" stroke-width="0.9" stroke-dasharray="1.3,0.5"/>
<line x1="340.97" y1="451.60" x2="342.17" y2="451.60" stroke="#2a2a2a" stroke-width="0.8"/>
<line x1="340.97" y1="459.11" x2="342.17" y2="459.11" stroke="#2a2a2a" stroke-width="0.8"/>
<rect x="340.67" y="454.45" width="1.80" height="1.80" fill="#222"/>
<line x1="352.89" y1="440.33" x2="352.89" y2="449.09" stroke="#2a2a2a" stroke-width="0.9" stroke-dasharray="1.3,0.5"/>
<line x1="352.29" y1="440.33" x2="353.49" y2="440.33" stroke="#2a2a2a" stroke-width="0.8"/>
<line x1="352.29" y1="449.09" x2="353.49" y2="449.09" stroke="#2a2a2a" stroke-width="0.8"/>
<rect x="351.99" y="443.81" width="1.80" height="1.80" fill="#222"/>
<line x1="364.21" y1="439.08" x2="364.21" y2="449.09" stroke="#2a2a2a" stroke-width="0.9" stroke-dasharray="1.3,0.5"/>
<line x1="363.61" y1="439.08" x2="364.81" y2="439.08" stroke="#2a2a2a" stroke-width="0.8"/>
<line x1="363.61" y1="449.09" x2="364.81" y2="449.09" stroke="#2a2a2a" stroke-width="0.8"/>
<rect x="363.31" y="443.18" width="1.80" height="1.80" fill="#222"/>
<line x1="375.53" y1="439.08" x2="375.53" y2="449.09" stroke="#2a2a2a" stroke-width="0.9" stroke-dasharray="1.3,0.5"/>
<line x1="374.93" y1="439.08" x2="376.13" y2="439.08" stroke="#2a2a2a" stroke-width="0.8"/>
<line x1="374.93" y1="449.09" x2="376.13" y2="449.09" stroke="#2a2a2a" stroke-width="0.8"/>
<rect x="374.63" y="443.18" width="1.80" height="1.80" fill="#222"/>
<text x="391.00" y="314.20" font-size="11.5" stroke="#000" stroke-width="0.22" font-weight="bold" fill="#000">F</text>
<text x="465.50" y="330.00" font-size="10.49" stroke="#1a1a1a" stroke-width="0.22" text-anchor="middle" textLength="93.50" lengthAdjust="spacingAndGlyphs">0.0125 U/ml thrombin</text>
<rect x="397.30" y="350.60" width="1.30" height="5.80" fill="#1a1a1a"/>
<text x="464.20" y="344.60" font-size="8.24" stroke="#1a1a1a" stroke-width="0.22" text-anchor="middle" textLength="48.50" lengthAdjust="spacingAndGlyphs">Time (second)</text>
<text x="431.70" y="355.60" font-size="6.3" stroke="#1a1a1a" stroke-width="0.14" text-anchor="middle">0</text>
<text x="447.70" y="355.60" font-size="6.3" stroke="#1a1a1a" stroke-width="0.14" text-anchor="middle">100</text>
<text x="463.70" y="355.60" font-size="6.3" stroke="#1a1a1a" stroke-width="0.14" text-anchor="middle">200</text>
<text x="479.70" y="355.60" font-size="6.3" stroke="#1a1a1a" stroke-width="0.14" text-anchor="middle">300</text>
<text x="495.70" y="355.60" font-size="6.3" stroke="#1a1a1a" stroke-width="0.14" text-anchor="middle">400</text>
<line x1="431.20" y1="361.90" x2="499.10" y2="361.90" stroke="#1a1a1a" stroke-width="1.1"/>
<line x1="439.70" y1="360.30" x2="439.70" y2="361.90" stroke="#1a1a1a" stroke-width="0.8"/>
<line x1="447.70" y1="360.30" x2="447.70" y2="361.90" stroke="#1a1a1a" stroke-width="0.8"/>
<line x1="455.70" y1="360.30" x2="455.70" y2="361.90" stroke="#1a1a1a" stroke-width="0.8"/>
<line x1="463.70" y1="360.30" x2="463.70" y2="361.90" stroke="#1a1a1a" stroke-width="0.8"/>
<line x1="471.70" y1="360.30" x2="471.70" y2="361.90" stroke="#1a1a1a" stroke-width="0.8"/>
<line x1="479.70" y1="360.30" x2="479.70" y2="361.90" stroke="#1a1a1a" stroke-width="0.8"/>
<line x1="487.70" y1="360.30" x2="487.70" y2="361.90" stroke="#1a1a1a" stroke-width="0.8"/>
<line x1="495.70" y1="360.30" x2="495.70" y2="361.90" stroke="#1a1a1a" stroke-width="0.8"/>
<line x1="431.70" y1="361.40" x2="431.70" y2="416.60" stroke="#1a1a1a" stroke-width="1.1"/>
<line x1="429.50" y1="361.90" x2="431.70" y2="361.90" stroke="#1a1a1a" stroke-width="0.9"/>
<text x="426.40" y="364.15" font-size="6.3" stroke="#1a1a1a" stroke-width="0.14" text-anchor="end">0</text>
<line x1="429.50" y1="372.74" x2="431.70" y2="372.74" stroke="#1a1a1a" stroke-width="0.9"/>
<text x="426.40" y="374.99" font-size="6.3" stroke="#1a1a1a" stroke-width="0.14" text-anchor="end">20</text>
<line x1="429.50" y1="383.58" x2="431.70" y2="383.58" stroke="#1a1a1a" stroke-width="0.9"/>
<text x="426.40" y="385.83" font-size="6.3" stroke="#1a1a1a" stroke-width="0.14" text-anchor="end">40</text>
<line x1="429.50" y1="394.42" x2="431.70" y2="394.42" stroke="#1a1a1a" stroke-width="0.9"/>
<text x="426.40" y="396.67" font-size="6.3" stroke="#1a1a1a" stroke-width="0.14" text-anchor="end">60</text>
<line x1="429.50" y1="405.26" x2="431.70" y2="405.26" stroke="#1a1a1a" stroke-width="0.9"/>
<text x="426.40" y="407.51" font-size="6.3" stroke="#1a1a1a" stroke-width="0.14" text-anchor="end">80</text>
<line x1="429.50" y1="416.10" x2="431.70" y2="416.10" stroke="#1a1a1a" stroke-width="0.9"/>
<text x="426.40" y="418.35" font-size="6.3" stroke="#1a1a1a" stroke-width="0.14" text-anchor="end">100</text>
<text x="410.00" y="389.00" font-size="7.8" stroke="#1a1a1a" stroke-width="0.22" text-anchor="middle" textLength="63.50" lengthAdjust="spacingAndGlyphs" transform="rotate(-90 410.00 389.00)">Light transmission</text>
<rect x="431.70" y="361.90" width="1.00" height="4.00" fill="#9a9a9a"/>
<path d="M431.70,368.40 C431.97,368.04 432.82,366.96 433.30,366.24 C433.78,365.51 434.13,364.61 434.58,364.07 C435.03,363.53 434.71,362.62 436.02,362.98 C437.33,363.35 440.13,364.47 442.42,366.24 C444.71,368.00 447.35,370.86 449.78,373.55 C452.21,376.24 454.58,379.72 456.98,382.39 C459.38,385.05 462.26,388.01 464.18,389.54 C466.10,391.08 466.10,391.33 468.50,391.60 C470.90,391.87 473.99,391.42 478.58,391.17 C483.17,390.92 493.11,390.26 496.02,390.08" stroke="#b04a6a" stroke-width="1.4" fill="none"/>
<path d="M431.70,368.40 C431.97,368.04 432.82,366.96 433.30,366.24 C433.78,365.51 434.13,364.61 434.58,364.07 C435.03,363.53 434.82,362.49 436.02,362.98 C437.22,363.48 440.10,365.02 441.78,367.05 C443.46,369.08 444.66,372.15 446.10,375.18 C447.54,378.21 448.85,381.82 450.42,385.21 C451.99,388.59 453.49,392.66 455.54,395.50 C457.59,398.35 460.10,400.78 462.74,402.28 C465.38,403.78 467.54,403.91 471.38,404.50 C475.22,405.09 481.67,405.45 485.78,405.80 C489.89,406.15 494.31,406.48 496.02,406.62" stroke="#34405e" stroke-width="1.4" fill="none"/>
<line x1="466.30" y1="367.60" x2="469.30" y2="367.60" stroke="#333" stroke-width="0.9"/>
<text x="470.70" y="369.20" font-size="5.6" stroke="#333" stroke-width="0.14" fill="#333">WT</text>
<line x1="466.30" y1="374.90" x2="469.30" y2="374.90" stroke="#b04a6a" stroke-width="0.9"/>
<text x="470.70" y="376.50" font-size="5.6" stroke="#333" stroke-width="0.14" fill="#333">DREAM KO</text>
<line x1="431.10" y1="434.12" x2="431.10" y2="485.90" stroke="#1a1a1a" stroke-width="1.1"/>
<line x1="428.80" y1="485.40" x2="431.10" y2="485.40" stroke="#1a1a1a" stroke-width="0.9"/>
<text x="426.10" y="487.65" font-size="6.3" stroke="#1a1a1a" stroke-width="0.14" text-anchor="end">0</text>
<line x1="428.80" y1="475.38" x2="431.10" y2="475.38" stroke="#1a1a1a" stroke-width="0.9"/>
<text x="426.10" y="477.63" font-size="6.3" stroke="#1a1a1a" stroke-width="0.14" text-anchor="end">20</text>
<line x1="428.80" y1="465.37" x2="431.10" y2="465.37" stroke="#1a1a1a" stroke-width="0.9"/>
<text x="426.10" y="467.62" font-size="6.3" stroke="#1a1a1a" stroke-width="0.14" text-anchor="end">40</text>
<line x1="428.80" y1="455.35" x2="431.10" y2="455.35" stroke="#1a1a1a" stroke-width="0.9"/>
<text x="426.10" y="457.60" font-size="6.3" stroke="#1a1a1a" stroke-width="0.14" text-anchor="end">60</text>
<line x1="428.80" y1="445.34" x2="431.10" y2="445.34" stroke="#1a1a1a" stroke-width="0.9"/>
<text x="426.10" y="447.59" font-size="6.3" stroke="#1a1a1a" stroke-width="0.14" text-anchor="end">80</text>
<line x1="428.80" y1="435.32" x2="431.10" y2="435.32" stroke="#1a1a1a" stroke-width="0.9"/>
<text x="426.10" y="437.57" font-size="6.3" stroke="#1a1a1a" stroke-width="0.14" text-anchor="end">100</text>
<line x1="430.60" y1="485.40" x2="500.30" y2="485.40" stroke="#1a1a1a" stroke-width="1.1"/>
<line x1="431.10" y1="485.40" x2="431.10" y2="487.20" stroke="#1a1a1a" stroke-width="0.9"/>
<text x="432.90" y="494.00" font-size="6.9" stroke="#1a1a1a" stroke-width="0.2" text-anchor="end" transform="rotate(-45 432.90 494.00)">0</text>
<line x1="442.42" y1="485.40" x2="442.42" y2="487.20" stroke="#1a1a1a" stroke-width="0.9"/>
<text x="444.22" y="494.00" font-size="6.9" stroke="#1a1a1a" stroke-width="0.2" text-anchor="end" transform="rotate(-45 444.22 494.00)">60</text>
<line x1="453.74" y1="485.40" x2="453.74" y2="487.20" stroke="#1a1a1a" stroke-width="0.9"/>
<text x="455.54" y="494.00" font-size="6.9" stroke="#1a1a1a" stroke-width="0.2" text-anchor="end" transform="rotate(-45 455.54 494.00)">120</text>
<line x1="465.07" y1="485.40" x2="465.07" y2="487.20" stroke="#1a1a1a" stroke-width="0.9"/>
<text x="466.87" y="494.00" font-size="6.9" stroke="#1a1a1a" stroke-width="0.2" text-anchor="end" transform="rotate(-45 466.87 494.00)">180</text>
<line x1="476.39" y1="485.40" x2="476.39" y2="487.20" stroke="#1a1a1a" stroke-width="0.9"/>
<text x="478.19" y="494.00" font-size="6.9" stroke="#1a1a1a" stroke-width="0.2" text-anchor="end" transform="rotate(-45 478.19 494.00)">240</text>
<line x1="487.71" y1="485.40" x2="487.71" y2="487.20" stroke="#1a1a1a" stroke-width="0.9"/>
<text x="489.51" y="494.00" font-size="6.9" stroke="#1a1a1a" stroke-width="0.2" text-anchor="end" transform="rotate(-45 489.51 494.00)">300</text>
<line x1="499.03" y1="485.40" x2="499.03" y2="487.20" stroke="#1a1a1a" stroke-width="0.9"/>
<text x="500.83" y="494.00" font-size="6.9" stroke="#1a1a1a" stroke-width="0.2" text-anchor="end" transform="rotate(-45 500.83 494.00)">360</text>
<text x="466.57" y="511.40" font-size="8.24" stroke="#1a1a1a" stroke-width="0.22" text-anchor="middle" textLength="48.50" lengthAdjust="spacingAndGlyphs">Time (second)</text>
<text x="409.40" y="459.36" font-size="7.7" stroke="#1a1a1a" stroke-width="0.22" text-anchor="middle" textLength="57.00" lengthAdjust="spacingAndGlyphs" transform="rotate(-90 409.40 459.36)">Aggregation (%)</text>
<path d="M431.10,485.40 C432.99,484.90 438.65,483.56 442.42,482.40 C446.20,481.23 449.97,480.23 453.74,478.39 C457.52,476.55 461.29,472.96 465.07,471.38 C468.84,469.79 472.61,469.71 476.39,468.87 C480.16,468.04 483.94,466.79 487.71,466.37 C491.48,465.95 497.15,466.37 499.03,466.37" stroke="#a3304f" stroke-width="1.1" fill="none"/>
<rect x="430.20" y="484.50" width="1.80" height="1.80" fill="#222"/>
<line x1="442.42" y1="481.39" x2="442.42" y2="483.40" stroke="#2a2a2a" stroke-width="0.9" stroke-dasharray="1.3,0.5"/>
<line x1="441.82" y1="481.39" x2="443.02" y2="481.39" stroke="#2a2a2a" stroke-width="0.8"/>
<line x1="441.82" y1="483.40" x2="443.02" y2="483.40" stroke="#2a2a2a" stroke-width="0.8"/>
<rect x="441.52" y="481.50" width="1.80" height="1.80" fill="#222"/>
<line x1="453.74" y1="476.89" x2="453.74" y2="479.89" stroke="#2a2a2a" stroke-width="0.9" stroke-dasharray="1.3,0.5"/>
<line x1="453.14" y1="476.89" x2="454.34" y2="476.89" stroke="#2a2a2a" stroke-width="0.8"/>
<line x1="453.14" y1="479.89" x2="454.34" y2="479.89" stroke="#2a2a2a" stroke-width="0.8"/>
<rect x="452.84" y="477.49" width="1.80" height="1.80" fill="#222"/>
<line x1="465.07" y1="469.37" x2="465.07" y2="473.38" stroke="#2a2a2a" stroke-width="0.9" stroke-dasharray="1.3,0.5"/>
<line x1="464.47" y1="469.37" x2="465.67" y2="469.37" stroke="#2a2a2a" stroke-width="0.8"/>
<line x1="464.47" y1="473.38" x2="465.67" y2="473.38" stroke="#2a2a2a" stroke-width="0.8"/>
<rect x="464.17" y="470.48" width="1.80" height="1.80" fill="#222"/>
<line x1="476.39" y1="466.37" x2="476.39" y2="471.38" stroke="#2a2a2a" stroke-width="0.9" stroke-dasharray="1.3,0.5"/>
<line x1="475.79" y1="466.37" x2="476.99" y2="466.37" stroke="#2a2a2a" stroke-width="0.8"/>
<line x1="475.79" y1="471.38" x2="476.99" y2="471.38" stroke="#2a2a2a" stroke-width="0.8"/>
<rect x="475.49" y="467.97" width="1.80" height="1.80" fill="#222"/>
<line x1="487.71" y1="463.36" x2="487.71" y2="469.37" stroke="#2a2a2a" stroke-width="0.9" stroke-dasharray="1.3,0.5"/>
<line x1="487.11" y1="463.36" x2="488.31" y2="463.36" stroke="#2a2a2a" stroke-width="0.8"/>
<line x1="487.11" y1="469.37" x2="488.31" y2="469.37" stroke="#2a2a2a" stroke-width="0.8"/>
<rect x="486.81" y="465.47" width="1.80" height="1.80" fill="#222"/>
<line x1="499.03" y1="462.86" x2="499.03" y2="469.88" stroke="#2a2a2a" stroke-width="0.9" stroke-dasharray="1.3,0.5"/>
<line x1="498.43" y1="462.86" x2="499.63" y2="462.86" stroke="#2a2a2a" stroke-width="0.8"/>
<line x1="498.43" y1="469.88" x2="499.63" y2="469.88" stroke="#2a2a2a" stroke-width="0.8"/>
<rect x="498.13" y="465.47" width="1.80" height="1.80" fill="#222"/>
<path d="M431.10,485.40 C432.99,484.73 438.65,484.15 442.42,481.39 C446.20,478.64 449.97,472.46 453.74,468.87 C457.52,465.28 461.29,462.11 465.07,459.86 C468.84,457.61 472.61,456.52 476.39,455.35 C480.16,454.18 483.94,453.60 487.71,452.85 C491.48,452.10 497.15,451.18 499.03,450.84" stroke="#46506a" stroke-width="1.1" fill="none"/>
<rect x="430.20" y="484.50" width="1.80" height="1.80" fill="#222"/>
<line x1="442.42" y1="480.39" x2="442.42" y2="482.40" stroke="#2a2a2a" stroke-width="0.9" stroke-dasharray="1.3,0.5"/>
<line x1="441.82" y1="480.39" x2="443.02" y2="480.39" stroke="#2a2a2a" stroke-width="0.8"/>
<line x1="441.82" y1="482.40" x2="443.02" y2="482.40" stroke="#2a2a2a" stroke-width="0.8"/>
<rect x="441.52" y="480.49" width="1.80" height="1.80" fill="#222"/>
<line x1="453.74" y1="467.37" x2="453.74" y2="470.38" stroke="#2a2a2a" stroke-width="0.9" stroke-dasharray="1.3,0.5"/>
<line x1="453.14" y1="467.37" x2="454.34" y2="467.37" stroke="#2a2a2a" stroke-width="0.8"/>
<line x1="453.14" y1="470.38" x2="454.34" y2="470.38" stroke="#2a2a2a" stroke-width="0.8"/>
<rect x="452.84" y="467.97" width="1.80" height="1.80" fill="#222"/>
<line x1="465.07" y1="457.36" x2="465.07" y2="462.36" stroke="#2a2a2a" stroke-width="0.9" stroke-dasharray="1.3,0.5"/>
<line x1="464.47" y1="457.36" x2="465.67" y2="457.36" stroke="#2a2a2a" stroke-width="0.8"/>
<line x1="464.47" y1="462.36" x2="465.67" y2="462.36" stroke="#2a2a2a" stroke-width="0.8"/>
<rect x="464.17" y="458.96" width="1.80" height="1.80" fill="#222"/>
<line x1="476.39" y1="452.35" x2="476.39" y2="458.36" stroke="#2a2a2a" stroke-width="0.9" stroke-dasharray="1.3,0.5"/>
<line x1="475.79" y1="452.35" x2="476.99" y2="452.35" stroke="#2a2a2a" stroke-width="0.8"/>
<line x1="475.79" y1="458.36" x2="476.99" y2="458.36" stroke="#2a2a2a" stroke-width="0.8"/>
<rect x="475.49" y="454.45" width="1.80" height="1.80" fill="#222"/>
<line x1="487.71" y1="449.84" x2="487.71" y2="455.85" stroke="#2a2a2a" stroke-width="0.9" stroke-dasharray="1.3,0.5"/>
<line x1="487.11" y1="449.84" x2="488.31" y2="449.84" stroke="#2a2a2a" stroke-width="0.8"/>
<line x1="487.11" y1="455.85" x2="488.31" y2="455.85" stroke="#2a2a2a" stroke-width="0.8"/>
<rect x="486.81" y="451.95" width="1.80" height="1.80" fill="#222"/>
<line x1="499.03" y1="447.84" x2="499.03" y2="453.85" stroke="#2a2a2a" stroke-width="0.9" stroke-dasharray="1.3,0.5"/>
<line x1="498.43" y1="447.84" x2="499.63" y2="447.84" stroke="#2a2a2a" stroke-width="0.8"/>
<line x1="498.43" y1="453.85" x2="499.63" y2="453.85" stroke="#2a2a2a" stroke-width="0.8"/>
<rect x="498.13" y="449.94" width="1.80" height="1.80" fill="#222"/>
<rect x="396.00" y="524.40" width="1.30" height="5.80" fill="#1a1a1a"/>
<rect x="398.60" y="524.40" width="1.30" height="5.80" fill="#1a1a1a"/>
<line x1="430.10" y1="542.10" x2="430.10" y2="595.50" stroke="#1a1a1a" stroke-width="1.1"/>
<line x1="427.90" y1="595.00" x2="430.10" y2="595.00" stroke="#1a1a1a" stroke-width="0.9"/>
<text x="425.30" y="597.25" font-size="6.3" stroke="#1a1a1a" stroke-width="0.14" text-anchor="end">0</text>
<line x1="427.90" y1="569.30" x2="430.10" y2="569.30" stroke="#1a1a1a" stroke-width="0.9"/>
<text x="425.30" y="571.55" font-size="6.3" stroke="#1a1a1a" stroke-width="0.14" text-anchor="end">1</text>
<line x1="427.90" y1="543.60" x2="430.10" y2="543.60" stroke="#1a1a1a" stroke-width="0.9"/>
<text x="425.30" y="545.85" font-size="6.3" stroke="#1a1a1a" stroke-width="0.14" text-anchor="end">2</text>
<line x1="429.60" y1="595.00" x2="506.50" y2="595.00" stroke="#1a1a1a" stroke-width="1.1"/>
<line x1="431.50" y1="595.00" x2="431.50" y2="596.50" stroke="#1a1a1a" stroke-width="0.8"/>
<line x1="440.62" y1="595.00" x2="440.62" y2="596.50" stroke="#1a1a1a" stroke-width="0.8"/>
<line x1="449.75" y1="595.00" x2="449.75" y2="596.50" stroke="#1a1a1a" stroke-width="0.8"/>
<line x1="458.88" y1="595.00" x2="458.88" y2="596.50" stroke="#1a1a1a" stroke-width="0.8"/>
<line x1="468.00" y1="595.00" x2="468.00" y2="596.50" stroke="#1a1a1a" stroke-width="0.8"/>
<line x1="477.12" y1="595.00" x2="477.12" y2="596.50" stroke="#1a1a1a" stroke-width="0.8"/>
<line x1="486.25" y1="595.00" x2="486.25" y2="596.50" stroke="#1a1a1a" stroke-width="0.8"/>
<line x1="495.38" y1="595.00" x2="495.38" y2="596.50" stroke="#1a1a1a" stroke-width="0.8"/>
<line x1="504.50" y1="595.00" x2="504.50" y2="596.50" stroke="#1a1a1a" stroke-width="0.8"/>
<text x="431.50" y="605.20" font-size="6.3" stroke="#1a1a1a" stroke-width="0.14" text-anchor="middle">0</text>
<text x="449.75" y="605.20" font-size="6.3" stroke="#1a1a1a" stroke-width="0.14" text-anchor="middle">100</text>
<text x="468.00" y="605.20" font-size="6.3" stroke="#1a1a1a" stroke-width="0.14" text-anchor="middle">200</text>
<text x="486.25" y="605.20" font-size="6.3" stroke="#1a1a1a" stroke-width="0.14" text-anchor="middle">300</text>
<text x="504.50" y="605.20" font-size="6.3" stroke="#1a1a1a" stroke-width="0.14" text-anchor="middle">400</text>
<text x="468.50" y="616.60" font-size="8.24" stroke="#1a1a1a" stroke-width="0.22" text-anchor="middle" textLength="48.50" lengthAdjust="spacingAndGlyphs">Time (second)</text>
<text x="417.90" y="568.01" font-size="7.7" stroke="#1a1a1a" stroke-width="0.22" text-anchor="middle" textLength="72.00" lengthAdjust="spacingAndGlyphs" transform="rotate(-90 417.90 568.01)">ATP secretion (nmol)</text>
<path d="M431.50,594.49 C432.26,594.44 434.54,594.57 436.06,594.23 C437.58,593.89 438.34,592.82 440.62,592.43 C442.91,592.04 445.19,591.92 449.75,591.92 C454.31,591.92 458.72,592.26 468.00,592.43 C477.28,592.60 499.18,592.86 505.41,592.94" stroke="#a3506e" stroke-width="1.0" fill="none"/>
<path d="M431.50,594.49 C432.26,594.44 434.24,595.21 436.06,594.23 C437.89,593.24 440.17,589.86 442.45,588.58 C444.73,587.29 447.01,586.86 449.75,586.52 C452.49,586.18 454.31,586.39 458.88,586.52 C463.44,586.65 469.37,587.03 477.12,587.29 C484.88,587.55 500.70,587.93 505.41,588.06" stroke="#4a5a80" stroke-width="1.0" fill="none"/>
<line x1="431.10" y1="637.50" x2="431.10" y2="683.90" stroke="#1a1a1a" stroke-width="1.1"/>
<line x1="429.10" y1="683.40" x2="431.10" y2="683.40" stroke="#1a1a1a" stroke-width="0.9"/>
<text x="426.50" y="685.40" font-size="5.6" stroke="#1a1a1a" stroke-width="0.14" text-anchor="end">0</text>
<line x1="429.10" y1="676.00" x2="431.10" y2="676.00" stroke="#1a1a1a" stroke-width="0.9"/>
<text x="426.50" y="678.00" font-size="5.6" stroke="#1a1a1a" stroke-width="0.14" text-anchor="end">20</text>
<line x1="429.10" y1="668.60" x2="431.10" y2="668.60" stroke="#1a1a1a" stroke-width="0.9"/>
<text x="426.50" y="670.60" font-size="5.6" stroke="#1a1a1a" stroke-width="0.14" text-anchor="end">40</text>
<line x1="429.10" y1="661.20" x2="431.10" y2="661.20" stroke="#1a1a1a" stroke-width="0.9"/>
<text x="426.50" y="663.20" font-size="5.6" stroke="#1a1a1a" stroke-width="0.14" text-anchor="end">60</text>
<line x1="429.10" y1="653.80" x2="431.10" y2="653.80" stroke="#1a1a1a" stroke-width="0.9"/>
<text x="426.50" y="655.80" font-size="5.6" stroke="#1a1a1a" stroke-width="0.14" text-anchor="end">80</text>
<line x1="429.10" y1="646.40" x2="431.10" y2="646.40" stroke="#1a1a1a" stroke-width="0.9"/>
<text x="426.50" y="648.40" font-size="5.6" stroke="#1a1a1a" stroke-width="0.14" text-anchor="end">100</text>
<line x1="429.10" y1="639.00" x2="431.10" y2="639.00" stroke="#1a1a1a" stroke-width="0.9"/>
<text x="426.50" y="641.00" font-size="5.6" stroke="#1a1a1a" stroke-width="0.14" text-anchor="end">120</text>
<rect x="437.40" y="647.44" width="21.90" height="35.96" fill="#2c4d8e" stroke="#1c2a52" stroke-width="0.7"/>
<rect x="470.80" y="668.90" width="21.90" height="14.50" fill="#b3173d" stroke="#6a0c24" stroke-width="0.7"/>
<line x1="430.60" y1="683.40" x2="497.50" y2="683.40" stroke="#1a1a1a" stroke-width="1.2"/>
<line x1="448.35" y1="683.40" x2="448.35" y2="685.00" stroke="#1a1a1a" stroke-width="0.8"/>
<line x1="481.75" y1="683.40" x2="481.75" y2="685.00" stroke="#1a1a1a" stroke-width="0.8"/>
<circle cx="443.05" cy="646.40" r="1.85" fill="#c4c6d0" stroke="#222" stroke-width="0.75"/>
<circle cx="448.35" cy="646.40" r="1.85" fill="#c4c6d0" stroke="#222" stroke-width="0.75"/>
<circle cx="453.65" cy="646.40" r="1.85" fill="#c4c6d0" stroke="#222" stroke-width="0.75"/>
<circle cx="476.45" cy="666.53" r="1.8" fill="#d8c8cc" stroke="#333" stroke-width="0.7" fill-opacity="0.6"/>
<circle cx="481.75" cy="668.97" r="1.8" fill="#d8c8cc" stroke="#333" stroke-width="0.7" fill-opacity="0.6"/>
<circle cx="487.45" cy="666.53" r="1.8" fill="#d8c8cc" stroke="#333" stroke-width="0.7" fill-opacity="0.6"/>
<text x="481.75" y="665.40" font-size="7.5" stroke="#1a1a1a" stroke-width="0.22" text-anchor="middle" font-weight="bold">***</text>
<text x="448.35" y="693.60" font-size="6.3" stroke="#1a1a1a" stroke-width="0.14" text-anchor="middle">WT</text>
<text x="481.75" y="693.60" font-size="6.3" stroke="#1a1a1a" stroke-width="0.14" text-anchor="middle" textLength="33.40" lengthAdjust="spacingAndGlyphs">DREAM KO</text>
<text x="410.30" y="659.60" font-size="7.7" stroke="#1a1a1a" stroke-width="0.22" text-anchor="middle" textLength="63.00" lengthAdjust="spacingAndGlyphs" transform="rotate(-90 410.30 659.60)">ATP secretion (%)</text>
<text x="7.50" y="718.20" font-size="11.5" stroke="#000" stroke-width="0.22" font-weight="bold" fill="#000">G</text>
<text x="83.20" y="733.80" font-size="10.49" stroke="#1a1a1a" stroke-width="0.22" text-anchor="middle" textLength="72.50" lengthAdjust="spacingAndGlyphs">0.25 µM U46619</text>
<rect x="14.00" y="754.50" width="1.30" height="5.80" fill="#1a1a1a"/>
<text x="83.20" y="749.00" font-size="8.24" stroke="#1a1a1a" stroke-width="0.22" text-anchor="middle" textLength="48.50" lengthAdjust="spacingAndGlyphs">Time (second)</text>
<text x="48.10" y="759.00" font-size="6.3" stroke="#1a1a1a" stroke-width="0.14" text-anchor="middle">0</text>
<text x="64.80" y="759.00" font-size="6.3" stroke="#1a1a1a" stroke-width="0.14" text-anchor="middle">100</text>
<text x="81.50" y="759.00" font-size="6.3" stroke="#1a1a1a" stroke-width="0.14" text-anchor="middle">200</text>
<text x="98.20" y="759.00" font-size="6.3" stroke="#1a1a1a" stroke-width="0.14" text-anchor="middle">300</text>
<text x="114.90" y="759.00" font-size="6.3" stroke="#1a1a1a" stroke-width="0.14" text-anchor="middle">400</text>
<line x1="47.60" y1="765.60" x2="118.30" y2="765.60" stroke="#1a1a1a" stroke-width="1.1"/>
<line x1="56.45" y1="764.00" x2="56.45" y2="765.60" stroke="#1a1a1a" stroke-width="0.8"/>
<line x1="64.80" y1="764.00" x2="64.80" y2="765.60" stroke="#1a1a1a" stroke-width="0.8"/>
<line x1="73.15" y1="764.00" x2="73.15" y2="765.60" stroke="#1a1a1a" stroke-width="0.8"/>
<line x1="81.50" y1="764.00" x2="81.50" y2="765.60" stroke="#1a1a1a" stroke-width="0.8"/>
<line x1="89.85" y1="764.00" x2="89.85" y2="765.60" stroke="#1a1a1a" stroke-width="0.8"/>
<line x1="98.20" y1="764.00" x2="98.20" y2="765.60" stroke="#1a1a1a" stroke-width="0.8"/>
<line x1="106.55" y1="764.00" x2="106.55" y2="765.60" stroke="#1a1a1a" stroke-width="0.8"/>
<line x1="114.90" y1="764.00" x2="114.90" y2="765.60" stroke="#1a1a1a" stroke-width="0.8"/>
<line x1="48.10" y1="765.10" x2="48.10" y2="821.06" stroke="#1a1a1a" stroke-width="1.1"/>
<line x1="45.90" y1="765.60" x2="48.10" y2="765.60" stroke="#1a1a1a" stroke-width="0.9"/>
<text x="42.80" y="767.85" font-size="6.3" stroke="#1a1a1a" stroke-width="0.14" text-anchor="end">0</text>
<line x1="45.90" y1="774.76" x2="48.10" y2="774.76" stroke="#1a1a1a" stroke-width="0.9"/>
<text x="42.80" y="777.01" font-size="6.3" stroke="#1a1a1a" stroke-width="0.14" text-anchor="end">20</text>
<line x1="45.90" y1="783.92" x2="48.10" y2="783.92" stroke="#1a1a1a" stroke-width="0.9"/>
<text x="42.80" y="786.17" font-size="6.3" stroke="#1a1a1a" stroke-width="0.14" text-anchor="end">40</text>
<line x1="45.90" y1="793.08" x2="48.10" y2="793.08" stroke="#1a1a1a" stroke-width="0.9"/>
<text x="42.80" y="795.33" font-size="6.3" stroke="#1a1a1a" stroke-width="0.14" text-anchor="end">60</text>
<line x1="45.90" y1="802.24" x2="48.10" y2="802.24" stroke="#1a1a1a" stroke-width="0.9"/>
<text x="42.80" y="804.49" font-size="6.3" stroke="#1a1a1a" stroke-width="0.14" text-anchor="end">80</text>
<line x1="45.90" y1="811.40" x2="48.10" y2="811.40" stroke="#1a1a1a" stroke-width="0.9"/>
<text x="42.80" y="813.65" font-size="6.3" stroke="#1a1a1a" stroke-width="0.14" text-anchor="end">100</text>
<line x1="45.90" y1="820.56" x2="48.10" y2="820.56" stroke="#1a1a1a" stroke-width="0.9"/>
<text x="42.80" y="822.81" font-size="6.3" stroke="#1a1a1a" stroke-width="0.14" text-anchor="end">120</text>
<text x="29.30" y="793.08" font-size="7.8" stroke="#1a1a1a" stroke-width="0.22" text-anchor="middle" textLength="63.50" lengthAdjust="spacingAndGlyphs" transform="rotate(-90 29.30 793.08)">Light transmission</text>
<path d="M48.10,771.33 C49.16,771.33 53.36,772.00 54.45,771.33 C55.53,770.65 54.00,767.97 54.61,767.29 C55.23,766.62 56.92,765.85 58.12,767.29 C59.32,768.74 60.46,773.08 61.79,775.95 C63.13,778.82 64.38,781.40 66.14,784.52 C67.89,787.63 70.06,791.87 72.31,794.64 C74.57,797.41 76.96,799.26 79.66,801.14 C82.36,803.02 84.53,804.59 88.51,805.90 C92.49,807.22 99.06,808.26 103.54,809.02 C108.03,809.78 113.42,810.24 115.40,810.48" stroke="#5a6888" stroke-width="1.1" fill="none"/>
<path d="M48.10,771.33 C49.16,771.33 53.36,772.00 54.45,771.33 C55.53,770.65 54.00,767.97 54.61,767.29 C55.23,766.62 56.98,766.81 58.12,767.29 C59.26,767.78 60.12,768.98 61.46,770.18 C62.80,771.38 64.13,772.96 66.14,774.49 C68.14,776.01 70.26,777.69 73.48,779.34 C76.71,780.99 82.50,783.16 85.51,784.38 C88.51,785.60 88.51,785.32 91.52,786.67 C94.53,788.02 99.56,790.73 103.54,792.48 C107.52,794.24 113.42,796.42 115.40,797.20" stroke="#8a2446" stroke-width="1.9" fill="none"/>
<line x1="84.90" y1="770.60" x2="87.90" y2="770.60" stroke="#333" stroke-width="0.9"/>
<text x="89.30" y="772.20" font-size="5.6" stroke="#333" stroke-width="0.14" fill="#333">WT</text>
<line x1="84.90" y1="777.90" x2="87.90" y2="777.90" stroke="#8a2446" stroke-width="0.9"/>
<text x="89.30" y="779.50" font-size="5.6" stroke="#333" stroke-width="0.14" fill="#333">DREAM KO</text>
<line x1="48.50" y1="837.45" x2="48.50" y2="889.90" stroke="#1a1a1a" stroke-width="1.1"/>
<line x1="46.20" y1="889.40" x2="48.50" y2="889.40" stroke="#1a1a1a" stroke-width="0.9"/>
<text x="43.50" y="891.65" font-size="6.3" stroke="#1a1a1a" stroke-width="0.14" text-anchor="end">0</text>
<line x1="46.20" y1="879.25" x2="48.50" y2="879.25" stroke="#1a1a1a" stroke-width="0.9"/>
<text x="43.50" y="881.50" font-size="6.3" stroke="#1a1a1a" stroke-width="0.14" text-anchor="end">20</text>
<line x1="46.20" y1="869.10" x2="48.50" y2="869.10" stroke="#1a1a1a" stroke-width="0.9"/>
<text x="43.50" y="871.35" font-size="6.3" stroke="#1a1a1a" stroke-width="0.14" text-anchor="end">40</text>
<line x1="46.20" y1="858.95" x2="48.50" y2="858.95" stroke="#1a1a1a" stroke-width="0.9"/>
<text x="43.50" y="861.20" font-size="6.3" stroke="#1a1a1a" stroke-width="0.14" text-anchor="end">60</text>
<line x1="46.20" y1="848.80" x2="48.50" y2="848.80" stroke="#1a1a1a" stroke-width="0.9"/>
<text x="43.50" y="851.05" font-size="6.3" stroke="#1a1a1a" stroke-width="0.14" text-anchor="end">80</text>
<line x1="46.20" y1="838.65" x2="48.50" y2="838.65" stroke="#1a1a1a" stroke-width="0.9"/>
<text x="43.50" y="840.90" font-size="6.3" stroke="#1a1a1a" stroke-width="0.14" text-anchor="end">100</text>
<line x1="48.00" y1="889.40" x2="118.00" y2="889.40" stroke="#1a1a1a" stroke-width="1.1"/>
<line x1="48.50" y1="889.40" x2="48.50" y2="891.20" stroke="#1a1a1a" stroke-width="0.9"/>
<text x="50.30" y="898.00" font-size="6.9" stroke="#1a1a1a" stroke-width="0.2" text-anchor="end" transform="rotate(-45 50.30 898.00)">0</text>
<line x1="59.75" y1="889.40" x2="59.75" y2="891.20" stroke="#1a1a1a" stroke-width="0.9"/>
<text x="61.55" y="898.00" font-size="6.9" stroke="#1a1a1a" stroke-width="0.2" text-anchor="end" transform="rotate(-45 61.55 898.00)">60</text>
<line x1="71.00" y1="889.40" x2="71.00" y2="891.20" stroke="#1a1a1a" stroke-width="0.9"/>
<text x="72.80" y="898.00" font-size="6.9" stroke="#1a1a1a" stroke-width="0.2" text-anchor="end" transform="rotate(-45 72.80 898.00)">120</text>
<line x1="82.25" y1="889.40" x2="82.25" y2="891.20" stroke="#1a1a1a" stroke-width="0.9"/>
<text x="84.05" y="898.00" font-size="6.9" stroke="#1a1a1a" stroke-width="0.2" text-anchor="end" transform="rotate(-45 84.05 898.00)">180</text>
<line x1="93.50" y1="889.40" x2="93.50" y2="891.20" stroke="#1a1a1a" stroke-width="0.9"/>
<text x="95.30" y="898.00" font-size="6.9" stroke="#1a1a1a" stroke-width="0.2" text-anchor="end" transform="rotate(-45 95.30 898.00)">240</text>
<line x1="104.75" y1="889.40" x2="104.75" y2="891.20" stroke="#1a1a1a" stroke-width="0.9"/>
<text x="106.55" y="898.00" font-size="6.9" stroke="#1a1a1a" stroke-width="0.2" text-anchor="end" transform="rotate(-45 106.55 898.00)">300</text>
<line x1="116.00" y1="889.40" x2="116.00" y2="891.20" stroke="#1a1a1a" stroke-width="0.9"/>
<text x="117.80" y="898.00" font-size="6.9" stroke="#1a1a1a" stroke-width="0.2" text-anchor="end" transform="rotate(-45 117.80 898.00)">360</text>
<text x="83.75" y="915.40" font-size="8.24" stroke="#1a1a1a" stroke-width="0.22" text-anchor="middle" textLength="48.50" lengthAdjust="spacingAndGlyphs">Time (second)</text>
<text x="28.00" y="863.02" font-size="7.7" stroke="#1a1a1a" stroke-width="0.22" text-anchor="middle" textLength="57.00" lengthAdjust="spacingAndGlyphs" transform="rotate(-90 28.00 863.02)">Aggregation (%)</text>
<path d="M48.50,889.40 C50.38,888.72 56.00,886.36 59.75,885.34 C63.50,884.33 67.25,884.32 71.00,883.31 C74.75,882.29 78.50,880.94 82.25,879.25 C86.00,877.56 89.75,875.27 93.50,873.16 C97.25,871.05 101.00,867.83 104.75,866.56 C108.50,865.29 114.12,865.72 116.00,865.55" stroke="#a3304f" stroke-width="1.1" fill="none"/>
<rect x="47.60" y="888.50" width="1.80" height="1.80" fill="#222"/>
<line x1="59.75" y1="883.82" x2="59.75" y2="886.86" stroke="#2a2a2a" stroke-width="0.9" stroke-dasharray="1.3,0.5"/>
<line x1="59.15" y1="883.82" x2="60.35" y2="883.82" stroke="#2a2a2a" stroke-width="0.8"/>
<line x1="59.15" y1="886.86" x2="60.35" y2="886.86" stroke="#2a2a2a" stroke-width="0.8"/>
<rect x="58.85" y="884.44" width="1.80" height="1.80" fill="#222"/>
<line x1="71.00" y1="881.28" x2="71.00" y2="885.34" stroke="#2a2a2a" stroke-width="0.9" stroke-dasharray="1.3,0.5"/>
<line x1="70.40" y1="881.28" x2="71.60" y2="881.28" stroke="#2a2a2a" stroke-width="0.8"/>
<line x1="70.40" y1="885.34" x2="71.60" y2="885.34" stroke="#2a2a2a" stroke-width="0.8"/>
<rect x="70.10" y="882.41" width="1.80" height="1.80" fill="#222"/>
<line x1="82.25" y1="877.73" x2="82.25" y2="880.77" stroke="#2a2a2a" stroke-width="0.9" stroke-dasharray="1.3,0.5"/>
<line x1="81.65" y1="877.73" x2="82.85" y2="877.73" stroke="#2a2a2a" stroke-width="0.8"/>
<line x1="81.65" y1="880.77" x2="82.85" y2="880.77" stroke="#2a2a2a" stroke-width="0.8"/>
<rect x="81.35" y="878.35" width="1.80" height="1.80" fill="#222"/>
<line x1="93.50" y1="870.62" x2="93.50" y2="875.70" stroke="#2a2a2a" stroke-width="0.9" stroke-dasharray="1.3,0.5"/>
<line x1="92.90" y1="870.62" x2="94.10" y2="870.62" stroke="#2a2a2a" stroke-width="0.8"/>
<line x1="92.90" y1="875.70" x2="94.10" y2="875.70" stroke="#2a2a2a" stroke-width="0.8"/>
<rect x="92.60" y="872.26" width="1.80" height="1.80" fill="#222"/>
<line x1="104.75" y1="863.52" x2="104.75" y2="869.61" stroke="#2a2a2a" stroke-width="0.9" stroke-dasharray="1.3,0.5"/>
<line x1="104.15" y1="863.52" x2="105.35" y2="863.52" stroke="#2a2a2a" stroke-width="0.8"/>
<line x1="104.15" y1="869.61" x2="105.35" y2="869.61" stroke="#2a2a2a" stroke-width="0.8"/>
<rect x="103.85" y="865.66" width="1.80" height="1.80" fill="#222"/>
<line x1="116.00" y1="862.50" x2="116.00" y2="868.59" stroke="#2a2a2a" stroke-width="0.9" stroke-dasharray="1.3,0.5"/>
<line x1="115.40" y1="862.50" x2="116.60" y2="862.50" stroke="#2a2a2a" stroke-width="0.8"/>
<line x1="115.40" y1="868.59" x2="116.60" y2="868.59" stroke="#2a2a2a" stroke-width="0.8"/>
<rect x="115.10" y="864.65" width="1.80" height="1.80" fill="#222"/>
<path d="M48.50,889.40 C50.38,888.13 56.00,885.51 59.75,881.79 C63.50,878.07 67.25,871.55 71.00,867.07 C74.75,862.59 78.50,857.51 82.25,854.89 C86.00,852.27 89.75,852.52 93.50,851.34 C97.25,850.15 101.00,848.63 104.75,847.78 C108.50,846.94 114.12,846.52 116.00,846.26" stroke="#46506a" stroke-width="1.1" fill="none"/>
<rect x="47.60" y="888.50" width="1.80" height="1.80" fill="#222"/>
<line x1="59.75" y1="879.76" x2="59.75" y2="883.82" stroke="#2a2a2a" stroke-width="0.9" stroke-dasharray="1.3,0.5"/>
<line x1="59.15" y1="879.76" x2="60.35" y2="879.76" stroke="#2a2a2a" stroke-width="0.8"/>
<line x1="59.15" y1="883.82" x2="60.35" y2="883.82" stroke="#2a2a2a" stroke-width="0.8"/>
<rect x="58.85" y="880.89" width="1.80" height="1.80" fill="#222"/>
<line x1="71.00" y1="865.04" x2="71.00" y2="869.10" stroke="#2a2a2a" stroke-width="0.9" stroke-dasharray="1.3,0.5"/>
<line x1="70.40" y1="865.04" x2="71.60" y2="865.04" stroke="#2a2a2a" stroke-width="0.8"/>
<line x1="70.40" y1="869.10" x2="71.60" y2="869.10" stroke="#2a2a2a" stroke-width="0.8"/>
<rect x="70.10" y="866.17" width="1.80" height="1.80" fill="#222"/>
<line x1="82.25" y1="852.86" x2="82.25" y2="856.92" stroke="#2a2a2a" stroke-width="0.9" stroke-dasharray="1.3,0.5"/>
<line x1="81.65" y1="852.86" x2="82.85" y2="852.86" stroke="#2a2a2a" stroke-width="0.8"/>
<line x1="81.65" y1="856.92" x2="82.85" y2="856.92" stroke="#2a2a2a" stroke-width="0.8"/>
<rect x="81.35" y="853.99" width="1.80" height="1.80" fill="#222"/>
<line x1="93.50" y1="848.80" x2="93.50" y2="853.88" stroke="#2a2a2a" stroke-width="0.9" stroke-dasharray="1.3,0.5"/>
<line x1="92.90" y1="848.80" x2="94.10" y2="848.80" stroke="#2a2a2a" stroke-width="0.8"/>
<line x1="92.90" y1="853.88" x2="94.10" y2="853.88" stroke="#2a2a2a" stroke-width="0.8"/>
<rect x="92.60" y="850.44" width="1.80" height="1.80" fill="#222"/>
<line x1="104.75" y1="844.74" x2="104.75" y2="850.83" stroke="#2a2a2a" stroke-width="0.9" stroke-dasharray="1.3,0.5"/>
<line x1="104.15" y1="844.74" x2="105.35" y2="844.74" stroke="#2a2a2a" stroke-width="0.8"/>
<line x1="104.15" y1="850.83" x2="105.35" y2="850.83" stroke="#2a2a2a" stroke-width="0.8"/>
<rect x="103.85" y="846.88" width="1.80" height="1.80" fill="#222"/>
<line x1="116.00" y1="843.22" x2="116.00" y2="849.31" stroke="#2a2a2a" stroke-width="0.9" stroke-dasharray="1.3,0.5"/>
<line x1="115.40" y1="843.22" x2="116.60" y2="843.22" stroke="#2a2a2a" stroke-width="0.8"/>
<line x1="115.40" y1="849.31" x2="116.60" y2="849.31" stroke="#2a2a2a" stroke-width="0.8"/>
<rect x="115.10" y="845.36" width="1.80" height="1.80" fill="#222"/>
<rect x="13.00" y="929.00" width="1.30" height="5.80" fill="#1a1a1a"/>
<rect x="15.60" y="929.00" width="1.30" height="5.80" fill="#1a1a1a"/>
<line x1="47.50" y1="945.90" x2="47.50" y2="998.70" stroke="#1a1a1a" stroke-width="1.1"/>
<line x1="45.30" y1="998.20" x2="47.50" y2="998.20" stroke="#1a1a1a" stroke-width="0.9"/>
<text x="42.70" y="1000.45" font-size="6.3" stroke="#1a1a1a" stroke-width="0.14" text-anchor="end">0</text>
<line x1="45.30" y1="972.80" x2="47.50" y2="972.80" stroke="#1a1a1a" stroke-width="0.9"/>
<text x="42.70" y="975.05" font-size="6.3" stroke="#1a1a1a" stroke-width="0.14" text-anchor="end">1</text>
<line x1="45.30" y1="947.40" x2="47.50" y2="947.40" stroke="#1a1a1a" stroke-width="0.9"/>
<text x="42.70" y="949.65" font-size="6.3" stroke="#1a1a1a" stroke-width="0.14" text-anchor="end">2</text>
<line x1="47.00" y1="998.20" x2="122.00" y2="998.20" stroke="#1a1a1a" stroke-width="1.1"/>
<line x1="48.30" y1="998.20" x2="48.30" y2="999.70" stroke="#1a1a1a" stroke-width="0.8"/>
<line x1="57.42" y1="998.20" x2="57.42" y2="999.70" stroke="#1a1a1a" stroke-width="0.8"/>
<line x1="66.55" y1="998.20" x2="66.55" y2="999.70" stroke="#1a1a1a" stroke-width="0.8"/>
<line x1="75.67" y1="998.20" x2="75.67" y2="999.70" stroke="#1a1a1a" stroke-width="0.8"/>
<line x1="84.80" y1="998.20" x2="84.80" y2="999.70" stroke="#1a1a1a" stroke-width="0.8"/>
<line x1="93.92" y1="998.20" x2="93.92" y2="999.70" stroke="#1a1a1a" stroke-width="0.8"/>
<line x1="103.05" y1="998.20" x2="103.05" y2="999.70" stroke="#1a1a1a" stroke-width="0.8"/>
<line x1="112.17" y1="998.20" x2="112.17" y2="999.70" stroke="#1a1a1a" stroke-width="0.8"/>
<line x1="121.30" y1="998.20" x2="121.30" y2="999.70" stroke="#1a1a1a" stroke-width="0.8"/>
<text x="48.30" y="1008.80" font-size="6.3" stroke="#1a1a1a" stroke-width="0.14" text-anchor="middle">0</text>
<text x="66.55" y="1008.80" font-size="6.3" stroke="#1a1a1a" stroke-width="0.14" text-anchor="middle">100</text>
<text x="84.80" y="1008.80" font-size="6.3" stroke="#1a1a1a" stroke-width="0.14" text-anchor="middle">200</text>
<text x="103.05" y="1008.80" font-size="6.3" stroke="#1a1a1a" stroke-width="0.14" text-anchor="middle">300</text>
<text x="121.30" y="1008.80" font-size="6.3" stroke="#1a1a1a" stroke-width="0.14" text-anchor="middle">400</text>
<text x="85.30" y="1021.20" font-size="8.24" stroke="#1a1a1a" stroke-width="0.22" text-anchor="middle" textLength="48.50" lengthAdjust="spacingAndGlyphs">Time (second)</text>
<text x="34.00" y="971.53" font-size="7.7" stroke="#1a1a1a" stroke-width="0.22" text-anchor="middle" textLength="72.00" lengthAdjust="spacingAndGlyphs" transform="rotate(-90 34.00 971.53)">ATP secretion (nmol)</text>
<path d="M48.30,996.17 L55.23,996.17 L55.51,989.82 L59.25,991.09 L66.55,992.36 L84.80,993.37 L103.05,993.88 L122.21,993.88" stroke="#a3506e" stroke-width="1.0" fill="none"/>
<path d="M48.30,996.17 L55.23,996.17 L55.51,984.23 L59.25,986.77 L62.90,988.29 L70.20,989.82 L84.80,991.09 L103.05,991.85 L122.21,992.10" stroke="#4a5a80" stroke-width="1.0" fill="none"/>
<line x1="47.50" y1="1039.80" x2="47.50" y2="1088.00" stroke="#1a1a1a" stroke-width="1.1"/>
<line x1="45.50" y1="1087.50" x2="47.50" y2="1087.50" stroke="#1a1a1a" stroke-width="0.9"/>
<text x="42.90" y="1089.50" font-size="5.6" stroke="#1a1a1a" stroke-width="0.14" text-anchor="end">0</text>
<line x1="45.50" y1="1079.80" x2="47.50" y2="1079.80" stroke="#1a1a1a" stroke-width="0.9"/>
<text x="42.90" y="1081.80" font-size="5.6" stroke="#1a1a1a" stroke-width="0.14" text-anchor="end">20</text>
<line x1="45.50" y1="1072.10" x2="47.50" y2="1072.10" stroke="#1a1a1a" stroke-width="0.9"/>
<text x="42.90" y="1074.10" font-size="5.6" stroke="#1a1a1a" stroke-width="0.14" text-anchor="end">40</text>
<line x1="45.50" y1="1064.40" x2="47.50" y2="1064.40" stroke="#1a1a1a" stroke-width="0.9"/>
<text x="42.90" y="1066.40" font-size="5.6" stroke="#1a1a1a" stroke-width="0.14" text-anchor="end">60</text>
<line x1="45.50" y1="1056.70" x2="47.50" y2="1056.70" stroke="#1a1a1a" stroke-width="0.9"/>
<text x="42.90" y="1058.70" font-size="5.6" stroke="#1a1a1a" stroke-width="0.14" text-anchor="end">80</text>
<line x1="45.50" y1="1049.00" x2="47.50" y2="1049.00" stroke="#1a1a1a" stroke-width="0.9"/>
<text x="42.90" y="1051.00" font-size="5.6" stroke="#1a1a1a" stroke-width="0.14" text-anchor="end">100</text>
<line x1="45.50" y1="1041.30" x2="47.50" y2="1041.30" stroke="#1a1a1a" stroke-width="0.9"/>
<text x="42.90" y="1043.30" font-size="5.6" stroke="#1a1a1a" stroke-width="0.14" text-anchor="end">120</text>
<rect x="54.10" y="1050.07" width="21.90" height="37.43" fill="#2c4d8e" stroke="#1c2a52" stroke-width="0.7"/>
<rect x="87.80" y="1066.62" width="21.90" height="20.88" fill="#b3173d" stroke="#6a0c24" stroke-width="0.7"/>
<line x1="47.00" y1="1087.50" x2="114.00" y2="1087.50" stroke="#1a1a1a" stroke-width="1.2"/>
<line x1="65.05" y1="1087.50" x2="65.05" y2="1089.10" stroke="#1a1a1a" stroke-width="0.8"/>
<line x1="98.75" y1="1087.50" x2="98.75" y2="1089.10" stroke="#1a1a1a" stroke-width="0.8"/>
<circle cx="59.75" cy="1049.00" r="1.85" fill="#c4c6d0" stroke="#222" stroke-width="0.75"/>
<circle cx="65.05" cy="1049.00" r="1.85" fill="#c4c6d0" stroke="#222" stroke-width="0.75"/>
<circle cx="70.35" cy="1049.00" r="1.85" fill="#c4c6d0" stroke="#222" stroke-width="0.75"/>
<circle cx="97.75" cy="1070.17" r="1.8" fill="#d8c8cc" stroke="#333" stroke-width="0.7" fill-opacity="0.6"/>
<rect x="97.05" y="1060.12" width="3.4" height="3.4" fill="#d8c8cc" stroke="#333" stroke-width="0.7"/>
<circle cx="101.55" cy="1065.56" r="1.8" fill="#d8c8cc" stroke="#333" stroke-width="0.7" fill-opacity="0.6"/>
<text x="98.75" y="1059.50" font-size="7.5" stroke="#1a1a1a" stroke-width="0.22" text-anchor="middle" font-weight="bold">**</text>
<text x="65.05" y="1097.60" font-size="6.3" stroke="#1a1a1a" stroke-width="0.14" text-anchor="middle">WT</text>
<text x="98.75" y="1097.60" font-size="6.3" stroke="#1a1a1a" stroke-width="0.14" text-anchor="middle" textLength="33.40" lengthAdjust="spacingAndGlyphs">DREAM KO</text>
<text x="27.00" y="1062.80" font-size="7.7" stroke="#1a1a1a" stroke-width="0.22" text-anchor="middle" textLength="63.00" lengthAdjust="spacingAndGlyphs" transform="rotate(-90 27.00 1062.80)">ATP secretion (%)</text>
<text x="131.00" y="718.20" font-size="11.5" stroke="#000" stroke-width="0.22" font-weight="bold" fill="#000">H</text>
<text x="208.00" y="733.80" font-size="10.49" stroke="#1a1a1a" stroke-width="0.22" text-anchor="middle" textLength="53.50" lengthAdjust="spacingAndGlyphs">1 µg/ml CRP</text>
<text x="206.30" y="749.00" font-size="8.24" stroke="#1a1a1a" stroke-width="0.22" text-anchor="middle" textLength="48.50" lengthAdjust="spacingAndGlyphs">Time (second)</text>
<text x="169.00" y="759.00" font-size="6.3" stroke="#1a1a1a" stroke-width="0.14" text-anchor="middle">0</text>
<text x="187.40" y="759.00" font-size="6.3" stroke="#1a1a1a" stroke-width="0.14" text-anchor="middle">100</text>
<text x="205.80" y="759.00" font-size="6.3" stroke="#1a1a1a" stroke-width="0.14" text-anchor="middle">200</text>
<text x="224.20" y="759.00" font-size="6.3" stroke="#1a1a1a" stroke-width="0.14" text-anchor="middle">300</text>
<text x="242.60" y="759.00" font-size="6.3" stroke="#1a1a1a" stroke-width="0.14" text-anchor="middle">400</text>
<line x1="168.50" y1="764.80" x2="246.00" y2="764.80" stroke="#1a1a1a" stroke-width="1.1"/>
<line x1="178.20" y1="763.20" x2="178.20" y2="764.80" stroke="#1a1a1a" stroke-width="0.8"/>
<line x1="187.40" y1="763.20" x2="187.40" y2="764.80" stroke="#1a1a1a" stroke-width="0.8"/>
<line x1="196.60" y1="763.20" x2="196.60" y2="764.80" stroke="#1a1a1a" stroke-width="0.8"/>
<line x1="205.80" y1="763.20" x2="205.80" y2="764.80" stroke="#1a1a1a" stroke-width="0.8"/>
<line x1="215.00" y1="763.20" x2="215.00" y2="764.80" stroke="#1a1a1a" stroke-width="0.8"/>
<line x1="224.20" y1="763.20" x2="224.20" y2="764.80" stroke="#1a1a1a" stroke-width="0.8"/>
<line x1="233.40" y1="763.20" x2="233.40" y2="764.80" stroke="#1a1a1a" stroke-width="0.8"/>
<line x1="242.60" y1="763.20" x2="242.60" y2="764.80" stroke="#1a1a1a" stroke-width="0.8"/>
<line x1="169.00" y1="764.30" x2="169.00" y2="825.90" stroke="#1a1a1a" stroke-width="1.1"/>
<line x1="166.80" y1="764.80" x2="169.00" y2="764.80" stroke="#1a1a1a" stroke-width="0.9"/>
<text x="163.80" y="767.05" font-size="6.3" stroke="#1a1a1a" stroke-width="0.14" text-anchor="end">0</text>
<line x1="166.80" y1="774.90" x2="169.00" y2="774.90" stroke="#1a1a1a" stroke-width="0.9"/>
<text x="163.80" y="777.15" font-size="6.3" stroke="#1a1a1a" stroke-width="0.14" text-anchor="end">20</text>
<line x1="166.80" y1="785.00" x2="169.00" y2="785.00" stroke="#1a1a1a" stroke-width="0.9"/>
<text x="163.80" y="787.25" font-size="6.3" stroke="#1a1a1a" stroke-width="0.14" text-anchor="end">40</text>
<line x1="166.80" y1="795.10" x2="169.00" y2="795.10" stroke="#1a1a1a" stroke-width="0.9"/>
<text x="163.80" y="797.35" font-size="6.3" stroke="#1a1a1a" stroke-width="0.14" text-anchor="end">60</text>
<line x1="166.80" y1="805.20" x2="169.00" y2="805.20" stroke="#1a1a1a" stroke-width="0.9"/>
<text x="163.80" y="807.45" font-size="6.3" stroke="#1a1a1a" stroke-width="0.14" text-anchor="end">80</text>
<line x1="166.80" y1="815.30" x2="169.00" y2="815.30" stroke="#1a1a1a" stroke-width="0.9"/>
<text x="163.80" y="817.55" font-size="6.3" stroke="#1a1a1a" stroke-width="0.14" text-anchor="end">100</text>
<line x1="166.80" y1="825.40" x2="169.00" y2="825.40" stroke="#1a1a1a" stroke-width="0.9"/>
<text x="163.80" y="827.65" font-size="6.3" stroke="#1a1a1a" stroke-width="0.14" text-anchor="end">120</text>
<text x="150.00" y="795.10" font-size="7.8" stroke="#1a1a1a" stroke-width="0.22" text-anchor="middle" textLength="63.50" lengthAdjust="spacingAndGlyphs" transform="rotate(-90 150.00 795.10)">Light transmission</text>
<path d="M169.00,772.38 C172.07,772.38 181.27,772.33 187.40,772.38 C193.53,772.42 199.67,772.54 205.80,772.63 C211.93,772.71 218.07,772.84 224.20,772.88 C230.33,772.92 239.53,772.88 242.60,772.88" stroke="#c06a86" stroke-width="1.0" fill="none"/>
<path d="M169.00,772.38 C172.07,772.38 183.11,772.29 187.40,772.38 C191.69,772.46 192.37,772.34 194.76,772.88 C197.15,773.42 198.84,774.01 201.75,775.61 C204.67,777.21 208.77,780.17 212.24,782.47 C215.71,784.78 219.08,787.42 222.54,789.44 C226.01,791.46 229.69,793.32 233.03,794.59 C236.37,795.87 241.01,796.70 242.60,797.12" stroke="#5a6a82" stroke-width="1.1" fill="none"/>
<path d="M169.00,772.38 C172.07,772.38 182.46,772.12 187.40,772.38 C192.34,772.63 195.07,772.92 198.62,773.89 C202.18,774.86 205.31,776.58 208.74,778.18 C212.18,779.78 215.46,781.76 219.23,783.48 C223.00,785.21 227.48,787.27 231.38,788.53 C235.27,789.80 240.73,790.64 242.60,791.06" stroke="#a0304e" stroke-width="1.3" fill="none"/>
<path d="M169.00,772.38 C170.23,772.21 174.18,772.04 176.36,771.37 C178.54,770.69 180.41,768.08 182.06,768.33 C183.72,768.59 185.01,770.52 186.30,772.88 C187.58,775.24 188.47,779.14 189.79,782.47 C191.11,785.81 192.46,789.70 194.21,792.88 C195.96,796.05 197.86,799.06 200.28,801.51 C202.70,803.97 204.73,805.66 208.74,807.62 C212.76,809.59 218.74,811.93 224.38,813.28 C230.03,814.63 239.56,815.30 242.60,815.70" stroke="#2a3a66" stroke-width="1.2" fill="none"/>
<line x1="172.30" y1="805.30" x2="175.30" y2="805.30" stroke="#2a3a66" stroke-width="0.9"/>
<text x="176.70" y="806.90" font-size="5.6" stroke="#333" stroke-width="0.14" fill="#333">WT</text>
<line x1="172.30" y1="811.30" x2="175.30" y2="811.30" stroke="#a0304e" stroke-width="0.9"/>
<text x="176.70" y="812.90" font-size="5.6" stroke="#333" stroke-width="0.14" fill="#333">DREAM KO</text>
<line x1="172.30" y1="819.00" x2="175.30" y2="819.00" stroke="#5a6a82" stroke-width="0.9"/>
<text x="176.70" y="820.60" font-size="5.6" stroke="#333" stroke-width="0.14" fill="#333">WT + 1 U/ml Apyrase</text>
<line x1="172.30" y1="826.30" x2="173.50" y2="826.30" stroke="#444" stroke-width="0.9"/>
<line x1="174.20" y1="826.30" x2="175.40" y2="826.30" stroke="#444" stroke-width="0.9"/>
<text x="176.70" y="827.90" font-size="5.6" stroke="#333" stroke-width="0.14" fill="#333">DREAM KO + 1 U/ml Apyrase</text>
<line x1="168.80" y1="936.30" x2="168.80" y2="998.50" stroke="#1a1a1a" stroke-width="1.1"/>
<line x1="166.50" y1="998.00" x2="168.80" y2="998.00" stroke="#1a1a1a" stroke-width="0.9"/>
<text x="163.80" y="1000.25" font-size="6.3" stroke="#1a1a1a" stroke-width="0.14" text-anchor="end">0</text>
<line x1="166.50" y1="985.90" x2="168.80" y2="985.90" stroke="#1a1a1a" stroke-width="0.9"/>
<text x="163.80" y="988.15" font-size="6.3" stroke="#1a1a1a" stroke-width="0.14" text-anchor="end">20</text>
<line x1="166.50" y1="973.80" x2="168.80" y2="973.80" stroke="#1a1a1a" stroke-width="0.9"/>
<text x="163.80" y="976.05" font-size="6.3" stroke="#1a1a1a" stroke-width="0.14" text-anchor="end">40</text>
<line x1="166.50" y1="961.70" x2="168.80" y2="961.70" stroke="#1a1a1a" stroke-width="0.9"/>
<text x="163.80" y="963.95" font-size="6.3" stroke="#1a1a1a" stroke-width="0.14" text-anchor="end">60</text>
<line x1="166.50" y1="949.60" x2="168.80" y2="949.60" stroke="#1a1a1a" stroke-width="0.9"/>
<text x="163.80" y="951.85" font-size="6.3" stroke="#1a1a1a" stroke-width="0.14" text-anchor="end">80</text>
<line x1="166.50" y1="937.50" x2="168.80" y2="937.50" stroke="#1a1a1a" stroke-width="0.9"/>
<text x="163.80" y="939.75" font-size="6.3" stroke="#1a1a1a" stroke-width="0.14" text-anchor="end">100</text>
<line x1="168.30" y1="998.00" x2="254.79" y2="998.00" stroke="#1a1a1a" stroke-width="1.1"/>
<line x1="168.80" y1="998.00" x2="168.80" y2="999.80" stroke="#1a1a1a" stroke-width="0.9"/>
<text x="170.60" y="1006.60" font-size="6.9" stroke="#1a1a1a" stroke-width="0.2" text-anchor="end" transform="rotate(-45 170.60 1006.60)">0</text>
<line x1="182.88" y1="998.00" x2="182.88" y2="999.80" stroke="#1a1a1a" stroke-width="0.9"/>
<text x="184.68" y="1006.60" font-size="6.9" stroke="#1a1a1a" stroke-width="0.2" text-anchor="end" transform="rotate(-45 184.68 1006.60)">60</text>
<line x1="196.96" y1="998.00" x2="196.96" y2="999.80" stroke="#1a1a1a" stroke-width="0.9"/>
<text x="198.76" y="1006.60" font-size="6.9" stroke="#1a1a1a" stroke-width="0.2" text-anchor="end" transform="rotate(-45 198.76 1006.60)">120</text>
<line x1="211.05" y1="998.00" x2="211.05" y2="999.80" stroke="#1a1a1a" stroke-width="0.9"/>
<text x="212.85" y="1006.60" font-size="6.9" stroke="#1a1a1a" stroke-width="0.2" text-anchor="end" transform="rotate(-45 212.85 1006.60)">180</text>
<line x1="225.13" y1="998.00" x2="225.13" y2="999.80" stroke="#1a1a1a" stroke-width="0.9"/>
<text x="226.93" y="1006.60" font-size="6.9" stroke="#1a1a1a" stroke-width="0.2" text-anchor="end" transform="rotate(-45 226.93 1006.60)">240</text>
<line x1="239.21" y1="998.00" x2="239.21" y2="999.80" stroke="#1a1a1a" stroke-width="0.9"/>
<text x="241.01" y="1006.60" font-size="6.9" stroke="#1a1a1a" stroke-width="0.2" text-anchor="end" transform="rotate(-45 241.01 1006.60)">300</text>
<line x1="253.29" y1="998.00" x2="253.29" y2="999.80" stroke="#1a1a1a" stroke-width="0.9"/>
<text x="255.09" y="1006.60" font-size="6.9" stroke="#1a1a1a" stroke-width="0.2" text-anchor="end" transform="rotate(-45 255.09 1006.60)">360</text>
<text x="212.55" y="1024.90" font-size="8.24" stroke="#1a1a1a" stroke-width="0.22" text-anchor="middle" textLength="48.50" lengthAdjust="spacingAndGlyphs">Time (second)</text>
<text x="149.50" y="966.75" font-size="7.7" stroke="#1a1a1a" stroke-width="0.22" text-anchor="middle" textLength="57.00" lengthAdjust="spacingAndGlyphs" transform="rotate(-90 149.50 966.75)">Aggregation (%)</text>
<path d="M168.80,998.00 C171.15,998.00 178.19,998.00 182.88,998.00 C187.58,998.00 192.27,998.00 196.96,998.00 C201.66,998.00 206.35,999.21 211.05,998.00 C215.74,996.79 220.43,993.16 225.13,990.74 C229.82,988.32 234.52,985.60 239.21,983.48 C243.90,981.36 250.94,978.94 253.29,978.03" stroke="#a3304f" stroke-width="1.1" fill="none"/>
<rect x="167.90" y="997.10" width="1.80" height="1.80" fill="#222"/>
<line x1="182.88" y1="997.39" x2="182.88" y2="998.61" stroke="#2a2a2a" stroke-width="0.9" stroke-dasharray="1.3,0.5"/>
<line x1="182.28" y1="997.39" x2="183.48" y2="997.39" stroke="#2a2a2a" stroke-width="0.8"/>
<line x1="182.28" y1="998.61" x2="183.48" y2="998.61" stroke="#2a2a2a" stroke-width="0.8"/>
<rect x="181.98" y="997.10" width="1.80" height="1.80" fill="#222"/>
<line x1="196.96" y1="997.39" x2="196.96" y2="998.61" stroke="#2a2a2a" stroke-width="0.9" stroke-dasharray="1.3,0.5"/>
<line x1="196.36" y1="997.39" x2="197.56" y2="997.39" stroke="#2a2a2a" stroke-width="0.8"/>
<line x1="196.36" y1="998.61" x2="197.56" y2="998.61" stroke="#2a2a2a" stroke-width="0.8"/>
<rect x="196.06" y="997.10" width="1.80" height="1.80" fill="#222"/>
<line x1="211.05" y1="996.79" x2="211.05" y2="999.21" stroke="#2a2a2a" stroke-width="0.9" stroke-dasharray="1.3,0.5"/>
<line x1="210.45" y1="996.79" x2="211.65" y2="996.79" stroke="#2a2a2a" stroke-width="0.8"/>
<line x1="210.45" y1="999.21" x2="211.65" y2="999.21" stroke="#2a2a2a" stroke-width="0.8"/>
<rect x="210.15" y="997.10" width="1.80" height="1.80" fill="#222"/>
<line x1="225.13" y1="987.72" x2="225.13" y2="993.76" stroke="#2a2a2a" stroke-width="0.9" stroke-dasharray="1.3,0.5"/>
<line x1="224.53" y1="987.72" x2="225.73" y2="987.72" stroke="#2a2a2a" stroke-width="0.8"/>
<line x1="224.53" y1="993.76" x2="225.73" y2="993.76" stroke="#2a2a2a" stroke-width="0.8"/>
<rect x="224.23" y="989.84" width="1.80" height="1.80" fill="#222"/>
<line x1="239.21" y1="978.64" x2="239.21" y2="988.32" stroke="#2a2a2a" stroke-width="0.9" stroke-dasharray="1.3,0.5"/>
<line x1="238.61" y1="978.64" x2="239.81" y2="978.64" stroke="#2a2a2a" stroke-width="0.8"/>
<line x1="238.61" y1="988.32" x2="239.81" y2="988.32" stroke="#2a2a2a" stroke-width="0.8"/>
<rect x="238.31" y="982.58" width="1.80" height="1.80" fill="#222"/>
<line x1="253.29" y1="972.59" x2="253.29" y2="983.48" stroke="#2a2a2a" stroke-width="0.9" stroke-dasharray="1.3,0.5"/>
<line x1="252.69" y1="972.59" x2="253.89" y2="972.59" stroke="#2a2a2a" stroke-width="0.8"/>
<line x1="252.69" y1="983.48" x2="253.89" y2="983.48" stroke="#2a2a2a" stroke-width="0.8"/>
<rect x="252.39" y="977.13" width="1.80" height="1.80" fill="#222"/>
<path d="M168.80,998.00 C171.15,998.00 178.19,998.00 182.88,998.00 C187.58,998.00 192.27,998.00 196.96,998.00 C201.66,998.00 206.35,998.00 211.05,998.00 C215.74,998.00 220.43,998.00 225.13,998.00 C229.82,998.00 234.52,998.00 239.21,998.00 C243.90,998.00 250.94,998.00 253.29,998.00" stroke="#555" stroke-width="1.1" fill="none" stroke-dasharray="1.5,1"/>
<rect x="167.90" y="997.10" width="1.80" height="1.80" fill="#222"/>
<line x1="182.88" y1="997.39" x2="182.88" y2="998.61" stroke="#2a2a2a" stroke-width="0.9" stroke-dasharray="1.3,0.5"/>
<line x1="182.28" y1="997.39" x2="183.48" y2="997.39" stroke="#2a2a2a" stroke-width="0.8"/>
<line x1="182.28" y1="998.61" x2="183.48" y2="998.61" stroke="#2a2a2a" stroke-width="0.8"/>
<rect x="181.98" y="997.10" width="1.80" height="1.80" fill="#222"/>
<line x1="196.96" y1="996.18" x2="196.96" y2="999.82" stroke="#2a2a2a" stroke-width="0.9" stroke-dasharray="1.3,0.5"/>
<line x1="196.36" y1="996.18" x2="197.56" y2="996.18" stroke="#2a2a2a" stroke-width="0.8"/>
<line x1="196.36" y1="999.82" x2="197.56" y2="999.82" stroke="#2a2a2a" stroke-width="0.8"/>
<rect x="196.06" y="997.10" width="1.80" height="1.80" fill="#222"/>
<line x1="211.05" y1="995.58" x2="211.05" y2="1000.42" stroke="#2a2a2a" stroke-width="0.9" stroke-dasharray="1.3,0.5"/>
<line x1="210.45" y1="995.58" x2="211.65" y2="995.58" stroke="#2a2a2a" stroke-width="0.8"/>
<line x1="210.45" y1="1000.42" x2="211.65" y2="1000.42" stroke="#2a2a2a" stroke-width="0.8"/>
<rect x="210.15" y="997.10" width="1.80" height="1.80" fill="#222"/>
<line x1="225.13" y1="996.18" x2="225.13" y2="999.82" stroke="#2a2a2a" stroke-width="0.9" stroke-dasharray="1.3,0.5"/>
<line x1="224.53" y1="996.18" x2="225.73" y2="996.18" stroke="#2a2a2a" stroke-width="0.8"/>
<line x1="224.53" y1="999.82" x2="225.73" y2="999.82" stroke="#2a2a2a" stroke-width="0.8"/>
<rect x="224.23" y="997.10" width="1.80" height="1.80" fill="#222"/>
<line x1="239.21" y1="996.18" x2="239.21" y2="999.82" stroke="#2a2a2a" stroke-width="0.9" stroke-dasharray="1.3,0.5"/>
<line x1="238.61" y1="996.18" x2="239.81" y2="996.18" stroke="#2a2a2a" stroke-width="0.8"/>
<line x1="238.61" y1="999.82" x2="239.81" y2="999.82" stroke="#2a2a2a" stroke-width="0.8"/>
<rect x="238.31" y="997.10" width="1.80" height="1.80" fill="#222"/>
<line x1="253.29" y1="996.79" x2="253.29" y2="999.21" stroke="#2a2a2a" stroke-width="0.9" stroke-dasharray="1.3,0.5"/>
<line x1="252.69" y1="996.79" x2="253.89" y2="996.79" stroke="#2a2a2a" stroke-width="0.8"/>
<line x1="252.69" y1="999.21" x2="253.89" y2="999.21" stroke="#2a2a2a" stroke-width="0.8"/>
<rect x="252.39" y="997.10" width="1.80" height="1.80" fill="#222"/>
<path d="M168.80,998.00 C171.15,997.70 178.19,996.39 182.88,996.18 C187.58,995.98 192.27,996.79 196.96,996.79 C201.66,996.79 206.35,998.00 211.05,996.18 C215.74,994.37 220.43,989.23 225.13,985.90 C229.82,982.57 234.52,978.94 239.21,976.22 C243.90,973.50 250.94,970.67 253.29,969.57" stroke="#46506a" stroke-width="1.1" fill="none" stroke-dasharray="1.5,1"/>
<rect x="167.90" y="997.10" width="1.80" height="1.80" fill="#222"/>
<line x1="182.88" y1="994.37" x2="182.88" y2="998.00" stroke="#2a2a2a" stroke-width="0.9" stroke-dasharray="1.3,0.5"/>
<line x1="182.28" y1="994.37" x2="183.48" y2="994.37" stroke="#2a2a2a" stroke-width="0.8"/>
<line x1="182.28" y1="998.00" x2="183.48" y2="998.00" stroke="#2a2a2a" stroke-width="0.8"/>
<rect x="181.98" y="995.28" width="1.80" height="1.80" fill="#222"/>
<line x1="196.96" y1="994.97" x2="196.96" y2="998.61" stroke="#2a2a2a" stroke-width="0.9" stroke-dasharray="1.3,0.5"/>
<line x1="196.36" y1="994.97" x2="197.56" y2="994.97" stroke="#2a2a2a" stroke-width="0.8"/>
<line x1="196.36" y1="998.61" x2="197.56" y2="998.61" stroke="#2a2a2a" stroke-width="0.8"/>
<rect x="196.06" y="995.89" width="1.80" height="1.80" fill="#222"/>
<line x1="211.05" y1="994.37" x2="211.05" y2="998.00" stroke="#2a2a2a" stroke-width="0.9" stroke-dasharray="1.3,0.5"/>
<line x1="210.45" y1="994.37" x2="211.65" y2="994.37" stroke="#2a2a2a" stroke-width="0.8"/>
<line x1="210.45" y1="998.00" x2="211.65" y2="998.00" stroke="#2a2a2a" stroke-width="0.8"/>
<rect x="210.15" y="995.28" width="1.80" height="1.80" fill="#222"/>
<line x1="225.13" y1="980.45" x2="225.13" y2="991.35" stroke="#2a2a2a" stroke-width="0.9" stroke-dasharray="1.3,0.5"/>
<line x1="224.53" y1="980.45" x2="225.73" y2="980.45" stroke="#2a2a2a" stroke-width="0.8"/>
<line x1="224.53" y1="991.35" x2="225.73" y2="991.35" stroke="#2a2a2a" stroke-width="0.8"/>
<rect x="224.23" y="985.00" width="1.80" height="1.80" fill="#222"/>
<line x1="239.21" y1="970.77" x2="239.21" y2="981.67" stroke="#2a2a2a" stroke-width="0.9" stroke-dasharray="1.3,0.5"/>
<line x1="238.61" y1="970.77" x2="239.81" y2="970.77" stroke="#2a2a2a" stroke-width="0.8"/>
<line x1="238.61" y1="981.67" x2="239.81" y2="981.67" stroke="#2a2a2a" stroke-width="0.8"/>
<rect x="238.31" y="975.32" width="1.80" height="1.80" fill="#222"/>
<line x1="253.29" y1="963.52" x2="253.29" y2="975.62" stroke="#2a2a2a" stroke-width="0.9" stroke-dasharray="1.3,0.5"/>
<line x1="252.69" y1="963.52" x2="253.89" y2="963.52" stroke="#2a2a2a" stroke-width="0.8"/>
<line x1="252.69" y1="975.62" x2="253.89" y2="975.62" stroke="#2a2a2a" stroke-width="0.8"/>
<rect x="252.39" y="968.67" width="1.80" height="1.80" fill="#222"/>
<path d="M168.80,998.00 C171.15,997.50 178.19,997.09 182.88,994.98 C187.58,992.86 192.27,990.13 196.96,985.29 C201.66,980.45 206.35,970.67 211.05,965.93 C215.74,961.20 220.43,958.98 225.13,956.86 C229.82,954.74 234.52,954.24 239.21,953.23 C243.90,952.22 250.94,951.21 253.29,950.81" stroke="#46506a" stroke-width="1.1" fill="none"/>
<rect x="167.90" y="997.10" width="1.80" height="1.80" fill="#222"/>
<line x1="182.88" y1="990.13" x2="182.88" y2="999.82" stroke="#2a2a2a" stroke-width="0.9" stroke-dasharray="1.3,0.5"/>
<line x1="182.28" y1="990.13" x2="183.48" y2="990.13" stroke="#2a2a2a" stroke-width="0.8"/>
<line x1="182.28" y1="999.82" x2="183.48" y2="999.82" stroke="#2a2a2a" stroke-width="0.8"/>
<rect x="181.98" y="994.08" width="1.80" height="1.80" fill="#222"/>
<line x1="196.96" y1="979.25" x2="196.96" y2="991.34" stroke="#2a2a2a" stroke-width="0.9" stroke-dasharray="1.3,0.5"/>
<line x1="196.36" y1="979.25" x2="197.56" y2="979.25" stroke="#2a2a2a" stroke-width="0.8"/>
<line x1="196.36" y1="991.34" x2="197.56" y2="991.34" stroke="#2a2a2a" stroke-width="0.8"/>
<rect x="196.06" y="984.39" width="1.80" height="1.80" fill="#222"/>
<line x1="211.05" y1="959.88" x2="211.05" y2="971.98" stroke="#2a2a2a" stroke-width="0.9" stroke-dasharray="1.3,0.5"/>
<line x1="210.45" y1="959.88" x2="211.65" y2="959.88" stroke="#2a2a2a" stroke-width="0.8"/>
<line x1="210.45" y1="971.98" x2="211.65" y2="971.98" stroke="#2a2a2a" stroke-width="0.8"/>
<rect x="210.15" y="965.03" width="1.80" height="1.80" fill="#222"/>
<line x1="225.13" y1="950.81" x2="225.13" y2="962.91" stroke="#2a2a2a" stroke-width="0.9" stroke-dasharray="1.3,0.5"/>
<line x1="224.53" y1="950.81" x2="225.73" y2="950.81" stroke="#2a2a2a" stroke-width="0.8"/>
<line x1="224.53" y1="962.91" x2="225.73" y2="962.91" stroke="#2a2a2a" stroke-width="0.8"/>
<rect x="224.23" y="955.96" width="1.80" height="1.80" fill="#222"/>
<line x1="239.21" y1="946.58" x2="239.21" y2="959.88" stroke="#2a2a2a" stroke-width="0.9" stroke-dasharray="1.3,0.5"/>
<line x1="238.61" y1="946.58" x2="239.81" y2="946.58" stroke="#2a2a2a" stroke-width="0.8"/>
<line x1="238.61" y1="959.88" x2="239.81" y2="959.88" stroke="#2a2a2a" stroke-width="0.8"/>
<rect x="238.31" y="952.33" width="1.80" height="1.80" fill="#222"/>
<line x1="253.29" y1="944.15" x2="253.29" y2="957.46" stroke="#2a2a2a" stroke-width="0.9" stroke-dasharray="1.3,0.5"/>
<line x1="252.69" y1="944.15" x2="253.89" y2="944.15" stroke="#2a2a2a" stroke-width="0.8"/>
<line x1="252.69" y1="957.46" x2="253.89" y2="957.46" stroke="#2a2a2a" stroke-width="0.8"/>
<rect x="252.39" y="949.91" width="1.80" height="1.80" fill="#222"/>
<text x="262.50" y="718.20" font-size="11.5" stroke="#000" stroke-width="0.22" font-weight="bold" fill="#000">I</text>
<text x="337.00" y="733.80" font-size="10.49" stroke="#1a1a1a" stroke-width="0.22" text-anchor="middle" textLength="63.50" lengthAdjust="spacingAndGlyphs">0.5 µg/ml CRP</text>
<text x="336.10" y="749.00" font-size="8.24" stroke="#1a1a1a" stroke-width="0.22" text-anchor="middle" textLength="48.50" lengthAdjust="spacingAndGlyphs">Time (second)</text>
<text x="298.80" y="759.00" font-size="6.3" stroke="#1a1a1a" stroke-width="0.14" text-anchor="middle">0</text>
<text x="317.20" y="759.00" font-size="6.3" stroke="#1a1a1a" stroke-width="0.14" text-anchor="middle">100</text>
<text x="335.60" y="759.00" font-size="6.3" stroke="#1a1a1a" stroke-width="0.14" text-anchor="middle">200</text>
<text x="354.00" y="759.00" font-size="6.3" stroke="#1a1a1a" stroke-width="0.14" text-anchor="middle">300</text>
<text x="372.40" y="759.00" font-size="6.3" stroke="#1a1a1a" stroke-width="0.14" text-anchor="middle">400</text>
<line x1="298.30" y1="764.80" x2="375.80" y2="764.80" stroke="#1a1a1a" stroke-width="1.1"/>
<line x1="308.00" y1="763.20" x2="308.00" y2="764.80" stroke="#1a1a1a" stroke-width="0.8"/>
<line x1="317.20" y1="763.20" x2="317.20" y2="764.80" stroke="#1a1a1a" stroke-width="0.8"/>
<line x1="326.40" y1="763.20" x2="326.40" y2="764.80" stroke="#1a1a1a" stroke-width="0.8"/>
<line x1="335.60" y1="763.20" x2="335.60" y2="764.80" stroke="#1a1a1a" stroke-width="0.8"/>
<line x1="344.80" y1="763.20" x2="344.80" y2="764.80" stroke="#1a1a1a" stroke-width="0.8"/>
<line x1="354.00" y1="763.20" x2="354.00" y2="764.80" stroke="#1a1a1a" stroke-width="0.8"/>
<line x1="363.20" y1="763.20" x2="363.20" y2="764.80" stroke="#1a1a1a" stroke-width="0.8"/>
<line x1="372.40" y1="763.20" x2="372.40" y2="764.80" stroke="#1a1a1a" stroke-width="0.8"/>
<line x1="298.80" y1="764.30" x2="298.80" y2="825.80" stroke="#1a1a1a" stroke-width="1.1"/>
<line x1="296.60" y1="764.80" x2="298.80" y2="764.80" stroke="#1a1a1a" stroke-width="0.9"/>
<text x="293.50" y="767.05" font-size="6.3" stroke="#1a1a1a" stroke-width="0.14" text-anchor="end">0</text>
<line x1="296.60" y1="776.90" x2="298.80" y2="776.90" stroke="#1a1a1a" stroke-width="0.9"/>
<text x="293.50" y="779.15" font-size="6.3" stroke="#1a1a1a" stroke-width="0.14" text-anchor="end">20</text>
<line x1="296.60" y1="789.00" x2="298.80" y2="789.00" stroke="#1a1a1a" stroke-width="0.9"/>
<text x="293.50" y="791.25" font-size="6.3" stroke="#1a1a1a" stroke-width="0.14" text-anchor="end">40</text>
<line x1="296.60" y1="801.10" x2="298.80" y2="801.10" stroke="#1a1a1a" stroke-width="0.9"/>
<text x="293.50" y="803.35" font-size="6.3" stroke="#1a1a1a" stroke-width="0.14" text-anchor="end">60</text>
<line x1="296.60" y1="813.20" x2="298.80" y2="813.20" stroke="#1a1a1a" stroke-width="0.9"/>
<text x="293.50" y="815.45" font-size="6.3" stroke="#1a1a1a" stroke-width="0.14" text-anchor="end">80</text>
<line x1="296.60" y1="825.30" x2="298.80" y2="825.30" stroke="#1a1a1a" stroke-width="0.9"/>
<text x="293.50" y="827.55" font-size="6.3" stroke="#1a1a1a" stroke-width="0.14" text-anchor="end">100</text>
<text x="280.50" y="795.05" font-size="7.8" stroke="#1a1a1a" stroke-width="0.22" text-anchor="middle" textLength="63.50" lengthAdjust="spacingAndGlyphs" transform="rotate(-90 280.50 795.05)">Light transmission</text>
<rect x="298.80" y="764.80" width="2.00" height="7.00" fill="#9a9a9a"/>
<path d="M298.80,772.54 C301.87,772.51 311.07,772.36 317.20,772.36 C323.33,772.36 329.47,772.47 335.60,772.54 C341.73,772.61 347.87,772.72 354.00,772.79 C360.13,772.86 369.33,772.94 372.40,772.97" stroke="#a02848" stroke-width="1.3" fill="none"/>
<path d="M298.80,772.54 C301.87,772.54 312.81,772.22 317.20,772.54 C321.59,772.87 321.80,773.15 325.11,774.48 C328.42,775.81 333.05,778.51 337.07,780.53 C341.09,782.55 344.92,784.97 349.22,786.58 C353.51,788.19 358.97,789.40 362.83,790.21 C366.70,791.02 370.81,791.22 372.40,791.42" stroke="#b84a6a" stroke-width="1.0" fill="none" stroke-dasharray="2,0.8"/>
<path d="M298.80,772.54 C302.02,772.54 313.89,771.21 318.12,772.54 C322.35,773.88 322.20,777.74 324.19,780.53 C326.19,783.32 327.66,786.68 330.08,789.30 C332.50,791.92 335.26,794.09 338.73,796.26 C342.19,798.43 346.85,800.80 350.87,802.31 C354.89,803.82 359.24,804.60 362.83,805.33 C366.42,806.07 370.81,806.49 372.40,806.73" stroke="#2a3a5a" stroke-width="1.2" fill="none"/>
<path d="M298.80,772.54 C301.87,772.54 313.15,770.61 317.20,772.54 C321.25,774.48 321.25,780.51 323.09,784.16 C324.93,787.81 326.22,791.22 328.24,794.44 C330.26,797.67 332.35,800.84 335.23,803.52 C338.11,806.20 341.52,808.52 345.54,810.54 C349.55,812.55 354.86,814.33 359.34,815.62 C363.81,816.91 370.22,817.84 372.40,818.28" stroke="#4a5a80" stroke-width="1.2" fill="none"/>
<line x1="301.60" y1="805.20" x2="304.60" y2="805.20" stroke="#2a3a5a" stroke-width="0.9"/>
<text x="306.00" y="806.80" font-size="5.6" stroke="#333" stroke-width="0.14" fill="#333">WT</text>
<line x1="301.60" y1="812.50" x2="304.60" y2="812.50" stroke="#a02848" stroke-width="0.9"/>
<text x="306.00" y="814.10" font-size="5.6" stroke="#333" stroke-width="0.14" fill="#333">DREAM KO</text>
<line x1="301.60" y1="819.60" x2="302.80" y2="819.60" stroke="#4a5a80" stroke-width="0.9"/>
<line x1="303.50" y1="819.60" x2="304.70" y2="819.60" stroke="#4a5a80" stroke-width="0.9"/>
<text x="306.00" y="821.20" font-size="5.6" stroke="#333" stroke-width="0.14" fill="#333">WT + 1 µM ADP</text>
<line x1="301.60" y1="826.50" x2="302.80" y2="826.50" stroke="#a02848" stroke-width="0.9"/>
<line x1="303.50" y1="826.50" x2="304.70" y2="826.50" stroke="#a02848" stroke-width="0.9"/>
<text x="306.00" y="828.10" font-size="5.6" stroke="#333" stroke-width="0.14" fill="#333">DREAM KO + 1 µM ADP</text>
<line x1="298.80" y1="936.30" x2="298.80" y2="998.50" stroke="#1a1a1a" stroke-width="1.1"/>
<line x1="296.50" y1="998.00" x2="298.80" y2="998.00" stroke="#1a1a1a" stroke-width="0.9"/>
<text x="293.80" y="1000.25" font-size="6.3" stroke="#1a1a1a" stroke-width="0.14" text-anchor="end">0</text>
<line x1="296.50" y1="985.90" x2="298.80" y2="985.90" stroke="#1a1a1a" stroke-width="0.9"/>
<text x="293.80" y="988.15" font-size="6.3" stroke="#1a1a1a" stroke-width="0.14" text-anchor="end">20</text>
<line x1="296.50" y1="973.80" x2="298.80" y2="973.80" stroke="#1a1a1a" stroke-width="0.9"/>
<text x="293.80" y="976.05" font-size="6.3" stroke="#1a1a1a" stroke-width="0.14" text-anchor="end">40</text>
<line x1="296.50" y1="961.70" x2="298.80" y2="961.70" stroke="#1a1a1a" stroke-width="0.9"/>
<text x="293.80" y="963.95" font-size="6.3" stroke="#1a1a1a" stroke-width="0.14" text-anchor="end">60</text>
<line x1="296.50" y1="949.60" x2="298.80" y2="949.60" stroke="#1a1a1a" stroke-width="0.9"/>
<text x="293.80" y="951.85" font-size="6.3" stroke="#1a1a1a" stroke-width="0.14" text-anchor="end">80</text>
<line x1="296.50" y1="937.50" x2="298.80" y2="937.50" stroke="#1a1a1a" stroke-width="0.9"/>
<text x="293.80" y="939.75" font-size="6.3" stroke="#1a1a1a" stroke-width="0.14" text-anchor="end">100</text>
<line x1="298.30" y1="998.00" x2="382.31" y2="998.00" stroke="#1a1a1a" stroke-width="1.1"/>
<line x1="298.80" y1="998.00" x2="298.80" y2="999.80" stroke="#1a1a1a" stroke-width="0.9"/>
<text x="300.60" y="1006.60" font-size="6.9" stroke="#1a1a1a" stroke-width="0.2" text-anchor="end" transform="rotate(-45 300.60 1006.60)">0</text>
<line x1="312.47" y1="998.00" x2="312.47" y2="999.80" stroke="#1a1a1a" stroke-width="0.9"/>
<text x="314.27" y="1006.60" font-size="6.9" stroke="#1a1a1a" stroke-width="0.2" text-anchor="end" transform="rotate(-45 314.27 1006.60)">60</text>
<line x1="326.14" y1="998.00" x2="326.14" y2="999.80" stroke="#1a1a1a" stroke-width="0.9"/>
<text x="327.94" y="1006.60" font-size="6.9" stroke="#1a1a1a" stroke-width="0.2" text-anchor="end" transform="rotate(-45 327.94 1006.60)">120</text>
<line x1="339.80" y1="998.00" x2="339.80" y2="999.80" stroke="#1a1a1a" stroke-width="0.9"/>
<text x="341.60" y="1006.60" font-size="6.9" stroke="#1a1a1a" stroke-width="0.2" text-anchor="end" transform="rotate(-45 341.60 1006.60)">180</text>
<line x1="353.47" y1="998.00" x2="353.47" y2="999.80" stroke="#1a1a1a" stroke-width="0.9"/>
<text x="355.27" y="1006.60" font-size="6.9" stroke="#1a1a1a" stroke-width="0.2" text-anchor="end" transform="rotate(-45 355.27 1006.60)">240</text>
<line x1="367.14" y1="998.00" x2="367.14" y2="999.80" stroke="#1a1a1a" stroke-width="0.9"/>
<text x="368.94" y="1006.60" font-size="6.9" stroke="#1a1a1a" stroke-width="0.2" text-anchor="end" transform="rotate(-45 368.94 1006.60)">300</text>
<line x1="380.81" y1="998.00" x2="380.81" y2="999.80" stroke="#1a1a1a" stroke-width="0.9"/>
<text x="382.61" y="1006.60" font-size="6.9" stroke="#1a1a1a" stroke-width="0.2" text-anchor="end" transform="rotate(-45 382.61 1006.60)">360</text>
<text x="341.30" y="1024.90" font-size="8.24" stroke="#1a1a1a" stroke-width="0.22" text-anchor="middle" textLength="48.50" lengthAdjust="spacingAndGlyphs">Time (second)</text>
<text x="279.50" y="966.75" font-size="7.7" stroke="#1a1a1a" stroke-width="0.22" text-anchor="middle" textLength="57.00" lengthAdjust="spacingAndGlyphs" transform="rotate(-90 279.50 966.75)">Aggregation (%)</text>
<path d="M298.80,998.00 C301.08,998.00 307.91,998.00 312.47,998.00 C317.02,998.00 321.58,998.00 326.14,998.00 C330.69,998.00 335.25,998.00 339.80,998.00 C344.36,998.00 348.92,998.00 353.47,998.00 C358.03,998.00 362.58,998.00 367.14,998.00 C371.70,998.00 378.53,998.00 380.81,998.00" stroke="#8a2040" stroke-width="1.4" fill="none"/>
<rect x="297.90" y="997.10" width="1.80" height="1.80" fill="#222"/>
<line x1="312.47" y1="997.39" x2="312.47" y2="998.61" stroke="#2a2a2a" stroke-width="0.9" stroke-dasharray="1.3,0.5"/>
<line x1="311.87" y1="997.39" x2="313.07" y2="997.39" stroke="#2a2a2a" stroke-width="0.8"/>
<line x1="311.87" y1="998.61" x2="313.07" y2="998.61" stroke="#2a2a2a" stroke-width="0.8"/>
<rect x="311.57" y="997.10" width="1.80" height="1.80" fill="#222"/>
<line x1="326.14" y1="997.39" x2="326.14" y2="998.61" stroke="#2a2a2a" stroke-width="0.9" stroke-dasharray="1.3,0.5"/>
<line x1="325.54" y1="997.39" x2="326.74" y2="997.39" stroke="#2a2a2a" stroke-width="0.8"/>
<line x1="325.54" y1="998.61" x2="326.74" y2="998.61" stroke="#2a2a2a" stroke-width="0.8"/>
<rect x="325.24" y="997.10" width="1.80" height="1.80" fill="#222"/>
<line x1="339.80" y1="997.39" x2="339.80" y2="998.61" stroke="#2a2a2a" stroke-width="0.9" stroke-dasharray="1.3,0.5"/>
<line x1="339.20" y1="997.39" x2="340.40" y2="997.39" stroke="#2a2a2a" stroke-width="0.8"/>
<line x1="339.20" y1="998.61" x2="340.40" y2="998.61" stroke="#2a2a2a" stroke-width="0.8"/>
<rect x="338.90" y="997.10" width="1.80" height="1.80" fill="#222"/>
<line x1="353.47" y1="997.39" x2="353.47" y2="998.61" stroke="#2a2a2a" stroke-width="0.9" stroke-dasharray="1.3,0.5"/>
<line x1="352.87" y1="997.39" x2="354.07" y2="997.39" stroke="#2a2a2a" stroke-width="0.8"/>
<line x1="352.87" y1="998.61" x2="354.07" y2="998.61" stroke="#2a2a2a" stroke-width="0.8"/>
<rect x="352.57" y="997.10" width="1.80" height="1.80" fill="#222"/>
<line x1="367.14" y1="997.39" x2="367.14" y2="998.61" stroke="#2a2a2a" stroke-width="0.9" stroke-dasharray="1.3,0.5"/>
<line x1="366.54" y1="997.39" x2="367.74" y2="997.39" stroke="#2a2a2a" stroke-width="0.8"/>
<line x1="366.54" y1="998.61" x2="367.74" y2="998.61" stroke="#2a2a2a" stroke-width="0.8"/>
<rect x="366.24" y="997.10" width="1.80" height="1.80" fill="#222"/>
<line x1="380.81" y1="997.39" x2="380.81" y2="998.61" stroke="#2a2a2a" stroke-width="0.9" stroke-dasharray="1.3,0.5"/>
<line x1="380.21" y1="997.39" x2="381.41" y2="997.39" stroke="#2a2a2a" stroke-width="0.8"/>
<line x1="380.21" y1="998.61" x2="381.41" y2="998.61" stroke="#2a2a2a" stroke-width="0.8"/>
<rect x="379.91" y="997.10" width="1.80" height="1.80" fill="#222"/>
<path d="M298.80,998.00 C301.08,998.00 307.91,998.20 312.47,998.00 C317.02,997.80 321.58,998.20 326.14,996.79 C330.69,995.38 335.25,991.85 339.80,989.53 C344.36,987.21 348.92,984.69 353.47,982.88 C358.03,981.06 362.58,979.85 367.14,978.64 C371.70,977.43 378.53,976.12 380.81,975.62" stroke="#b04060" stroke-width="1.1" fill="none" stroke-dasharray="1.5,1"/>
<rect x="297.90" y="997.10" width="1.80" height="1.80" fill="#222"/>
<line x1="312.47" y1="997.39" x2="312.47" y2="998.61" stroke="#2a2a2a" stroke-width="0.9" stroke-dasharray="1.3,0.5"/>
<line x1="311.87" y1="997.39" x2="313.07" y2="997.39" stroke="#2a2a2a" stroke-width="0.8"/>
<line x1="311.87" y1="998.61" x2="313.07" y2="998.61" stroke="#2a2a2a" stroke-width="0.8"/>
<rect x="311.57" y="997.10" width="1.80" height="1.80" fill="#222"/>
<line x1="326.14" y1="995.58" x2="326.14" y2="998.00" stroke="#2a2a2a" stroke-width="0.9" stroke-dasharray="1.3,0.5"/>
<line x1="325.54" y1="995.58" x2="326.74" y2="995.58" stroke="#2a2a2a" stroke-width="0.8"/>
<line x1="325.54" y1="998.00" x2="326.74" y2="998.00" stroke="#2a2a2a" stroke-width="0.8"/>
<rect x="325.24" y="995.89" width="1.80" height="1.80" fill="#222"/>
<line x1="339.80" y1="987.11" x2="339.80" y2="991.95" stroke="#2a2a2a" stroke-width="0.9" stroke-dasharray="1.3,0.5"/>
<line x1="339.20" y1="987.11" x2="340.40" y2="987.11" stroke="#2a2a2a" stroke-width="0.8"/>
<line x1="339.20" y1="991.95" x2="340.40" y2="991.95" stroke="#2a2a2a" stroke-width="0.8"/>
<rect x="338.90" y="988.63" width="1.80" height="1.80" fill="#222"/>
<line x1="353.47" y1="979.85" x2="353.47" y2="985.90" stroke="#2a2a2a" stroke-width="0.9" stroke-dasharray="1.3,0.5"/>
<line x1="352.87" y1="979.85" x2="354.07" y2="979.85" stroke="#2a2a2a" stroke-width="0.8"/>
<line x1="352.87" y1="985.90" x2="354.07" y2="985.90" stroke="#2a2a2a" stroke-width="0.8"/>
<rect x="352.57" y="981.98" width="1.80" height="1.80" fill="#222"/>
<line x1="367.14" y1="975.01" x2="367.14" y2="982.27" stroke="#2a2a2a" stroke-width="0.9" stroke-dasharray="1.3,0.5"/>
<line x1="366.54" y1="975.01" x2="367.74" y2="975.01" stroke="#2a2a2a" stroke-width="0.8"/>
<line x1="366.54" y1="982.27" x2="367.74" y2="982.27" stroke="#2a2a2a" stroke-width="0.8"/>
<rect x="366.24" y="977.74" width="1.80" height="1.80" fill="#222"/>
<line x1="380.81" y1="971.38" x2="380.81" y2="979.85" stroke="#2a2a2a" stroke-width="0.9" stroke-dasharray="1.3,0.5"/>
<line x1="380.21" y1="971.38" x2="381.41" y2="971.38" stroke="#2a2a2a" stroke-width="0.8"/>
<line x1="380.21" y1="979.85" x2="381.41" y2="979.85" stroke="#2a2a2a" stroke-width="0.8"/>
<rect x="379.91" y="974.72" width="1.80" height="1.80" fill="#222"/>
<path d="M298.80,998.00 C301.08,998.00 307.91,999.41 312.47,998.00 C317.02,996.59 321.58,992.45 326.14,989.53 C330.69,986.61 335.25,983.08 339.80,980.46 C344.36,977.83 348.92,975.62 353.47,973.80 C358.03,971.98 362.58,970.78 367.14,969.57 C371.70,968.36 378.53,967.04 380.81,966.54" stroke="#46506a" stroke-width="1.1" fill="none"/>
<rect x="297.90" y="997.10" width="1.80" height="1.80" fill="#222"/>
<line x1="312.47" y1="996.79" x2="312.47" y2="999.21" stroke="#2a2a2a" stroke-width="0.9" stroke-dasharray="1.3,0.5"/>
<line x1="311.87" y1="996.79" x2="313.07" y2="996.79" stroke="#2a2a2a" stroke-width="0.8"/>
<line x1="311.87" y1="999.21" x2="313.07" y2="999.21" stroke="#2a2a2a" stroke-width="0.8"/>
<rect x="311.57" y="997.10" width="1.80" height="1.80" fill="#222"/>
<line x1="326.14" y1="985.90" x2="326.14" y2="993.16" stroke="#2a2a2a" stroke-width="0.9" stroke-dasharray="1.3,0.5"/>
<line x1="325.54" y1="985.90" x2="326.74" y2="985.90" stroke="#2a2a2a" stroke-width="0.8"/>
<line x1="325.54" y1="993.16" x2="326.74" y2="993.16" stroke="#2a2a2a" stroke-width="0.8"/>
<rect x="325.24" y="988.63" width="1.80" height="1.80" fill="#222"/>
<line x1="339.80" y1="976.22" x2="339.80" y2="984.69" stroke="#2a2a2a" stroke-width="0.9" stroke-dasharray="1.3,0.5"/>
<line x1="339.20" y1="976.22" x2="340.40" y2="976.22" stroke="#2a2a2a" stroke-width="0.8"/>
<line x1="339.20" y1="984.69" x2="340.40" y2="984.69" stroke="#2a2a2a" stroke-width="0.8"/>
<rect x="338.90" y="979.56" width="1.80" height="1.80" fill="#222"/>
<line x1="353.47" y1="968.35" x2="353.47" y2="979.25" stroke="#2a2a2a" stroke-width="0.9" stroke-dasharray="1.3,0.5"/>
<line x1="352.87" y1="968.35" x2="354.07" y2="968.35" stroke="#2a2a2a" stroke-width="0.8"/>
<line x1="352.87" y1="979.25" x2="354.07" y2="979.25" stroke="#2a2a2a" stroke-width="0.8"/>
<rect x="352.57" y="972.90" width="1.80" height="1.80" fill="#222"/>
<line x1="367.14" y1="962.31" x2="367.14" y2="976.83" stroke="#2a2a2a" stroke-width="0.9" stroke-dasharray="1.3,0.5"/>
<line x1="366.54" y1="962.31" x2="367.74" y2="962.31" stroke="#2a2a2a" stroke-width="0.8"/>
<line x1="366.54" y1="976.83" x2="367.74" y2="976.83" stroke="#2a2a2a" stroke-width="0.8"/>
<rect x="366.24" y="968.67" width="1.80" height="1.80" fill="#222"/>
<line x1="380.81" y1="958.07" x2="380.81" y2="975.01" stroke="#2a2a2a" stroke-width="0.9" stroke-dasharray="1.3,0.5"/>
<line x1="380.21" y1="958.07" x2="381.41" y2="958.07" stroke="#2a2a2a" stroke-width="0.8"/>
<line x1="380.21" y1="975.01" x2="381.41" y2="975.01" stroke="#2a2a2a" stroke-width="0.8"/>
<rect x="379.91" y="965.64" width="1.80" height="1.80" fill="#222"/>
<path d="M298.80,998.00 C301.08,997.80 307.91,999.31 312.47,996.79 C317.02,994.27 321.58,988.02 326.14,982.88 C330.69,977.73 335.25,970.07 339.80,965.93 C344.36,961.80 348.92,959.99 353.47,958.07 C358.03,956.15 362.58,955.35 367.14,954.44 C371.70,953.53 378.53,952.93 380.81,952.62" stroke="#46506a" stroke-width="1.1" fill="none" stroke-dasharray="1.5,1"/>
<rect x="297.90" y="997.10" width="1.80" height="1.80" fill="#222"/>
<line x1="312.47" y1="994.97" x2="312.47" y2="998.61" stroke="#2a2a2a" stroke-width="0.9" stroke-dasharray="1.3,0.5"/>
<line x1="311.87" y1="994.97" x2="313.07" y2="994.97" stroke="#2a2a2a" stroke-width="0.8"/>
<line x1="311.87" y1="998.61" x2="313.07" y2="998.61" stroke="#2a2a2a" stroke-width="0.8"/>
<rect x="311.57" y="995.89" width="1.80" height="1.80" fill="#222"/>
<line x1="326.14" y1="978.03" x2="326.14" y2="987.72" stroke="#2a2a2a" stroke-width="0.9" stroke-dasharray="1.3,0.5"/>
<line x1="325.54" y1="978.03" x2="326.74" y2="978.03" stroke="#2a2a2a" stroke-width="0.8"/>
<line x1="325.54" y1="987.72" x2="326.74" y2="987.72" stroke="#2a2a2a" stroke-width="0.8"/>
<rect x="325.24" y="981.98" width="1.80" height="1.80" fill="#222"/>
<line x1="339.80" y1="960.49" x2="339.80" y2="971.38" stroke="#2a2a2a" stroke-width="0.9" stroke-dasharray="1.3,0.5"/>
<line x1="339.20" y1="960.49" x2="340.40" y2="960.49" stroke="#2a2a2a" stroke-width="0.8"/>
<line x1="339.20" y1="971.38" x2="340.40" y2="971.38" stroke="#2a2a2a" stroke-width="0.8"/>
<rect x="338.90" y="965.03" width="1.80" height="1.80" fill="#222"/>
<line x1="353.47" y1="952.02" x2="353.47" y2="964.12" stroke="#2a2a2a" stroke-width="0.9" stroke-dasharray="1.3,0.5"/>
<line x1="352.87" y1="952.02" x2="354.07" y2="952.02" stroke="#2a2a2a" stroke-width="0.8"/>
<line x1="352.87" y1="964.12" x2="354.07" y2="964.12" stroke="#2a2a2a" stroke-width="0.8"/>
<rect x="352.57" y="957.17" width="1.80" height="1.80" fill="#222"/>
<line x1="367.14" y1="947.18" x2="367.14" y2="961.70" stroke="#2a2a2a" stroke-width="0.9" stroke-dasharray="1.3,0.5"/>
<line x1="366.54" y1="947.18" x2="367.74" y2="947.18" stroke="#2a2a2a" stroke-width="0.8"/>
<line x1="366.54" y1="961.70" x2="367.74" y2="961.70" stroke="#2a2a2a" stroke-width="0.8"/>
<rect x="366.24" y="953.54" width="1.80" height="1.80" fill="#222"/>
<line x1="380.81" y1="943.55" x2="380.81" y2="961.70" stroke="#2a2a2a" stroke-width="0.9" stroke-dasharray="1.3,0.5"/>
<line x1="380.21" y1="943.55" x2="381.41" y2="943.55" stroke="#2a2a2a" stroke-width="0.8"/>
<line x1="380.21" y1="961.70" x2="381.41" y2="961.70" stroke="#2a2a2a" stroke-width="0.8"/>
<rect x="379.91" y="951.73" width="1.80" height="1.80" fill="#222"/>
<text x="389.80" y="718.20" font-size="11.5" stroke="#000" stroke-width="0.22" font-weight="bold" fill="#000">J</text>
<text x="463.80" y="733.80" font-size="10.49" stroke="#1a1a1a" stroke-width="0.22" text-anchor="middle" textLength="92.50" lengthAdjust="spacingAndGlyphs">0.0125 U/ml thrombin</text>
<text x="462.30" y="749.00" font-size="8.24" stroke="#1a1a1a" stroke-width="0.22" text-anchor="middle" textLength="48.50" lengthAdjust="spacingAndGlyphs">Time (second)</text>
<text x="424.80" y="759.00" font-size="6.3" stroke="#1a1a1a" stroke-width="0.14" text-anchor="middle">0</text>
<text x="443.30" y="759.00" font-size="6.3" stroke="#1a1a1a" stroke-width="0.14" text-anchor="middle">100</text>
<text x="461.80" y="759.00" font-size="6.3" stroke="#1a1a1a" stroke-width="0.14" text-anchor="middle">200</text>
<text x="480.30" y="759.00" font-size="6.3" stroke="#1a1a1a" stroke-width="0.14" text-anchor="middle">300</text>
<text x="498.80" y="759.00" font-size="6.3" stroke="#1a1a1a" stroke-width="0.14" text-anchor="middle">400</text>
<line x1="424.30" y1="764.80" x2="502.20" y2="764.80" stroke="#1a1a1a" stroke-width="1.1"/>
<line x1="434.05" y1="763.20" x2="434.05" y2="764.80" stroke="#1a1a1a" stroke-width="0.8"/>
<line x1="443.30" y1="763.20" x2="443.30" y2="764.80" stroke="#1a1a1a" stroke-width="0.8"/>
<line x1="452.55" y1="763.20" x2="452.55" y2="764.80" stroke="#1a1a1a" stroke-width="0.8"/>
<line x1="461.80" y1="763.20" x2="461.80" y2="764.80" stroke="#1a1a1a" stroke-width="0.8"/>
<line x1="471.05" y1="763.20" x2="471.05" y2="764.80" stroke="#1a1a1a" stroke-width="0.8"/>
<line x1="480.30" y1="763.20" x2="480.30" y2="764.80" stroke="#1a1a1a" stroke-width="0.8"/>
<line x1="489.55" y1="763.20" x2="489.55" y2="764.80" stroke="#1a1a1a" stroke-width="0.8"/>
<line x1="498.80" y1="763.20" x2="498.80" y2="764.80" stroke="#1a1a1a" stroke-width="0.8"/>
<line x1="424.80" y1="764.30" x2="424.80" y2="825.80" stroke="#1a1a1a" stroke-width="1.1"/>
<line x1="422.60" y1="764.80" x2="424.80" y2="764.80" stroke="#1a1a1a" stroke-width="0.9"/>
<text x="419.80" y="767.05" font-size="6.3" stroke="#1a1a1a" stroke-width="0.14" text-anchor="end">0</text>
<line x1="422.60" y1="776.90" x2="424.80" y2="776.90" stroke="#1a1a1a" stroke-width="0.9"/>
<text x="419.80" y="779.15" font-size="6.3" stroke="#1a1a1a" stroke-width="0.14" text-anchor="end">20</text>
<line x1="422.60" y1="789.00" x2="424.80" y2="789.00" stroke="#1a1a1a" stroke-width="0.9"/>
<text x="419.80" y="791.25" font-size="6.3" stroke="#1a1a1a" stroke-width="0.14" text-anchor="end">40</text>
<line x1="422.60" y1="801.10" x2="424.80" y2="801.10" stroke="#1a1a1a" stroke-width="0.9"/>
<text x="419.80" y="803.35" font-size="6.3" stroke="#1a1a1a" stroke-width="0.14" text-anchor="end">60</text>
<line x1="422.60" y1="813.20" x2="424.80" y2="813.20" stroke="#1a1a1a" stroke-width="0.9"/>
<text x="419.80" y="815.45" font-size="6.3" stroke="#1a1a1a" stroke-width="0.14" text-anchor="end">80</text>
<line x1="422.60" y1="825.30" x2="424.80" y2="825.30" stroke="#1a1a1a" stroke-width="0.9"/>
<text x="419.80" y="827.55" font-size="6.3" stroke="#1a1a1a" stroke-width="0.14" text-anchor="end">100</text>
<text x="406.50" y="795.05" font-size="7.8" stroke="#1a1a1a" stroke-width="0.22" text-anchor="middle" textLength="63.50" lengthAdjust="spacingAndGlyphs" transform="rotate(-90 406.50 795.05)">Light transmission</text>
<path d="M424.80,773.81 C425.57,773.81 428.07,775.01 429.43,773.81 C430.78,772.61 431.06,766.91 432.94,766.62 C434.82,766.32 438.24,769.74 440.71,772.06 C443.18,774.38 445.43,777.96 447.74,780.53 C450.05,783.10 452.74,785.97 454.59,787.49 C456.44,789.00 457.11,789.35 458.84,789.60 C460.57,789.86 461.34,789.17 464.94,789.00 C468.55,788.83 474.84,788.74 480.49,788.58 C486.13,788.42 495.75,788.12 498.80,788.03" stroke="#a83a5a" stroke-width="1.2" fill="none"/>
<path d="M424.80,773.81 C425.57,773.81 428.07,775.01 429.43,773.81 C430.78,772.61 431.18,766.50 432.94,766.62 C434.70,766.73 437.69,771.35 439.97,774.48 C442.25,777.61 444.53,782.24 446.63,785.37 C448.73,788.50 450.51,791.42 452.55,793.23 C454.59,795.05 456.77,796.06 458.84,796.26 C460.91,796.46 461.37,795.05 464.94,794.44 C468.52,793.84 474.66,793.03 480.30,792.63 C485.94,792.23 495.72,792.13 498.80,792.02" stroke="#6a7890" stroke-width="1.1" fill="none"/>
<path d="M424.80,773.81 C425.57,773.81 428.07,775.01 429.43,773.81 C430.78,772.61 431.24,766.40 432.94,766.62 C434.64,766.83 437.41,771.66 439.60,775.08 C441.79,778.51 443.92,783.76 446.07,787.18 C448.23,790.61 450.42,793.74 452.55,795.65 C454.68,797.57 456.07,798.43 458.84,798.68 C461.62,798.93 465.62,797.51 469.20,797.17 C472.78,796.82 475.37,796.98 480.30,796.62 C485.23,796.27 495.72,795.31 498.80,795.05" stroke="#7a2040" stroke-width="1.4" fill="none"/>
<path d="M424.80,773.81 C425.57,773.81 428.07,775.01 429.43,773.81 C430.78,772.61 431.34,766.10 432.94,766.62 C434.54,767.13 437.16,772.97 439.05,776.90 C440.93,780.83 442.34,786.11 444.23,790.21 C446.11,794.31 448.33,798.63 450.33,801.52 C452.33,804.42 454.40,806.36 456.25,807.57 C458.10,808.78 457.39,808.78 461.43,808.78 C465.47,808.78 474.26,808.16 480.49,807.57 C486.71,806.99 495.75,805.66 498.80,805.27" stroke="#2a3a66" stroke-width="1.3" fill="none"/>
<line x1="427.60" y1="807.80" x2="430.60" y2="807.80" stroke="#2a3a66" stroke-width="0.9"/>
<text x="432.00" y="809.40" font-size="5.6" stroke="#333" stroke-width="0.14" fill="#333">WT</text>
<line x1="427.60" y1="814.40" x2="430.60" y2="814.40" stroke="#a83a5a" stroke-width="0.9"/>
<text x="432.00" y="816.00" font-size="5.6" stroke="#333" stroke-width="0.14" fill="#333">DREAM KO</text>
<line x1="427.60" y1="820.80" x2="430.60" y2="820.80" stroke="#6a7890" stroke-width="0.9"/>
<text x="432.00" y="822.40" font-size="5.6" stroke="#333" stroke-width="0.14" fill="#333">WT + Aspirin</text>
<line x1="427.60" y1="827.20" x2="428.80" y2="827.20" stroke="#333" stroke-width="0.9"/>
<line x1="429.50" y1="827.20" x2="430.70" y2="827.20" stroke="#333" stroke-width="0.9"/>
<text x="432.00" y="828.80" font-size="5.6" stroke="#333" stroke-width="0.14" fill="#333">DREAM KO + Aspirin</text>
<line x1="425.00" y1="936.32" x2="425.00" y2="998.50" stroke="#1a1a1a" stroke-width="1.1"/>
<line x1="422.70" y1="998.00" x2="425.00" y2="998.00" stroke="#1a1a1a" stroke-width="0.9"/>
<text x="420.00" y="1000.25" font-size="6.3" stroke="#1a1a1a" stroke-width="0.14" text-anchor="end">0</text>
<line x1="422.70" y1="982.88" x2="425.00" y2="982.88" stroke="#1a1a1a" stroke-width="0.9"/>
<text x="420.00" y="985.13" font-size="6.3" stroke="#1a1a1a" stroke-width="0.14" text-anchor="end">20</text>
<line x1="422.70" y1="967.76" x2="425.00" y2="967.76" stroke="#1a1a1a" stroke-width="0.9"/>
<text x="420.00" y="970.01" font-size="6.3" stroke="#1a1a1a" stroke-width="0.14" text-anchor="end">40</text>
<line x1="422.70" y1="952.64" x2="425.00" y2="952.64" stroke="#1a1a1a" stroke-width="0.9"/>
<text x="420.00" y="954.89" font-size="6.3" stroke="#1a1a1a" stroke-width="0.14" text-anchor="end">60</text>
<line x1="422.70" y1="937.52" x2="425.00" y2="937.52" stroke="#1a1a1a" stroke-width="0.9"/>
<text x="420.00" y="939.77" font-size="6.3" stroke="#1a1a1a" stroke-width="0.14" text-anchor="end">80</text>
<line x1="424.50" y1="998.00" x2="511.02" y2="998.00" stroke="#1a1a1a" stroke-width="1.1"/>
<line x1="425.00" y1="998.00" x2="425.00" y2="999.80" stroke="#1a1a1a" stroke-width="0.9"/>
<text x="426.80" y="1006.60" font-size="6.9" stroke="#1a1a1a" stroke-width="0.2" text-anchor="end" transform="rotate(-45 426.80 1006.60)">0</text>
<line x1="446.13" y1="998.00" x2="446.13" y2="999.80" stroke="#1a1a1a" stroke-width="0.9"/>
<text x="447.93" y="1006.60" font-size="6.9" stroke="#1a1a1a" stroke-width="0.2" text-anchor="end" transform="rotate(-45 447.93 1006.60)">100</text>
<line x1="467.26" y1="998.00" x2="467.26" y2="999.80" stroke="#1a1a1a" stroke-width="0.9"/>
<text x="469.06" y="1006.60" font-size="6.9" stroke="#1a1a1a" stroke-width="0.2" text-anchor="end" transform="rotate(-45 469.06 1006.60)">200</text>
<line x1="488.39" y1="998.00" x2="488.39" y2="999.80" stroke="#1a1a1a" stroke-width="0.9"/>
<text x="490.19" y="1006.60" font-size="6.9" stroke="#1a1a1a" stroke-width="0.2" text-anchor="end" transform="rotate(-45 490.19 1006.60)">300</text>
<line x1="509.52" y1="998.00" x2="509.52" y2="999.80" stroke="#1a1a1a" stroke-width="0.9"/>
<text x="511.32" y="1006.60" font-size="6.9" stroke="#1a1a1a" stroke-width="0.2" text-anchor="end" transform="rotate(-45 511.32 1006.60)">400</text>
<text x="468.76" y="1024.90" font-size="8.24" stroke="#1a1a1a" stroke-width="0.22" text-anchor="middle" textLength="48.50" lengthAdjust="spacingAndGlyphs">Time (second)</text>
<text x="406.50" y="966.76" font-size="7.7" stroke="#1a1a1a" stroke-width="0.22" text-anchor="middle" textLength="57.00" lengthAdjust="spacingAndGlyphs" transform="rotate(-90 406.50 966.76)">Aggregation (%)</text>
<path d="M425.00,998.00 C428.52,997.75 439.09,999.64 446.13,996.49 C453.17,993.34 460.22,981.75 467.26,979.10 C474.30,976.45 481.35,980.23 488.39,980.61 C495.43,980.99 506.00,981.24 509.52,981.37" stroke="#b84a66" stroke-width="1.1" fill="none" stroke-dasharray="1.5,1"/>
<rect x="424.10" y="997.10" width="1.80" height="1.80" fill="#222"/>
<line x1="446.13" y1="994.98" x2="446.13" y2="998.00" stroke="#2a2a2a" stroke-width="0.9" stroke-dasharray="1.3,0.5"/>
<line x1="445.53" y1="994.98" x2="446.73" y2="994.98" stroke="#2a2a2a" stroke-width="0.8"/>
<line x1="445.53" y1="998.00" x2="446.73" y2="998.00" stroke="#2a2a2a" stroke-width="0.8"/>
<rect x="445.23" y="995.59" width="1.80" height="1.80" fill="#222"/>
<line x1="467.26" y1="976.08" x2="467.26" y2="982.12" stroke="#2a2a2a" stroke-width="0.9" stroke-dasharray="1.3,0.5"/>
<line x1="466.66" y1="976.08" x2="467.86" y2="976.08" stroke="#2a2a2a" stroke-width="0.8"/>
<line x1="466.66" y1="982.12" x2="467.86" y2="982.12" stroke="#2a2a2a" stroke-width="0.8"/>
<rect x="466.36" y="978.20" width="1.80" height="1.80" fill="#222"/>
<line x1="488.39" y1="977.59" x2="488.39" y2="983.64" stroke="#2a2a2a" stroke-width="0.9" stroke-dasharray="1.3,0.5"/>
<line x1="487.79" y1="977.59" x2="488.99" y2="977.59" stroke="#2a2a2a" stroke-width="0.8"/>
<line x1="487.79" y1="983.64" x2="488.99" y2="983.64" stroke="#2a2a2a" stroke-width="0.8"/>
<rect x="487.49" y="979.71" width="1.80" height="1.80" fill="#222"/>
<line x1="509.52" y1="978.34" x2="509.52" y2="984.39" stroke="#2a2a2a" stroke-width="0.9" stroke-dasharray="1.3,0.5"/>
<line x1="508.92" y1="978.34" x2="510.12" y2="978.34" stroke="#2a2a2a" stroke-width="0.8"/>
<line x1="508.92" y1="984.39" x2="510.12" y2="984.39" stroke="#2a2a2a" stroke-width="0.8"/>
<rect x="508.62" y="980.47" width="1.80" height="1.80" fill="#222"/>
<path d="M425.00,998.00 C428.52,997.37 439.09,999.26 446.13,994.22 C453.17,989.18 460.22,971.92 467.26,967.76 C474.30,963.60 481.35,968.77 488.39,969.27 C495.43,969.78 506.00,970.53 509.52,970.78" stroke="#6a3050" stroke-width="1.1" fill="none" stroke-dasharray="1,0.8"/>
<rect x="424.10" y="997.10" width="1.80" height="1.80" fill="#222"/>
<line x1="446.13" y1="991.20" x2="446.13" y2="997.24" stroke="#2a2a2a" stroke-width="0.9" stroke-dasharray="1.3,0.5"/>
<line x1="445.53" y1="991.20" x2="446.73" y2="991.20" stroke="#2a2a2a" stroke-width="0.8"/>
<line x1="445.53" y1="997.24" x2="446.73" y2="997.24" stroke="#2a2a2a" stroke-width="0.8"/>
<rect x="445.23" y="993.32" width="1.80" height="1.80" fill="#222"/>
<line x1="467.26" y1="963.98" x2="467.26" y2="971.54" stroke="#2a2a2a" stroke-width="0.9" stroke-dasharray="1.3,0.5"/>
<line x1="466.66" y1="963.98" x2="467.86" y2="963.98" stroke="#2a2a2a" stroke-width="0.8"/>
<line x1="466.66" y1="971.54" x2="467.86" y2="971.54" stroke="#2a2a2a" stroke-width="0.8"/>
<rect x="466.36" y="966.86" width="1.80" height="1.80" fill="#222"/>
<line x1="488.39" y1="965.49" x2="488.39" y2="973.05" stroke="#2a2a2a" stroke-width="0.9" stroke-dasharray="1.3,0.5"/>
<line x1="487.79" y1="965.49" x2="488.99" y2="965.49" stroke="#2a2a2a" stroke-width="0.8"/>
<line x1="487.79" y1="973.05" x2="488.99" y2="973.05" stroke="#2a2a2a" stroke-width="0.8"/>
<rect x="487.49" y="968.37" width="1.80" height="1.80" fill="#222"/>
<line x1="509.52" y1="967.00" x2="509.52" y2="974.56" stroke="#2a2a2a" stroke-width="0.9" stroke-dasharray="1.3,0.5"/>
<line x1="508.92" y1="967.00" x2="510.12" y2="967.00" stroke="#2a2a2a" stroke-width="0.8"/>
<line x1="508.92" y1="974.56" x2="510.12" y2="974.56" stroke="#2a2a2a" stroke-width="0.8"/>
<rect x="508.62" y="969.88" width="1.80" height="1.80" fill="#222"/>
<path d="M425.00,998.00 C428.52,996.87 439.09,996.36 446.13,991.20 C453.17,986.03 462.33,971.16 467.26,967.00 C472.19,962.85 472.19,965.74 475.71,966.25 C479.23,966.75 482.76,969.40 488.39,970.03 C494.02,970.66 506.00,970.03 509.52,970.03" stroke="#a3304f" stroke-width="1.1" fill="none"/>
<rect x="424.10" y="997.10" width="1.80" height="1.80" fill="#222"/>
<line x1="446.13" y1="987.42" x2="446.13" y2="994.98" stroke="#2a2a2a" stroke-width="0.9" stroke-dasharray="1.3,0.5"/>
<line x1="445.53" y1="987.42" x2="446.73" y2="987.42" stroke="#2a2a2a" stroke-width="0.8"/>
<line x1="445.53" y1="994.98" x2="446.73" y2="994.98" stroke="#2a2a2a" stroke-width="0.8"/>
<rect x="445.23" y="990.30" width="1.80" height="1.80" fill="#222"/>
<line x1="467.26" y1="963.22" x2="467.26" y2="970.78" stroke="#2a2a2a" stroke-width="0.9" stroke-dasharray="1.3,0.5"/>
<line x1="466.66" y1="963.22" x2="467.86" y2="963.22" stroke="#2a2a2a" stroke-width="0.8"/>
<line x1="466.66" y1="970.78" x2="467.86" y2="970.78" stroke="#2a2a2a" stroke-width="0.8"/>
<rect x="466.36" y="966.10" width="1.80" height="1.80" fill="#222"/>
<rect x="474.81" y="965.35" width="1.80" height="1.80" fill="#222"/>
<line x1="488.39" y1="966.25" x2="488.39" y2="973.81" stroke="#2a2a2a" stroke-width="0.9" stroke-dasharray="1.3,0.5"/>
<line x1="487.79" y1="966.25" x2="488.99" y2="966.25" stroke="#2a2a2a" stroke-width="0.8"/>
<line x1="487.79" y1="973.81" x2="488.99" y2="973.81" stroke="#2a2a2a" stroke-width="0.8"/>
<rect x="487.49" y="969.13" width="1.80" height="1.80" fill="#222"/>
<line x1="509.52" y1="966.25" x2="509.52" y2="973.81" stroke="#2a2a2a" stroke-width="0.9" stroke-dasharray="1.3,0.5"/>
<line x1="508.92" y1="966.25" x2="510.12" y2="966.25" stroke="#2a2a2a" stroke-width="0.8"/>
<line x1="508.92" y1="973.81" x2="510.12" y2="973.81" stroke="#2a2a2a" stroke-width="0.8"/>
<rect x="508.62" y="969.13" width="1.80" height="1.80" fill="#222"/>
<path d="M425.00,998.00 C428.52,995.86 439.09,991.95 446.13,985.15 C453.17,978.34 462.33,962.15 467.26,957.18 C472.19,952.20 472.19,955.41 475.71,955.29 C479.23,955.16 482.76,956.23 488.39,956.42 C494.02,956.61 506.00,956.42 509.52,956.42" stroke="#46506a" stroke-width="1.1" fill="none"/>
<rect x="424.10" y="997.10" width="1.80" height="1.80" fill="#222"/>
<line x1="446.13" y1="978.34" x2="446.13" y2="991.95" stroke="#2a2a2a" stroke-width="0.9" stroke-dasharray="1.3,0.5"/>
<line x1="445.53" y1="978.34" x2="446.73" y2="978.34" stroke="#2a2a2a" stroke-width="0.8"/>
<line x1="445.53" y1="991.95" x2="446.73" y2="991.95" stroke="#2a2a2a" stroke-width="0.8"/>
<rect x="445.23" y="984.25" width="1.80" height="1.80" fill="#222"/>
<line x1="467.26" y1="952.64" x2="467.26" y2="961.71" stroke="#2a2a2a" stroke-width="0.9" stroke-dasharray="1.3,0.5"/>
<line x1="466.66" y1="952.64" x2="467.86" y2="952.64" stroke="#2a2a2a" stroke-width="0.8"/>
<line x1="466.66" y1="961.71" x2="467.86" y2="961.71" stroke="#2a2a2a" stroke-width="0.8"/>
<rect x="466.36" y="956.28" width="1.80" height="1.80" fill="#222"/>
<rect x="474.81" y="954.39" width="1.80" height="1.80" fill="#222"/>
<line x1="488.39" y1="952.64" x2="488.39" y2="960.20" stroke="#2a2a2a" stroke-width="0.9" stroke-dasharray="1.3,0.5"/>
<line x1="487.79" y1="952.64" x2="488.99" y2="952.64" stroke="#2a2a2a" stroke-width="0.8"/>
<line x1="487.79" y1="960.20" x2="488.99" y2="960.20" stroke="#2a2a2a" stroke-width="0.8"/>
<rect x="487.49" y="955.52" width="1.80" height="1.80" fill="#222"/>
<line x1="509.52" y1="951.13" x2="509.52" y2="961.71" stroke="#2a2a2a" stroke-width="0.9" stroke-dasharray="1.3,0.5"/>
<line x1="508.92" y1="951.13" x2="510.12" y2="951.13" stroke="#2a2a2a" stroke-width="0.8"/>
<line x1="508.92" y1="961.71" x2="510.12" y2="961.71" stroke="#2a2a2a" stroke-width="0.8"/>
<rect x="508.62" y="955.52" width="1.80" height="1.80" fill="#222"/>
<rect x="0" y="0" width="520" height="1" fill="#000"/><rect x="0" y="0" width="1" height="1106" fill="#000"/><rect x="518.8" y="0" width="1.2" height="1106" fill="#000"/><rect x="0" y="1104.7" width="520" height="1.3" fill="#000"/>
</svg>
</body></html>
